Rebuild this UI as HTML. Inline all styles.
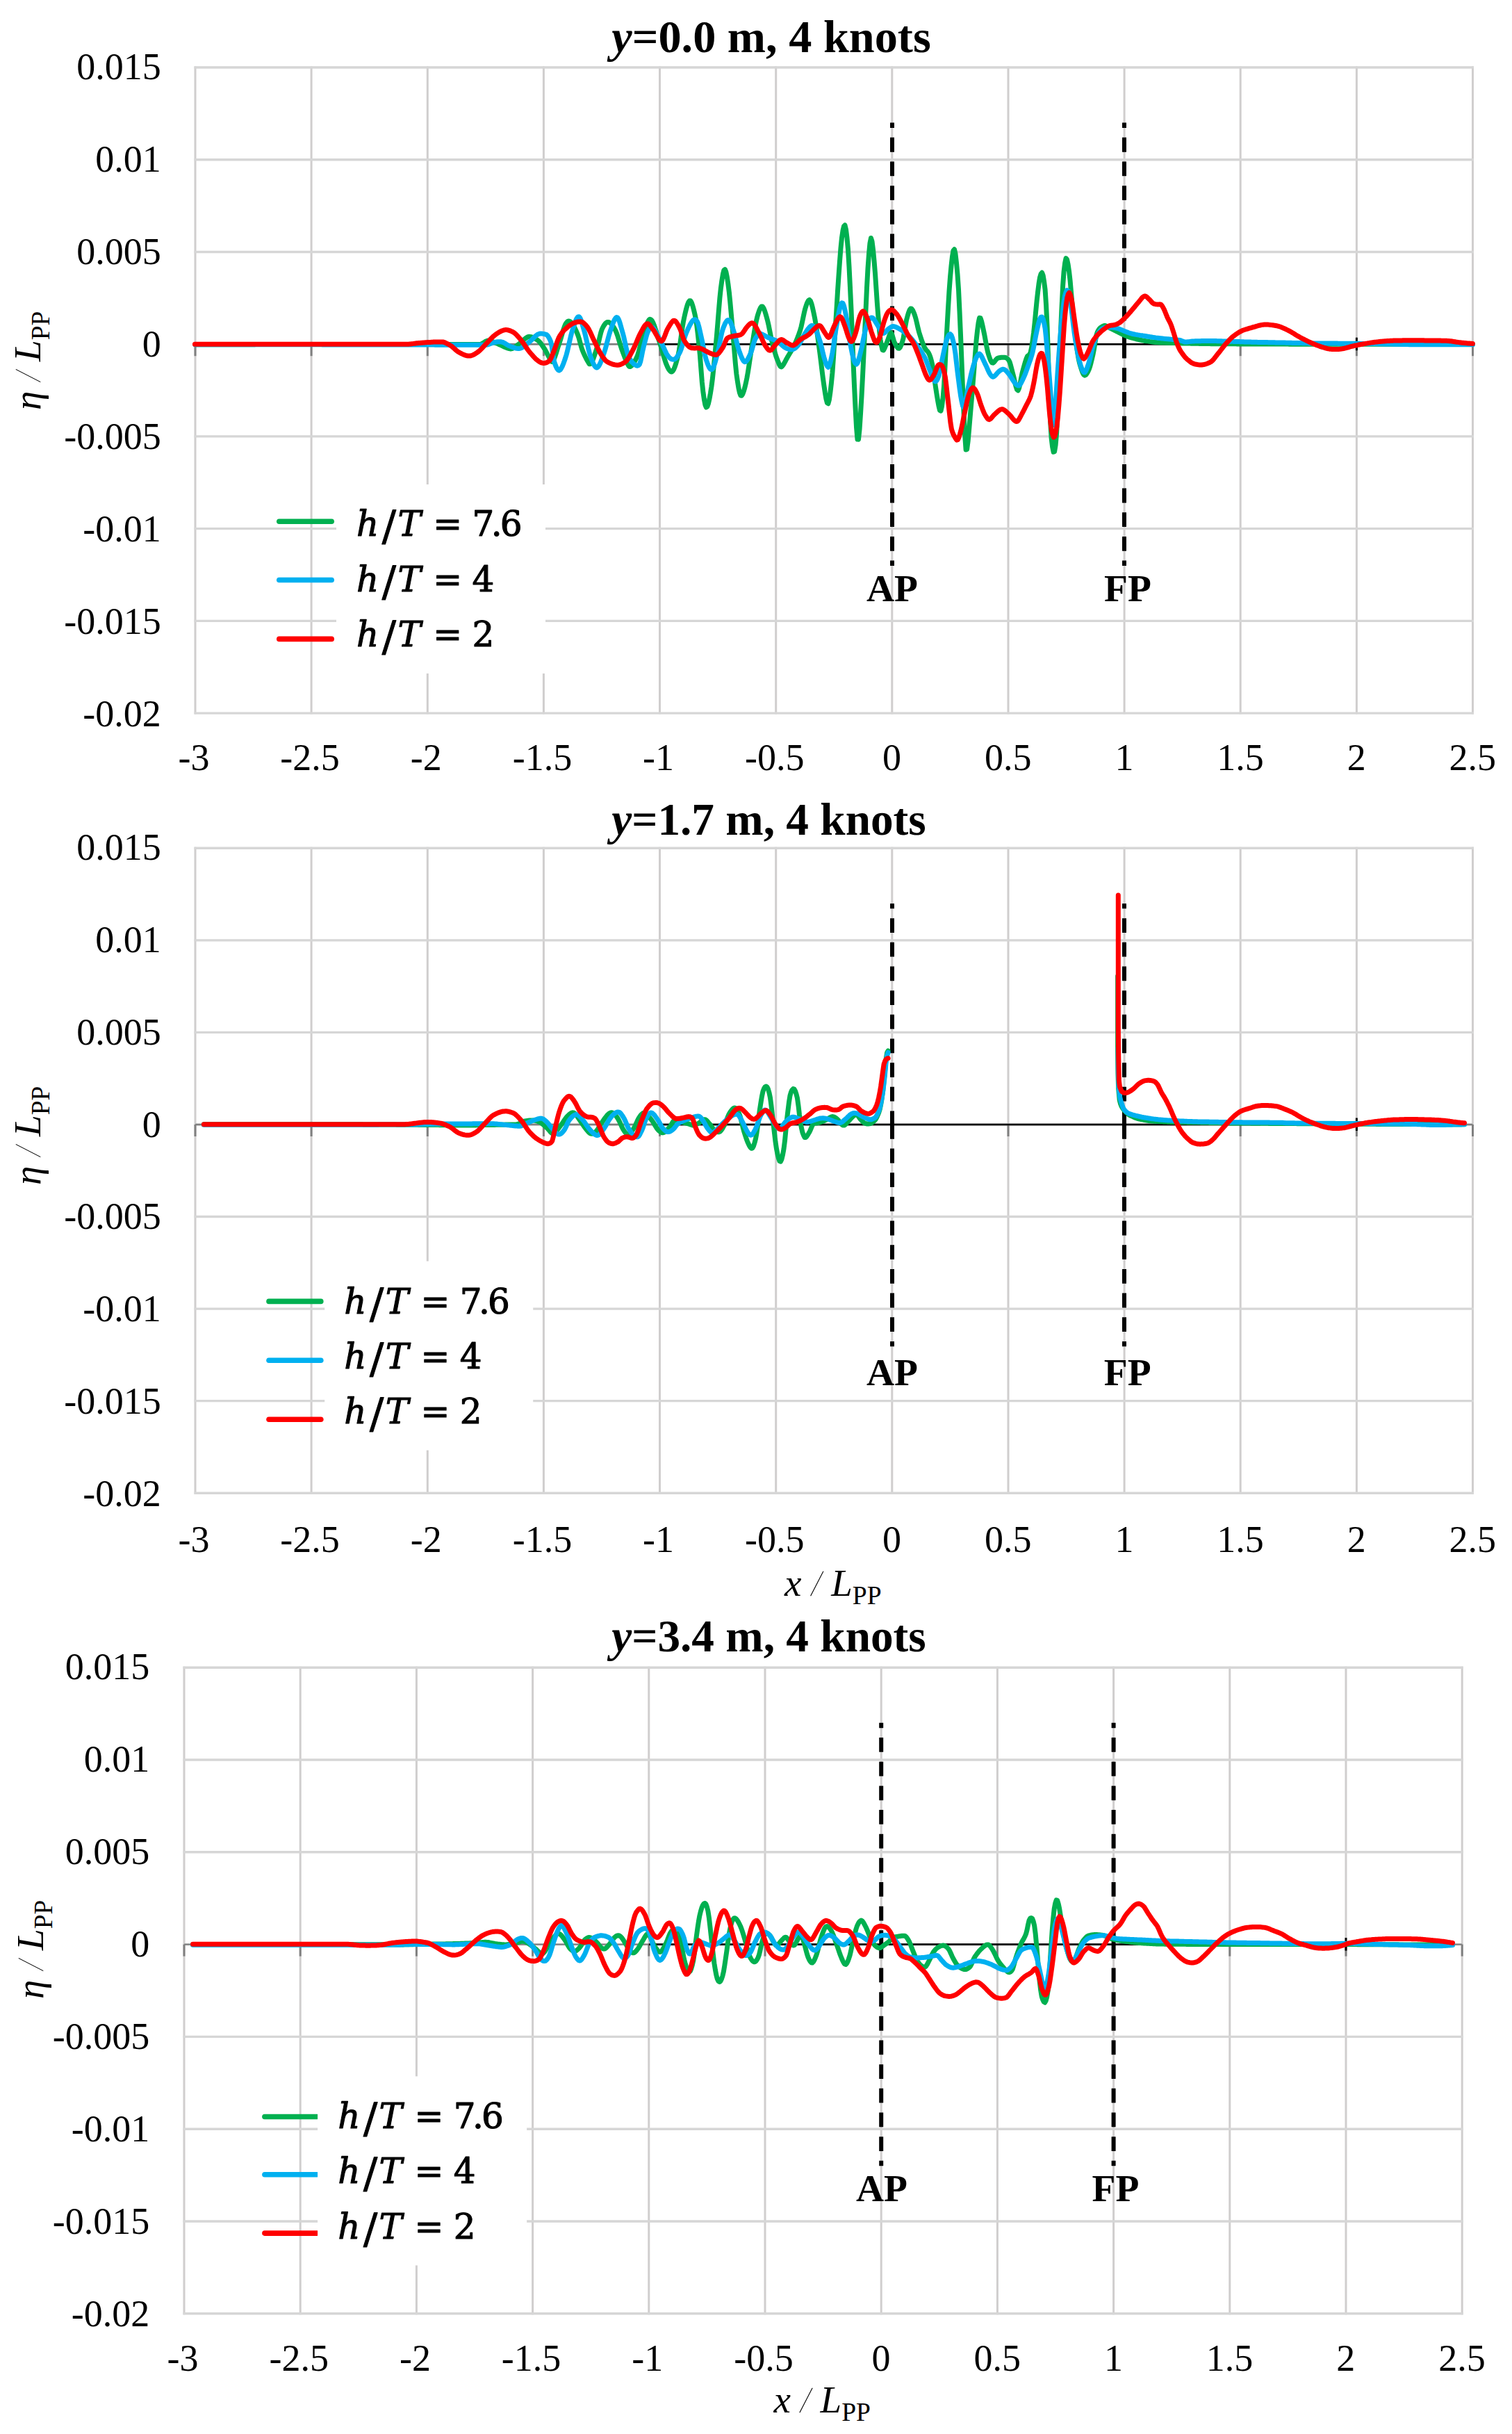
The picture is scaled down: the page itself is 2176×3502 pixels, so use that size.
<!DOCTYPE html>
<html><head><meta charset="utf-8"><title>Wave elevation profiles</title>
<style>html,body{margin:0;padding:0;background:#fff}svg{display:block}</style></head>
<body>
<svg width="2176" height="3502" viewBox="0 0 2176 3502">
<rect width="2176" height="3502" fill="#fff"/>
<line x1="281.0" y1="95.5" x2="281.0" y2="1027.6" stroke="#d0cece" stroke-width="3"/>
<line x1="448.1" y1="95.5" x2="448.1" y2="1027.6" stroke="#d0cece" stroke-width="3"/>
<line x1="615.3" y1="95.5" x2="615.3" y2="1027.6" stroke="#d0cece" stroke-width="3"/>
<line x1="782.4" y1="95.5" x2="782.4" y2="1027.6" stroke="#d0cece" stroke-width="3"/>
<line x1="949.5" y1="95.5" x2="949.5" y2="1027.6" stroke="#d0cece" stroke-width="3"/>
<line x1="1116.7" y1="95.5" x2="1116.7" y2="1027.6" stroke="#d0cece" stroke-width="3"/>
<line x1="1283.8" y1="95.5" x2="1283.8" y2="1027.6" stroke="#d0cece" stroke-width="3"/>
<line x1="1451.0" y1="95.5" x2="1451.0" y2="1027.6" stroke="#d0cece" stroke-width="3"/>
<line x1="1618.1" y1="95.5" x2="1618.1" y2="1027.6" stroke="#d0cece" stroke-width="3"/>
<line x1="1785.2" y1="95.5" x2="1785.2" y2="1027.6" stroke="#d0cece" stroke-width="3"/>
<line x1="1952.4" y1="95.5" x2="1952.4" y2="1027.6" stroke="#d0cece" stroke-width="3"/>
<line x1="2119.5" y1="95.5" x2="2119.5" y2="1027.6" stroke="#d0cece" stroke-width="3"/>
<line x1="279.5" y1="97.0" x2="2121.0" y2="97.0" stroke="#d6d6d6" stroke-width="3.4"/>
<line x1="279.5" y1="229.7" x2="2121.0" y2="229.7" stroke="#d6d6d6" stroke-width="3.4"/>
<line x1="279.5" y1="362.5" x2="2121.0" y2="362.5" stroke="#d6d6d6" stroke-width="3.4"/>
<line x1="279.5" y1="495.2" x2="2121.0" y2="495.2" stroke="#d6d6d6" stroke-width="3.4"/>
<line x1="279.5" y1="627.9" x2="2121.0" y2="627.9" stroke="#d6d6d6" stroke-width="3.4"/>
<line x1="279.5" y1="760.6" x2="2121.0" y2="760.6" stroke="#d6d6d6" stroke-width="3.4"/>
<line x1="279.5" y1="893.4" x2="2121.0" y2="893.4" stroke="#d6d6d6" stroke-width="3.4"/>
<line x1="279.5" y1="1026.1" x2="2121.0" y2="1026.1" stroke="#d6d6d6" stroke-width="3.4"/>
<line x1="281.0" y1="495.2" x2="281.0" y2="512.2" stroke="#808080" stroke-width="3"/>
<line x1="448.1" y1="495.2" x2="448.1" y2="512.2" stroke="#808080" stroke-width="3"/>
<line x1="615.3" y1="495.2" x2="615.3" y2="512.2" stroke="#808080" stroke-width="3"/>
<line x1="782.4" y1="495.2" x2="782.4" y2="512.2" stroke="#808080" stroke-width="3"/>
<line x1="949.5" y1="495.2" x2="949.5" y2="512.2" stroke="#808080" stroke-width="3"/>
<line x1="1116.7" y1="495.2" x2="1116.7" y2="512.2" stroke="#808080" stroke-width="3"/>
<line x1="1283.8" y1="495.2" x2="1283.8" y2="512.2" stroke="#808080" stroke-width="3"/>
<line x1="1451.0" y1="495.2" x2="1451.0" y2="512.2" stroke="#808080" stroke-width="3"/>
<line x1="1618.1" y1="495.2" x2="1618.1" y2="512.2" stroke="#808080" stroke-width="3"/>
<line x1="1785.2" y1="495.2" x2="1785.2" y2="512.2" stroke="#808080" stroke-width="3"/>
<line x1="1952.4" y1="495.2" x2="1952.4" y2="512.2" stroke="#808080" stroke-width="3"/>
<line x1="2119.5" y1="495.2" x2="2119.5" y2="512.2" stroke="#808080" stroke-width="3"/>
<line x1="281.0" y1="495.2" x2="2119.5" y2="495.2" stroke="#808080" stroke-width="2.4"/>
<line x1="949.5" y1="495.2" x2="1742.0" y2="495.2" stroke="#000" stroke-width="2.6"/>
<line x1="1952.4" y1="485.7" x2="1952.4" y2="504.2" stroke="#000" stroke-width="3"/>
<line x1="401.8" y1="750.3" x2="477.2" y2="750.3" stroke="#00b050" stroke-width="7.6" stroke-linecap="round"/>
<line x1="401.8" y1="834.5" x2="477.2" y2="834.5" stroke="#00b0f0" stroke-width="7.6" stroke-linecap="round"/>
<line x1="401.8" y1="919.4" x2="477.2" y2="919.4" stroke="#ff0000" stroke-width="7.6" stroke-linecap="round"/>
<rect x="484.0" y="697.0" width="301.0" height="272.0" fill="#fff"/>
<line x1="1284.0" y1="176.6" x2="1284.0" y2="495.2" stroke="#000" stroke-width="6" stroke-dasharray="20.8 13.86" stroke-dashoffset="13.4"/>
<line x1="1284.0" y1="814.0" x2="1284.0" y2="495.2" stroke="#000" stroke-width="6" stroke-dasharray="20.8 13.86" stroke-dashoffset="13.4"/>
<line x1="1618.0" y1="176.6" x2="1618.0" y2="495.2" stroke="#000" stroke-width="6" stroke-dasharray="20.8 13.86" stroke-dashoffset="13.4"/>
<line x1="1618.0" y1="814.0" x2="1618.0" y2="495.2" stroke="#000" stroke-width="6" stroke-dasharray="20.8 13.86" stroke-dashoffset="13.4"/>
<path d="M281.0 495.7 L282.5 495.7 L284.0 495.7 L285.5 495.7 L287.0 495.7 L288.5 495.7 L290.0 495.7 L291.5 495.7 L293.0 495.7 L294.5 495.7 L296.0 495.7 L297.5 495.7 L299.0 495.7 L300.5 495.7 L302.0 495.7 L303.5 495.7 L305.0 495.7 L306.5 495.7 L308.0 495.7 L309.5 495.7 L311.0 495.7 L312.5 495.7 L314.0 495.7 L315.5 495.7 L317.0 495.7 L318.5 495.7 L320.0 495.7 L321.5 495.7 L323.0 495.7 L324.5 495.7 L326.0 495.7 L327.5 495.7 L329.0 495.7 L330.5 495.7 L332.0 495.7 L333.5 495.7 L335.0 495.7 L336.5 495.7 L338.0 495.7 L339.5 495.7 L341.0 495.7 L342.5 495.7 L344.0 495.7 L345.5 495.7 L347.0 495.7 L348.5 495.7 L350.0 495.7 L351.5 495.7 L353.0 495.7 L354.5 495.7 L356.0 495.7 L357.5 495.7 L359.0 495.7 L360.5 495.7 L362.0 495.7 L363.5 495.7 L365.0 495.7 L366.5 495.7 L368.0 495.6 L369.5 495.6 L371.0 495.6 L372.5 495.6 L374.0 495.6 L375.5 495.6 L377.0 495.6 L378.5 495.6 L380.0 495.6 L381.5 495.6 L383.0 495.6 L384.5 495.6 L386.0 495.6 L387.5 495.6 L389.0 495.6 L390.5 495.6 L392.0 495.6 L393.5 495.6 L395.0 495.6 L396.5 495.6 L398.0 495.6 L399.5 495.6 L401.0 495.6 L402.5 495.6 L404.0 495.6 L405.5 495.6 L407.0 495.6 L408.5 495.6 L410.0 495.6 L411.5 495.6 L413.0 495.6 L414.5 495.6 L416.0 495.6 L417.5 495.6 L419.0 495.6 L420.5 495.6 L422.0 495.6 L423.5 495.6 L425.0 495.6 L426.5 495.6 L428.0 495.6 L429.5 495.6 L431.0 495.6 L432.5 495.6 L434.0 495.6 L435.5 495.6 L437.0 495.6 L438.5 495.6 L440.0 495.6 L441.5 495.6 L443.0 495.6 L444.5 495.6 L446.0 495.6 L447.5 495.6 L449.0 495.6 L450.5 495.6 L452.0 495.6 L453.5 495.6 L455.0 495.6 L456.5 495.6 L458.0 495.6 L459.5 495.6 L461.0 495.6 L462.6 495.6 L464.1 495.6 L465.6 495.6 L467.1 495.6 L468.6 495.6 L470.1 495.6 L471.6 495.6 L473.1 495.6 L474.6 495.6 L476.1 495.6 L477.6 495.6 L479.1 495.6 L480.6 495.6 L482.1 495.6 L483.6 495.6 L485.1 495.6 L486.6 495.6 L488.1 495.6 L489.6 495.6 L491.1 495.6 L492.6 495.6 L494.1 495.6 L495.6 495.6 L497.1 495.6 L498.6 495.6 L500.1 495.6 L501.6 495.5 L503.1 495.5 L504.6 495.5 L506.1 495.5 L507.6 495.5 L509.1 495.5 L510.6 495.5 L512.1 495.5 L513.6 495.5 L515.1 495.5 L516.6 495.5 L518.1 495.5 L519.6 495.5 L521.1 495.5 L522.6 495.5 L524.1 495.5 L525.6 495.5 L527.1 495.5 L528.6 495.5 L530.1 495.5 L531.6 495.5 L533.1 495.5 L534.6 495.5 L536.1 495.5 L537.6 495.5 L539.1 495.5 L540.6 495.5 L542.1 495.5 L543.6 495.5 L545.1 495.5 L546.6 495.5 L548.1 495.5 L549.6 495.5 L551.1 495.5 L552.6 495.5 L554.1 495.5 L555.6 495.5 L557.1 495.5 L558.6 495.5 L560.1 495.5 L561.6 495.5 L563.1 495.5 L564.6 495.5 L566.1 495.5 L567.6 495.5 L569.1 495.5 L570.6 495.5 L572.1 495.5 L573.6 495.5 L575.1 495.5 L576.6 495.5 L578.1 495.5 L579.6 495.5 L581.1 495.5 L582.6 495.5 L584.1 495.5 L585.6 495.5 L587.1 495.5 L588.6 495.5 L590.1 495.5 L591.6 495.5 L593.1 495.5 L594.6 495.5 L596.1 495.5 L597.6 495.5 L599.1 495.5 L600.6 495.5 L602.1 495.5 L603.6 495.5 L605.1 495.5 L606.6 495.5 L608.1 495.5 L609.6 495.5 L611.1 495.5 L612.6 495.5 L614.1 495.5 L615.6 495.5 L617.1 495.5 L618.6 495.5 L620.1 495.5 L621.6 495.5 L623.1 495.5 L624.6 495.5 L626.1 495.5 L627.6 495.5 L629.1 495.5 L630.6 495.5 L632.1 495.5 L633.6 495.5 L635.1 495.5 L636.6 495.5 L638.1 495.5 L639.6 495.5 L641.1 495.5 L642.6 495.5 L644.1 495.5 L645.6 495.5 L647.1 495.5 L648.7 495.5 L650.2 495.5 L651.7 495.5 L653.2 495.5 L654.7 495.5 L656.2 495.5 L657.7 495.5 L659.2 495.5 L660.7 495.5 L662.2 495.5 L663.7 495.5 L665.2 495.5 L666.7 495.5 L668.2 495.5 L669.7 495.5 L671.2 495.5 L672.7 495.5 L674.2 495.5 L675.7 495.5 L677.2 495.5 L678.7 495.5 L680.2 495.5 L681.7 495.5 L683.2 495.5 L684.7 495.5 L686.2 495.5 L687.7 495.5 L689.2 495.5 L690.7 495.5 L692.2 495.2 L693.7 494.5 L695.2 493.6 L696.7 492.6 L698.2 491.6 L699.7 490.7 L701.2 490.2 L702.7 490.0 L704.2 490.1 L705.7 490.4 L707.2 490.9 L708.7 491.4 L710.2 492.0 L711.7 492.7 L713.2 493.4 L714.7 494.0 L716.2 494.6 L717.7 495.3 L719.2 496.0 L720.7 496.7 L722.2 497.4 L723.7 498.1 L725.2 498.8 L726.7 499.5 L728.2 500.1 L729.7 500.7 L731.2 501.2 L732.7 501.6 L734.2 501.9 L735.7 501.9 L737.2 501.6 L738.7 500.9 L740.2 500.0 L741.7 499.0 L743.2 497.8 L744.7 496.6 L746.2 495.4 L747.7 494.2 L749.2 493.1 L750.7 491.8 L752.2 490.4 L753.7 489.0 L755.2 487.7 L756.7 486.5 L758.2 485.5 L759.7 484.7 L761.2 484.3 L762.7 484.4 L764.2 484.6 L765.7 485.1 L767.2 485.7 L768.7 486.4 L770.2 487.3 L771.7 488.2 L773.2 489.1 L774.7 490.2 L776.2 491.6 L777.7 493.3 L779.2 495.3 L780.7 497.5 L782.2 499.7 L783.7 502.0 L785.2 504.6 L786.7 507.4 L788.2 510.3 L789.7 513.2 L791.2 516.0 L792.7 519.1 L794.2 520.5 L795.7 519.5 L797.2 517.0 L798.7 513.2 L800.2 508.7 L801.7 503.7 L803.2 498.8 L804.7 494.4 L806.2 489.9 L807.7 484.9 L809.2 479.7 L810.7 474.7 L812.2 470.3 L813.7 466.7 L815.2 464.3 L816.7 462.7 L818.2 462.0 L819.7 462.2 L821.2 463.1 L822.7 464.6 L824.2 466.6 L825.7 469.1 L827.2 471.9 L828.7 475.0 L830.2 478.4 L831.7 482.1 L833.3 487.0 L834.8 492.6 L836.3 498.2 L837.8 502.9 L839.3 506.6 L840.8 510.1 L842.3 513.3 L843.8 516.3 L845.3 519.0 L846.8 521.5 L848.3 523.8 L849.8 523.5 L851.3 521.7 L852.8 518.7 L854.3 514.9 L855.8 510.6 L857.3 506.0 L858.8 501.3 L860.3 496.7 L861.8 490.8 L863.3 484.4 L864.8 478.4 L866.3 473.7 L867.8 470.7 L869.3 468.1 L870.8 466.0 L872.3 464.4 L873.8 463.5 L875.3 463.4 L876.8 463.9 L878.3 464.9 L879.8 466.3 L881.3 468.1 L882.8 470.2 L884.3 472.6 L885.8 475.4 L887.3 478.8 L888.8 483.1 L890.3 488.0 L891.8 493.0 L893.3 498.0 L894.8 502.6 L896.3 506.6 L897.8 510.6 L899.3 514.6 L900.8 518.3 L902.3 521.7 L903.8 524.8 L905.3 527.2 L906.8 527.5 L908.3 526.8 L909.8 525.4 L911.3 523.5 L912.8 521.0 L914.3 518.2 L915.8 515.2 L917.3 511.9 L918.8 507.4 L920.3 501.9 L921.8 496.0 L923.3 490.0 L924.8 484.4 L926.3 479.7 L927.8 475.3 L929.3 470.8 L930.8 466.6 L932.3 463.0 L933.8 460.5 L935.3 459.2 L936.8 459.7 L938.3 461.4 L939.8 464.2 L941.3 467.8 L942.8 472.0 L944.3 476.6 L945.8 481.5 L947.3 486.5 L948.8 491.2 L950.3 495.7 L951.8 500.7 L953.3 505.9 L954.8 511.2 L956.3 516.3 L957.8 521.0 L959.3 524.9 L960.8 528.3 L962.3 531.2 L963.8 533.3 L965.3 534.7 L966.8 535.0 L968.3 533.8 L969.8 531.2 L971.3 527.4 L972.8 522.8 L974.3 517.5 L975.8 511.9 L977.3 504.4 L978.8 494.6 L980.3 483.7 L981.8 473.0 L983.3 463.6 L984.8 456.4 L986.3 449.8 L987.8 443.7 L989.3 438.6 L990.8 434.8 L992.3 432.7 L993.8 432.8 L995.3 435.3 L996.8 439.6 L998.3 445.1 L999.8 451.4 L1001.3 458.3 L1002.8 468.3 L1004.3 480.8 L1005.8 494.9 L1007.3 510.2 L1008.8 529.7 L1010.3 549.3 L1011.8 563.2 L1013.3 574.0 L1014.8 582.2 L1016.3 586.1 L1017.9 585.1 L1019.4 580.9 L1020.9 574.3 L1022.4 566.0 L1023.9 556.5 L1025.4 544.7 L1026.9 530.7 L1028.4 515.4 L1029.9 499.7 L1031.4 483.7 L1032.9 465.5 L1034.4 446.5 L1035.9 428.8 L1037.4 414.4 L1038.9 403.5 L1040.4 394.5 L1041.9 388.7 L1043.4 387.6 L1044.9 391.4 L1046.4 399.0 L1047.9 409.0 L1049.4 420.9 L1050.9 435.9 L1052.4 452.7 L1053.9 469.7 L1055.4 486.8 L1056.9 505.5 L1058.4 523.5 L1059.9 538.2 L1061.4 548.8 L1062.9 558.0 L1064.4 565.1 L1065.9 569.0 L1067.4 569.2 L1068.9 566.8 L1070.4 562.8 L1071.9 557.5 L1073.4 551.1 L1074.9 543.9 L1076.4 535.5 L1077.9 525.9 L1079.4 515.8 L1080.9 505.7 L1082.4 496.1 L1083.9 487.3 L1085.4 478.3 L1086.9 469.6 L1088.4 461.9 L1089.9 455.6 L1091.4 450.6 L1092.9 446.2 L1094.4 442.9 L1095.9 441.0 L1097.4 441.1 L1098.9 443.2 L1100.4 446.8 L1101.9 451.5 L1103.4 456.8 L1104.9 462.4 L1106.4 469.1 L1107.9 476.6 L1109.4 484.2 L1110.9 491.2 L1112.4 497.1 L1113.9 502.7 L1115.4 507.9 L1116.9 512.7 L1118.4 516.7 L1119.9 520.6 L1121.4 524.4 L1122.9 527.1 L1124.4 527.9 L1125.9 526.7 L1127.4 524.7 L1128.9 522.1 L1130.4 519.3 L1131.9 516.4 L1133.4 513.8 L1134.9 511.3 L1136.4 508.8 L1137.9 506.2 L1139.4 503.6 L1140.9 500.9 L1142.4 498.0 L1143.9 495.0 L1145.4 491.7 L1146.9 488.2 L1148.4 484.3 L1149.9 480.2 L1151.4 475.8 L1152.9 470.6 L1154.4 464.0 L1155.9 456.7 L1157.4 449.7 L1158.9 443.7 L1160.4 439.0 L1161.9 435.1 L1163.4 432.4 L1164.9 431.4 L1166.4 432.9 L1167.9 436.9 L1169.4 442.7 L1170.9 449.5 L1172.4 456.7 L1173.9 465.0 L1175.4 474.8 L1176.9 485.5 L1178.4 496.7 L1179.9 507.9 L1181.4 519.7 L1182.9 532.3 L1184.4 544.3 L1185.9 554.9 L1187.4 565.1 L1188.9 573.8 L1190.4 579.7 L1191.9 580.7 L1193.4 575.0 L1194.9 564.6 L1196.4 551.7 L1197.9 536.5 L1199.4 515.6 L1200.9 492.1 L1202.4 468.9 L1204.0 444.2 L1205.5 419.3 L1207.0 396.9 L1208.5 376.0 L1210.0 356.8 L1211.5 341.9 L1213.0 331.9 L1214.5 325.5 L1216.0 324.0 L1217.5 330.2 L1219.0 342.5 L1220.5 358.9 L1222.0 383.7 L1223.5 414.0 L1225.0 445.7 L1226.5 481.9 L1228.0 520.5 L1229.5 555.1 L1231.0 586.0 L1232.5 614.4 L1234.0 632.1 L1235.5 632.2 L1237.0 617.9 L1238.5 595.3 L1240.0 570.2 L1241.5 541.4 L1243.0 510.0 L1244.5 478.8 L1246.0 446.8 L1247.5 414.2 L1249.0 386.3 L1250.5 365.7 L1252.0 349.6 L1253.5 342.5 L1255.0 347.2 L1256.5 359.1 L1258.0 375.0 L1259.5 393.3 L1261.0 415.4 L1262.5 437.7 L1264.0 456.8 L1265.5 474.8 L1267.0 488.5 L1268.5 497.0 L1270.0 503.4 L1271.5 504.0 L1273.0 501.1 L1274.5 497.5 L1276.0 493.6 L1277.5 489.8 L1279.0 485.4 L1280.5 481.1 L1282.0 478.6 L1283.5 480.3 L1285.0 485.4 L1286.5 490.8 L1288.0 494.2 L1289.5 497.0 L1291.0 499.4 L1292.5 501.0 L1294.0 501.3 L1295.5 499.6 L1297.0 496.3 L1298.5 492.1 L1300.0 486.7 L1301.5 478.3 L1303.0 468.9 L1304.5 460.7 L1306.0 455.1 L1307.5 450.0 L1309.0 446.1 L1310.5 444.0 L1312.0 444.3 L1313.5 446.3 L1315.0 449.6 L1316.5 453.6 L1318.0 458.5 L1319.5 464.8 L1321.0 471.4 L1322.5 477.4 L1324.0 482.3 L1325.5 486.9 L1327.0 491.3 L1328.5 495.2 L1330.0 498.8 L1331.5 501.7 L1333.0 503.7 L1334.5 505.2 L1336.0 507.1 L1337.5 510.0 L1339.0 514.0 L1340.5 519.3 L1342.0 525.7 L1343.5 535.1 L1345.0 546.4 L1346.5 557.1 L1348.0 566.6 L1349.5 575.9 L1351.0 584.2 L1352.5 590.4 L1354.0 591.2 L1355.5 584.5 L1357.0 572.9 L1358.5 555.9 L1360.0 528.4 L1361.5 497.3 L1363.0 470.1 L1364.5 443.7 L1366.0 418.9 L1367.5 398.8 L1369.0 382.6 L1370.5 369.2 L1372.0 360.5 L1373.5 358.8 L1375.0 365.4 L1376.5 378.3 L1378.0 394.9 L1379.5 416.6 L1381.0 448.0 L1382.5 482.3 L1384.0 520.5 L1385.5 559.6 L1387.0 593.1 L1388.6 625.9 L1390.1 647.1 L1391.6 646.5 L1393.1 634.9 L1394.6 618.1 L1396.1 600.1 L1397.6 582.8 L1399.1 564.6 L1400.6 546.2 L1402.1 527.7 L1403.6 507.9 L1405.1 489.5 L1406.6 475.6 L1408.1 464.3 L1409.6 457.3 L1411.1 457.7 L1412.6 462.4 L1414.1 468.9 L1415.6 476.0 L1417.1 483.3 L1418.6 491.6 L1420.1 499.8 L1421.6 506.6 L1423.1 511.5 L1424.6 516.0 L1426.1 519.6 L1427.6 521.8 L1429.1 522.2 L1430.6 521.0 L1432.1 519.2 L1433.6 517.2 L1435.1 515.7 L1436.6 515.1 L1438.1 514.7 L1439.6 514.5 L1441.1 514.3 L1442.6 514.2 L1444.1 514.2 L1445.6 514.3 L1447.1 514.5 L1448.6 515.2 L1450.1 516.3 L1451.6 518.0 L1453.1 520.8 L1454.6 525.8 L1456.1 531.7 L1457.6 537.4 L1459.1 543.2 L1460.6 549.9 L1462.1 556.2 L1463.6 560.6 L1465.1 561.8 L1466.6 558.5 L1468.1 552.0 L1469.6 544.1 L1471.1 536.7 L1472.6 531.1 L1474.1 525.7 L1475.6 520.5 L1477.1 515.9 L1478.6 512.5 L1480.1 511.3 L1481.6 510.2 L1483.1 507.0 L1484.6 500.0 L1486.1 490.0 L1487.6 478.7 L1489.1 465.0 L1490.6 448.8 L1492.1 433.3 L1493.6 420.0 L1495.1 407.9 L1496.6 398.9 L1498.1 394.0 L1499.6 392.3 L1501.1 396.2 L1502.6 405.1 L1504.1 416.7 L1505.6 439.4 L1507.1 470.7 L1508.6 515.0 L1510.1 569.1 L1511.6 605.1 L1513.1 630.4 L1514.6 642.8 L1516.1 650.3 L1517.6 649.7 L1519.1 640.4 L1520.6 623.7 L1522.1 589.8 L1523.6 550.8 L1525.1 511.9 L1526.6 473.9 L1528.1 441.2 L1529.6 411.5 L1531.1 390.6 L1532.6 378.6 L1534.1 371.6 L1535.6 373.4 L1537.1 380.4 L1538.6 390.7 L1540.1 403.9 L1541.6 421.2 L1543.1 438.5 L1544.6 454.5 L1546.1 470.4 L1547.6 484.5 L1549.1 496.0 L1550.6 506.6 L1552.1 515.7 L1553.6 522.6 L1555.1 527.6 L1556.6 532.3 L1558.1 536.3 L1559.6 539.1 L1561.1 540.1 L1562.6 539.4 L1564.1 537.6 L1565.6 535.0 L1567.1 531.8 L1568.6 527.5 L1570.1 522.0 L1571.6 515.9 L1573.1 509.4 L1574.7 501.0 L1576.2 491.4 L1577.7 483.0 L1579.2 478.0 L1580.7 475.1 L1582.2 472.9 L1583.7 471.4 L1585.2 470.5 L1586.7 469.7 L1588.2 468.9 L1589.7 468.5 L1591.2 468.8 L1592.7 469.4 L1594.2 470.1 L1595.7 471.0 L1597.2 471.8 L1598.7 472.6 L1600.2 473.3 L1601.7 474.1 L1603.2 474.8 L1604.7 475.6 L1606.2 476.3 L1607.7 477.1 L1609.2 477.8 L1610.7 478.6 L1612.2 479.4 L1613.7 480.2 L1615.2 481.0 L1616.7 481.7 L1618.2 482.4 L1619.7 483.0 L1621.2 483.6 L1622.7 484.1 L1624.2 484.6 L1625.7 485.1 L1627.2 485.6 L1628.7 486.0 L1630.2 486.4 L1631.7 486.8 L1633.2 487.2 L1634.7 487.6 L1636.2 488.0 L1637.7 488.3 L1639.2 488.7 L1640.7 489.0 L1642.2 489.3 L1643.7 489.7 L1645.2 489.9 L1646.7 490.2 L1648.2 490.5 L1649.7 490.7 L1651.2 490.9 L1652.7 491.1 L1654.2 491.4 L1655.7 491.6 L1657.2 491.8 L1658.7 492.0 L1660.2 492.2 L1661.7 492.4 L1663.2 492.5 L1664.7 492.6 L1666.2 492.8 L1667.7 492.8 L1669.2 492.9 L1670.7 493.0 L1672.2 493.0 L1673.7 493.0 L1675.2 493.1 L1676.7 493.1 L1678.2 493.2 L1679.7 493.2 L1681.2 493.3 L1682.7 493.3 L1684.2 493.3 L1685.7 493.4 L1687.2 493.4 L1688.7 493.5 L1690.2 493.5 L1691.7 493.6 L1693.2 493.6 L1694.7 493.7 L1696.2 493.7 L1697.7 493.8 L1699.2 493.8 L1700.7 493.9 L1702.2 493.9 L1703.7 493.9 L1705.2 494.0 L1706.7 494.0 L1708.2 494.1 L1709.7 494.1 L1711.2 494.1 L1712.7 494.1 L1714.2 494.2 L1715.7 494.2 L1717.2 494.2 L1718.7 494.2 L1720.2 494.3 L1721.7 494.3 L1723.2 494.3 L1724.7 494.3 L1726.2 494.4 L1727.7 494.4 L1729.2 494.4 L1730.7 494.4 L1732.2 494.5 L1733.7 494.5 L1735.2 494.5 L1736.7 494.6 L1738.2 494.6 L1739.7 494.6 L1741.2 494.6 L1742.7 494.7 L1744.2 494.7 L1745.7 494.7 L1747.2 494.7 L1748.7 494.7 L1750.2 494.7 L1751.7 494.7 L1753.2 494.8 L1754.7 494.8 L1756.2 494.8 L1757.7 494.8 L1759.3 494.8 L1760.8 494.8 L1762.3 494.8 L1763.8 494.8 L1765.3 494.8 L1766.8 494.8 L1768.3 494.8 L1769.8 494.8 L1771.3 494.8 L1772.8 494.8 L1774.3 494.8 L1775.8 494.8 L1777.3 494.8 L1778.8 494.8 L1780.3 494.9 L1781.8 494.9 L1783.3 494.9 L1784.8 494.9 L1786.3 494.9 L1787.8 494.9 L1789.3 494.9 L1790.8 494.9 L1792.3 494.9 L1793.8 494.9 L1795.3 494.9 L1796.8 494.9 L1798.3 494.9 L1799.8 494.9 L1801.3 494.9 L1802.8 494.9 L1804.3 494.9 L1805.8 495.0 L1807.3 495.0 L1808.8 495.0 L1810.3 495.0 L1811.8 495.0 L1813.3 495.0 L1814.8 495.0 L1816.3 495.0 L1817.8 495.0 L1819.3 495.0 L1820.8 495.0 L1822.3 495.0 L1823.8 495.0 L1825.3 495.0 L1826.8 495.0 L1828.3 495.0 L1829.8 495.1 L1831.3 495.1 L1832.8 495.1 L1834.3 495.1 L1835.8 495.1 L1837.3 495.1 L1838.8 495.1 L1840.3 495.1 L1841.8 495.1 L1843.3 495.1 L1844.8 495.1 L1846.3 495.1 L1847.8 495.1 L1849.3 495.1 L1850.8 495.1 L1852.3 495.1 L1853.8 495.1 L1855.3 495.2 L1856.8 495.2 L1858.3 495.2 L1859.8 495.2 L1861.3 495.2 L1862.8 495.2 L1864.3 495.2 L1865.8 495.2 L1867.3 495.2 L1868.8 495.2 L1870.3 495.2 L1871.8 495.2 L1873.3 495.2 L1874.8 495.2 L1876.3 495.2 L1877.8 495.3 L1879.3 495.3 L1880.8 495.3 L1882.3 495.3 L1883.8 495.3 L1885.3 495.3 L1886.8 495.3 L1888.3 495.3 L1889.8 495.3 L1891.3 495.3 L1892.8 495.3 L1894.3 495.3 L1895.8 495.3 L1897.3 495.3 L1898.8 495.3 L1900.3 495.3 L1901.8 495.3 L1903.3 495.3 L1904.8 495.3 L1906.3 495.3 L1907.8 495.3 L1909.3 495.3 L1910.8 495.3 L1912.3 495.3 L1913.8 495.3 L1915.3 495.3 L1916.8 495.3 L1918.3 495.3 L1919.8 495.3 L1921.3 495.3 L1922.8 495.3 L1924.3 495.3 L1925.8 495.3 L1927.3 495.3 L1928.8 495.3 L1930.3 495.3 L1931.8 495.3 L1933.3 495.3 L1934.8 495.3 L1936.3 495.3 L1937.8 495.3 L1939.3 495.3 L1940.8 495.3 L1942.3 495.3 L1943.8 495.3 L1945.4 495.3 L1946.9 495.3 L1948.4 495.3 L1949.9 495.3 L1951.4 495.3 L1952.9 495.3 L1954.4 495.3 L1955.9 495.3 L1957.4 495.3 L1958.9 495.3 L1960.4 495.3 L1961.9 495.3 L1963.4 495.3 L1964.9 495.3 L1966.4 495.3 L1967.9 495.3 L1969.4 495.3 L1970.9 495.3 L1972.4 495.3 L1973.9 495.3 L1975.4 495.3 L1976.9 495.3 L1978.4 495.3 L1979.9 495.3 L1981.4 495.3 L1982.9 495.3 L1984.4 495.3 L1985.9 495.3 L1987.4 495.3 L1988.9 495.3 L1990.4 495.3 L1991.9 495.3 L1993.4 495.3 L1994.9 495.3 L1996.4 495.3 L1997.9 495.3 L1999.4 495.3 L2000.9 495.3 L2002.4 495.3 L2003.9 495.3 L2005.4 495.3 L2006.9 495.3 L2008.4 495.3 L2009.9 495.3 L2011.4 495.3 L2012.9 495.3 L2014.4 495.3 L2015.9 495.3 L2017.4 495.3 L2018.9 495.3 L2020.4 495.3 L2021.9 495.3 L2023.4 495.3 L2024.9 495.3 L2026.4 495.3 L2027.9 495.3 L2029.4 495.3 L2030.9 495.3 L2032.4 495.3 L2033.9 495.3 L2035.4 495.3 L2036.9 495.3 L2038.4 495.3 L2039.9 495.3 L2041.4 495.3 L2042.9 495.3 L2044.4 495.3 L2045.9 495.3 L2047.4 495.3 L2048.9 495.3 L2050.4 495.3 L2051.9 495.3 L2053.4 495.3 L2054.9 495.3 L2056.4 495.3 L2057.9 495.3 L2059.4 495.3 L2060.9 495.3 L2062.4 495.3 L2063.9 495.3 L2065.4 495.3 L2066.9 495.3 L2068.4 495.3 L2069.9 495.3 L2071.4 495.3 L2072.9 495.3 L2074.4 495.3 L2075.9 495.3 L2077.4 495.3 L2078.9 495.3 L2080.4 495.3 L2081.9 495.3 L2083.4 495.3 L2084.9 495.3 L2086.4 495.3 L2087.9 495.3 L2089.4 495.3 L2090.9 495.3 L2092.4 495.3 L2093.9 495.3 L2095.4 495.3 L2096.9 495.3 L2098.4 495.3 L2099.9 495.3 L2101.4 495.3 L2102.9 495.3 L2104.4 495.3 L2105.9 495.3 L2107.4 495.3 L2108.9 495.3 L2110.4 495.3 L2111.9 495.3 L2113.4 495.3 L2114.9 495.3 L2116.4 495.3 L2117.9 495.3 L2119.4 495.3" fill="none" stroke="#00b050" stroke-width="7.0" stroke-linejoin="round" stroke-linecap="round"/>
<path d="M281.0 495.7 L282.5 495.7 L284.0 495.7 L285.5 495.7 L287.0 495.7 L288.5 495.7 L290.0 495.7 L291.5 495.7 L293.0 495.7 L294.5 495.7 L296.0 495.7 L297.5 495.7 L299.0 495.7 L300.5 495.7 L302.0 495.7 L303.5 495.7 L305.0 495.7 L306.5 495.7 L308.0 495.7 L309.5 495.7 L311.0 495.7 L312.5 495.7 L314.0 495.7 L315.5 495.7 L317.0 495.7 L318.5 495.7 L320.0 495.7 L321.5 495.7 L323.0 495.7 L324.5 495.7 L326.0 495.7 L327.5 495.7 L329.0 495.8 L330.5 495.8 L332.0 495.8 L333.5 495.8 L335.0 495.8 L336.5 495.8 L338.0 495.8 L339.5 495.8 L341.0 495.8 L342.5 495.8 L344.0 495.8 L345.5 495.8 L347.0 495.8 L348.5 495.8 L350.0 495.8 L351.5 495.8 L353.0 495.8 L354.5 495.8 L356.0 495.8 L357.5 495.8 L359.0 495.8 L360.5 495.8 L362.0 495.8 L363.5 495.8 L365.0 495.8 L366.5 495.8 L368.0 495.8 L369.5 495.8 L371.0 495.8 L372.5 495.8 L374.0 495.8 L375.5 495.8 L377.0 495.8 L378.5 495.8 L380.0 495.8 L381.5 495.8 L383.0 495.8 L384.5 495.8 L386.0 495.8 L387.5 495.8 L389.0 495.8 L390.5 495.8 L392.0 495.8 L393.5 495.8 L395.0 495.8 L396.5 495.8 L398.0 495.8 L399.5 495.8 L401.0 495.8 L402.5 495.8 L404.0 495.8 L405.5 495.8 L407.0 495.8 L408.5 495.8 L410.0 495.8 L411.5 495.8 L413.0 495.8 L414.5 495.8 L416.0 495.8 L417.5 495.8 L419.0 495.8 L420.5 495.8 L422.0 495.8 L423.5 495.8 L425.0 495.8 L426.5 495.8 L428.0 495.8 L429.5 495.8 L431.0 495.8 L432.5 495.8 L434.0 495.8 L435.5 495.8 L437.0 495.8 L438.5 495.8 L440.0 495.8 L441.5 495.8 L443.0 495.8 L444.5 495.8 L446.0 495.8 L447.5 495.8 L449.0 495.8 L450.5 495.8 L452.0 495.8 L453.5 495.8 L455.0 495.8 L456.5 495.8 L458.0 495.8 L459.5 495.8 L461.0 495.8 L462.6 495.8 L464.1 495.9 L465.6 495.9 L467.1 495.9 L468.6 495.9 L470.1 495.9 L471.6 495.9 L473.1 495.9 L474.6 495.9 L476.1 495.9 L477.6 495.9 L479.1 495.9 L480.6 495.9 L482.1 495.9 L483.6 495.9 L485.1 495.9 L486.6 495.9 L488.1 495.9 L489.6 495.9 L491.1 495.9 L492.6 495.9 L494.1 495.9 L495.6 495.9 L497.1 495.9 L498.6 495.9 L500.1 495.9 L501.6 495.9 L503.1 495.9 L504.6 495.9 L506.1 495.9 L507.6 495.9 L509.1 495.9 L510.6 495.9 L512.1 495.9 L513.6 495.9 L515.1 495.9 L516.6 495.9 L518.1 495.9 L519.6 495.9 L521.1 495.9 L522.6 495.9 L524.1 495.9 L525.6 495.9 L527.1 495.9 L528.6 495.9 L530.1 495.9 L531.6 495.9 L533.1 495.9 L534.6 495.9 L536.1 495.9 L537.6 495.9 L539.1 495.9 L540.6 495.9 L542.1 495.9 L543.6 495.9 L545.1 495.9 L546.6 495.9 L548.1 495.9 L549.6 495.9 L551.1 495.9 L552.6 495.9 L554.1 495.9 L555.6 495.9 L557.1 495.9 L558.6 495.9 L560.1 495.9 L561.6 495.9 L563.1 495.9 L564.6 495.9 L566.1 495.9 L567.6 495.9 L569.1 495.9 L570.6 495.9 L572.1 495.9 L573.6 495.9 L575.1 495.9 L576.6 495.9 L578.1 495.9 L579.6 495.9 L581.1 495.9 L582.6 495.9 L584.1 495.9 L585.6 495.9 L587.1 495.9 L588.6 495.9 L590.1 495.9 L591.6 495.9 L593.1 495.9 L594.6 495.9 L596.1 495.9 L597.6 495.9 L599.1 496.0 L600.6 496.0 L602.1 496.0 L603.6 496.0 L605.1 496.0 L606.6 496.0 L608.1 496.0 L609.6 496.0 L611.1 496.0 L612.6 496.0 L614.1 496.0 L615.6 496.1 L617.1 496.1 L618.6 496.1 L620.1 496.1 L621.6 496.1 L623.1 496.1 L624.6 496.1 L626.1 496.2 L627.6 496.2 L629.1 496.2 L630.6 496.2 L632.1 496.2 L633.6 496.2 L635.1 496.2 L636.6 496.2 L638.1 496.2 L639.6 496.2 L641.1 496.2 L642.6 496.2 L644.1 496.2 L645.6 496.2 L647.1 496.2 L648.7 496.2 L650.2 496.2 L651.7 496.2 L653.2 496.2 L654.7 496.2 L656.2 496.2 L657.7 496.2 L659.2 496.2 L660.7 496.2 L662.2 496.2 L663.7 496.2 L665.2 496.2 L666.7 496.2 L668.2 496.2 L669.7 496.2 L671.2 496.2 L672.7 496.2 L674.2 496.2 L675.7 496.2 L677.2 496.2 L678.7 496.2 L680.2 496.2 L681.7 496.2 L683.2 496.2 L684.7 496.2 L686.2 496.2 L687.7 496.2 L689.2 496.2 L690.7 496.2 L692.2 496.2 L693.7 496.2 L695.2 496.2 L696.7 496.2 L698.2 496.2 L699.7 496.2 L701.2 496.1 L702.7 495.7 L704.2 495.2 L705.7 494.5 L707.2 493.9 L708.7 493.3 L710.2 492.9 L711.7 492.6 L713.2 492.3 L714.7 492.0 L716.2 491.8 L717.7 491.7 L719.2 491.7 L720.7 491.8 L722.2 492.1 L723.7 492.5 L725.2 493.2 L726.7 494.1 L728.2 495.0 L729.7 495.9 L731.2 496.8 L732.7 497.6 L734.2 498.2 L735.7 498.8 L737.2 499.4 L738.7 499.9 L740.2 500.4 L741.7 500.9 L743.2 501.2 L744.7 501.4 L746.2 501.5 L747.7 501.4 L749.2 501.1 L750.7 500.5 L752.2 499.7 L753.7 498.7 L755.2 497.5 L756.7 496.3 L758.2 495.0 L759.7 493.7 L761.2 492.5 L762.7 491.3 L764.2 489.9 L765.7 488.5 L767.2 487.0 L768.7 485.5 L770.2 484.0 L771.7 482.7 L773.2 481.6 L774.7 480.7 L776.2 480.2 L777.7 479.9 L779.2 479.9 L780.7 480.1 L782.2 480.4 L783.7 480.7 L785.2 481.1 L786.7 481.6 L788.2 483.0 L789.7 485.3 L791.2 488.2 L792.7 491.6 L794.2 498.5 L795.7 509.6 L797.2 519.0 L798.7 523.6 L800.2 527.4 L801.7 530.4 L803.2 532.3 L804.7 533.0 L806.2 532.1 L807.7 530.0 L809.2 527.1 L810.7 523.5 L812.2 519.4 L813.7 515.0 L815.2 510.2 L816.7 504.3 L818.2 497.9 L819.7 491.2 L821.2 484.7 L822.7 478.8 L824.2 473.9 L825.7 469.3 L827.2 464.8 L828.7 460.9 L830.2 457.9 L831.7 456.0 L833.3 455.7 L834.8 457.3 L836.3 460.9 L837.8 465.7 L839.3 471.0 L840.8 476.2 L842.3 481.9 L843.8 488.4 L845.3 495.1 L846.8 501.7 L848.3 507.7 L849.8 512.7 L851.3 516.7 L852.8 520.5 L854.3 523.9 L855.8 526.5 L857.3 528.3 L858.8 529.0 L860.3 528.3 L861.8 526.5 L863.3 523.8 L864.8 520.3 L866.3 516.4 L867.8 512.2 L869.3 507.9 L870.8 503.2 L872.3 497.8 L873.8 492.1 L875.3 486.3 L876.8 480.9 L878.3 476.1 L879.8 471.8 L881.3 467.5 L882.8 463.5 L884.3 460.2 L885.8 457.8 L887.3 456.6 L888.8 457.1 L890.3 459.6 L891.8 463.6 L893.3 468.7 L894.8 474.1 L896.3 479.5 L897.8 485.2 L899.3 491.9 L900.8 498.9 L902.3 505.5 L903.8 510.8 L905.3 514.4 L906.8 517.1 L908.3 519.4 L909.8 521.4 L911.3 522.9 L912.8 524.2 L914.3 525.2 L915.8 526.0 L917.3 526.2 L918.8 525.7 L920.3 524.2 L921.8 520.0 L923.3 513.0 L924.8 505.2 L926.3 498.6 L927.8 492.8 L929.3 487.0 L930.8 481.6 L932.3 477.3 L933.8 474.5 L935.3 472.5 L936.8 471.2 L938.3 470.9 L939.8 471.7 L941.3 473.5 L942.8 475.8 L944.3 478.3 L945.8 481.1 L947.3 484.1 L948.8 487.2 L950.3 490.2 L951.8 493.2 L953.3 496.2 L954.8 499.5 L956.3 502.8 L957.8 506.1 L959.3 509.1 L960.8 511.5 L962.3 513.4 L963.8 514.9 L965.3 516.1 L966.8 516.8 L968.3 517.2 L969.8 517.1 L971.3 516.6 L972.8 515.4 L974.3 513.6 L975.8 511.5 L977.3 509.0 L978.8 506.1 L980.3 502.2 L981.8 497.5 L983.3 492.3 L984.8 487.2 L986.3 482.5 L987.8 478.5 L989.3 475.1 L990.8 471.8 L992.3 468.7 L993.8 465.9 L995.3 463.5 L996.8 461.5 L998.3 460.2 L999.8 459.7 L1001.3 460.1 L1002.8 461.6 L1004.3 464.6 L1005.8 469.9 L1007.3 476.3 L1008.8 483.0 L1010.3 489.7 L1011.8 497.3 L1013.3 505.0 L1014.8 512.1 L1016.3 517.6 L1017.9 522.2 L1019.4 526.1 L1020.9 529.2 L1022.4 531.2 L1023.9 531.7 L1025.4 530.6 L1026.9 527.8 L1028.4 523.7 L1029.9 518.7 L1031.4 513.2 L1032.9 507.6 L1034.4 501.1 L1035.9 493.3 L1037.4 485.3 L1038.9 478.3 L1040.4 473.3 L1041.9 469.3 L1043.4 465.8 L1044.9 463.1 L1046.4 461.2 L1047.9 460.5 L1049.4 461.1 L1050.9 463.1 L1052.4 466.3 L1053.9 470.4 L1055.4 475.0 L1056.9 479.7 L1058.4 485.0 L1059.9 491.0 L1061.4 497.0 L1062.9 502.4 L1064.4 506.8 L1065.9 510.8 L1067.4 514.5 L1068.9 517.6 L1070.4 519.8 L1071.9 520.7 L1073.4 520.3 L1074.9 518.7 L1076.4 516.3 L1077.9 513.4 L1079.4 510.1 L1080.9 506.6 L1082.4 502.1 L1083.9 496.8 L1085.4 491.6 L1086.9 487.5 L1088.4 485.1 L1089.9 483.1 L1091.4 481.4 L1092.9 480.4 L1094.4 480.1 L1095.9 480.7 L1097.4 481.3 L1098.9 482.1 L1100.4 482.9 L1101.9 483.7 L1103.4 484.6 L1104.9 485.3 L1106.4 486.1 L1107.9 486.7 L1109.4 487.3 L1110.9 487.8 L1112.4 488.4 L1113.9 488.9 L1115.4 489.5 L1116.9 490.1 L1118.4 490.9 L1119.9 491.8 L1121.4 492.9 L1122.9 494.2 L1124.4 495.6 L1125.9 497.0 L1127.4 498.3 L1128.9 499.5 L1130.4 500.4 L1131.9 501.2 L1133.4 501.8 L1134.9 502.3 L1136.4 502.7 L1137.9 502.9 L1139.4 502.9 L1140.9 502.7 L1142.4 502.1 L1143.9 501.2 L1145.4 500.0 L1146.9 498.5 L1148.4 496.9 L1149.9 495.2 L1151.4 493.1 L1152.9 490.4 L1154.4 487.6 L1155.9 484.6 L1157.4 481.8 L1158.9 479.2 L1160.4 477.0 L1161.9 474.7 L1163.4 472.7 L1164.9 470.9 L1166.4 469.5 L1167.9 468.5 L1169.4 468.4 L1170.9 469.3 L1172.4 471.4 L1173.9 474.3 L1175.4 477.8 L1176.9 481.8 L1178.4 486.0 L1179.9 490.3 L1181.4 495.4 L1182.9 501.9 L1184.4 508.5 L1185.9 514.2 L1187.4 519.1 L1188.9 523.5 L1190.4 526.7 L1191.9 528.2 L1193.4 526.5 L1194.9 521.8 L1196.4 515.2 L1197.9 507.9 L1199.4 499.0 L1200.9 488.3 L1202.4 477.4 L1204.0 467.8 L1205.5 459.1 L1207.0 450.7 L1208.5 443.5 L1210.0 438.4 L1211.5 435.7 L1213.0 436.2 L1214.5 440.1 L1216.0 446.2 L1217.5 453.5 L1219.0 462.2 L1220.5 472.8 L1222.0 483.8 L1223.5 493.4 L1225.0 501.4 L1226.5 508.9 L1228.0 515.3 L1229.5 519.9 L1231.0 522.8 L1232.5 524.0 L1234.0 522.5 L1235.5 518.5 L1237.0 513.0 L1238.5 506.8 L1240.0 500.5 L1241.5 493.3 L1243.0 485.7 L1244.5 478.6 L1246.0 472.9 L1247.5 467.8 L1249.0 463.3 L1250.5 460.0 L1252.0 458.2 L1253.5 457.2 L1255.0 456.9 L1256.5 457.8 L1258.0 459.8 L1259.5 462.2 L1261.0 464.8 L1262.5 467.3 L1264.0 469.7 L1265.5 472.3 L1267.0 475.0 L1268.5 477.4 L1270.0 479.1 L1271.5 479.6 L1273.0 478.9 L1274.5 477.5 L1276.0 475.8 L1277.5 474.1 L1279.0 472.8 L1280.5 471.8 L1282.0 470.8 L1283.5 470.0 L1285.0 469.6 L1286.5 469.7 L1288.0 470.1 L1289.5 470.6 L1291.0 471.4 L1292.5 472.2 L1294.0 473.0 L1295.5 473.8 L1297.0 474.7 L1298.5 475.7 L1300.0 476.8 L1301.5 477.9 L1303.0 479.1 L1304.5 480.4 L1306.0 481.7 L1307.5 483.0 L1309.0 484.5 L1310.5 486.1 L1312.0 487.8 L1313.5 489.6 L1315.0 491.5 L1316.5 493.4 L1318.0 495.3 L1319.5 497.2 L1321.0 499.2 L1322.5 501.2 L1324.0 503.2 L1325.5 505.4 L1327.0 507.7 L1328.5 510.2 L1330.0 512.8 L1331.5 515.7 L1333.0 519.2 L1334.5 523.0 L1336.0 527.1 L1337.5 531.1 L1339.0 534.8 L1340.5 538.8 L1342.0 542.6 L1343.5 546.0 L1345.0 548.4 L1346.5 548.9 L1348.0 547.6 L1349.5 544.8 L1351.0 540.9 L1352.5 534.9 L1354.0 527.3 L1355.5 519.4 L1357.0 512.3 L1358.5 505.2 L1360.0 498.2 L1361.5 491.9 L1363.0 487.1 L1364.5 483.5 L1366.0 481.3 L1367.5 480.6 L1369.0 482.1 L1370.5 486.0 L1372.0 491.8 L1373.5 498.9 L1375.0 509.0 L1376.5 522.1 L1378.0 535.2 L1379.5 546.9 L1381.0 558.6 L1382.5 569.1 L1384.0 577.3 L1385.5 584.0 L1387.0 586.1 L1388.6 582.0 L1390.1 575.0 L1391.6 566.8 L1393.1 559.0 L1394.6 552.2 L1396.1 545.4 L1397.6 538.6 L1399.1 532.5 L1400.6 527.1 L1402.1 522.3 L1403.6 517.9 L1405.1 514.3 L1406.6 511.7 L1408.1 509.7 L1409.6 509.0 L1411.1 510.3 L1412.6 512.7 L1414.1 515.6 L1415.6 518.9 L1417.1 522.1 L1418.6 525.1 L1420.1 528.4 L1421.6 531.8 L1423.1 535.1 L1424.6 537.9 L1426.1 540.1 L1427.6 541.6 L1429.1 542.3 L1430.6 541.7 L1432.1 540.4 L1433.6 538.8 L1435.1 537.0 L1436.6 535.3 L1438.1 534.0 L1439.6 532.9 L1441.1 532.0 L1442.6 531.3 L1444.1 531.2 L1445.6 531.7 L1447.1 532.8 L1448.6 534.3 L1450.1 536.0 L1451.6 537.8 L1453.1 539.7 L1454.6 542.0 L1456.1 544.5 L1457.6 546.9 L1459.1 549.1 L1460.6 551.0 L1462.1 552.8 L1463.6 554.2 L1465.1 554.9 L1466.6 554.7 L1468.1 553.2 L1469.6 550.8 L1471.1 547.8 L1472.6 544.5 L1474.1 541.3 L1475.6 537.6 L1477.1 533.5 L1478.6 529.3 L1480.1 525.0 L1481.6 520.9 L1483.1 516.7 L1484.6 512.0 L1486.1 506.5 L1487.6 499.4 L1489.1 491.3 L1490.6 483.3 L1492.1 476.2 L1493.6 469.4 L1495.1 463.3 L1496.6 458.6 L1498.1 456.2 L1499.6 456.0 L1501.1 459.0 L1502.6 464.6 L1504.1 472.5 L1505.6 486.8 L1507.1 504.4 L1508.6 521.9 L1510.1 540.9 L1511.6 560.4 L1513.1 581.5 L1514.6 599.9 L1516.1 611.6 L1517.6 604.3 L1519.1 581.4 L1520.6 559.0 L1522.1 535.7 L1523.6 514.4 L1525.1 494.5 L1526.6 476.1 L1528.1 460.3 L1529.6 446.8 L1531.1 434.7 L1532.6 425.5 L1534.1 420.4 L1535.6 417.7 L1537.1 418.5 L1538.6 423.6 L1540.1 432.1 L1541.6 441.9 L1543.1 453.9 L1544.6 466.8 L1546.1 478.5 L1547.6 488.5 L1549.1 497.8 L1550.6 506.0 L1552.1 513.2 L1553.6 519.8 L1555.1 525.4 L1556.6 529.7 L1558.1 533.3 L1559.6 535.7 L1561.1 535.9 L1562.6 533.9 L1564.1 530.5 L1565.6 526.3 L1567.1 521.7 L1568.6 516.1 L1570.1 509.6 L1571.6 503.1 L1573.1 497.7 L1574.7 493.0 L1576.2 488.6 L1577.7 484.9 L1579.2 482.1 L1580.7 479.7 L1582.2 477.3 L1583.7 475.3 L1585.2 473.7 L1586.7 472.7 L1588.2 472.1 L1589.7 471.6 L1591.2 471.1 L1592.7 470.8 L1594.2 470.6 L1595.7 470.7 L1597.2 470.8 L1598.7 470.9 L1600.2 471.1 L1601.7 471.2 L1603.2 471.5 L1604.7 471.7 L1606.2 472.0 L1607.7 472.4 L1609.2 472.8 L1610.7 473.3 L1612.2 473.9 L1613.7 474.5 L1615.2 475.2 L1616.7 475.8 L1618.2 476.4 L1619.7 477.0 L1621.2 477.6 L1622.7 478.1 L1624.2 478.7 L1625.7 479.2 L1627.2 479.7 L1628.7 480.1 L1630.2 480.5 L1631.7 480.8 L1633.2 481.1 L1634.7 481.4 L1636.2 481.6 L1637.7 481.9 L1639.2 482.1 L1640.7 482.4 L1642.2 482.6 L1643.7 482.8 L1645.2 483.1 L1646.7 483.3 L1648.2 483.5 L1649.7 483.7 L1651.2 484.0 L1652.7 484.2 L1654.2 484.5 L1655.7 484.7 L1657.2 484.9 L1658.7 485.2 L1660.2 485.4 L1661.7 485.6 L1663.2 485.9 L1664.7 486.1 L1666.2 486.3 L1667.7 486.5 L1669.2 486.6 L1670.7 486.8 L1672.2 487.0 L1673.7 487.1 L1675.2 487.3 L1676.7 487.4 L1678.2 487.6 L1679.7 487.7 L1681.2 487.8 L1682.7 488.0 L1684.2 488.1 L1685.7 488.3 L1687.2 488.4 L1688.7 488.6 L1690.2 488.7 L1691.7 488.8 L1693.2 489.0 L1694.7 489.1 L1696.2 489.3 L1697.7 489.5 L1699.2 489.8 L1700.7 490.4 L1702.2 491.0 L1703.7 491.6 L1705.2 492.0 L1706.7 492.1 L1708.2 492.0 L1709.7 491.8 L1711.2 491.6 L1712.7 491.4 L1714.2 491.2 L1715.7 491.0 L1717.2 490.9 L1718.7 490.9 L1720.2 490.8 L1721.7 490.8 L1723.2 490.8 L1724.7 490.7 L1726.2 490.7 L1727.7 490.7 L1729.2 490.6 L1730.7 490.6 L1732.2 490.6 L1733.7 490.5 L1735.2 490.5 L1736.7 490.5 L1738.2 490.5 L1739.7 490.5 L1741.2 490.5 L1742.7 490.5 L1744.2 490.5 L1745.7 490.5 L1747.2 490.5 L1748.7 490.6 L1750.2 490.6 L1751.7 490.7 L1753.2 490.7 L1754.7 490.7 L1756.2 490.8 L1757.7 490.8 L1759.3 490.9 L1760.8 490.9 L1762.3 491.0 L1763.8 491.0 L1765.3 491.1 L1766.8 491.1 L1768.3 491.2 L1769.8 491.2 L1771.3 491.3 L1772.8 491.3 L1774.3 491.3 L1775.8 491.4 L1777.3 491.4 L1778.8 491.5 L1780.3 491.5 L1781.8 491.6 L1783.3 491.6 L1784.8 491.7 L1786.3 491.7 L1787.8 491.8 L1789.3 491.8 L1790.8 491.9 L1792.3 491.9 L1793.8 491.9 L1795.3 492.0 L1796.8 492.0 L1798.3 492.1 L1799.8 492.1 L1801.3 492.2 L1802.8 492.2 L1804.3 492.2 L1805.8 492.3 L1807.3 492.3 L1808.8 492.3 L1810.3 492.4 L1811.8 492.4 L1813.3 492.4 L1814.8 492.5 L1816.3 492.5 L1817.8 492.5 L1819.3 492.5 L1820.8 492.6 L1822.3 492.6 L1823.8 492.6 L1825.3 492.7 L1826.8 492.7 L1828.3 492.7 L1829.8 492.8 L1831.3 492.8 L1832.8 492.8 L1834.3 492.8 L1835.8 492.9 L1837.3 492.9 L1838.8 492.9 L1840.3 493.0 L1841.8 493.0 L1843.3 493.0 L1844.8 493.1 L1846.3 493.1 L1847.8 493.1 L1849.3 493.1 L1850.8 493.2 L1852.3 493.2 L1853.8 493.2 L1855.3 493.3 L1856.8 493.3 L1858.3 493.3 L1859.8 493.4 L1861.3 493.4 L1862.8 493.4 L1864.3 493.4 L1865.8 493.5 L1867.3 493.5 L1868.8 493.5 L1870.3 493.6 L1871.8 493.6 L1873.3 493.6 L1874.8 493.7 L1876.3 493.7 L1877.8 493.7 L1879.3 493.8 L1880.8 493.8 L1882.3 493.8 L1883.8 493.9 L1885.3 493.9 L1886.8 493.9 L1888.3 493.9 L1889.8 493.9 L1891.3 493.9 L1892.8 493.9 L1894.3 494.0 L1895.8 494.0 L1897.3 494.0 L1898.8 494.0 L1900.3 494.0 L1901.8 494.0 L1903.3 494.0 L1904.8 494.0 L1906.3 494.0 L1907.8 494.0 L1909.3 494.0 L1910.8 494.0 L1912.3 494.1 L1913.8 494.1 L1915.3 494.1 L1916.8 494.1 L1918.3 494.1 L1919.8 494.1 L1921.3 494.1 L1922.8 494.1 L1924.3 494.1 L1925.8 494.2 L1927.3 494.2 L1928.8 494.2 L1930.3 494.2 L1931.8 494.2 L1933.3 494.2 L1934.8 494.2 L1936.3 494.2 L1937.8 494.2 L1939.3 494.2 L1940.8 494.3 L1942.3 494.3 L1943.8 494.3 L1945.4 494.3 L1946.9 494.3 L1948.4 494.3 L1949.9 494.3 L1951.4 494.3 L1952.9 494.3 L1954.4 494.3 L1955.9 494.3 L1957.4 494.4 L1958.9 494.4 L1960.4 494.4 L1961.9 494.4 L1963.4 494.4 L1964.9 494.4 L1966.4 494.4 L1967.9 494.4 L1969.4 494.4 L1970.9 494.5 L1972.4 494.5 L1973.9 494.5 L1975.4 494.5 L1976.9 494.5 L1978.4 494.6 L1979.9 494.6 L1981.4 494.6 L1982.9 494.7 L1984.4 494.7 L1985.9 494.7 L1987.4 494.8 L1988.9 494.8 L1990.4 494.8 L1991.9 494.9 L1993.4 494.9 L1994.9 494.9 L1996.4 495.0 L1997.9 495.0 L1999.4 495.0 L2000.9 495.1 L2002.4 495.1 L2003.9 495.1 L2005.4 495.2 L2006.9 495.2 L2008.4 495.2 L2009.9 495.2 L2011.4 495.3 L2012.9 495.3 L2014.4 495.3 L2015.9 495.4 L2017.4 495.4 L2018.9 495.4 L2020.4 495.5 L2021.9 495.5 L2023.4 495.5 L2024.9 495.6 L2026.4 495.6 L2027.9 495.7 L2029.4 495.7 L2030.9 495.7 L2032.4 495.8 L2033.9 495.8 L2035.4 495.8 L2036.9 495.8 L2038.4 495.8 L2039.9 495.8 L2041.4 495.8 L2042.9 495.8 L2044.4 495.8 L2045.9 495.8 L2047.4 495.8 L2048.9 495.8 L2050.4 495.8 L2051.9 495.8 L2053.4 495.8 L2054.9 495.8 L2056.4 495.8 L2057.9 495.8 L2059.4 495.8 L2060.9 495.8 L2062.4 495.8 L2063.9 495.8 L2065.4 495.8 L2066.9 495.8 L2068.4 495.8 L2069.9 495.8 L2071.4 495.8 L2072.9 495.8 L2074.4 495.8 L2075.9 495.8 L2077.4 495.8 L2078.9 495.8 L2080.4 495.8 L2081.9 495.8 L2083.4 495.8 L2084.9 495.8 L2086.4 495.8 L2087.9 495.8 L2089.4 495.8 L2090.9 495.8 L2092.4 495.8 L2093.9 495.8 L2095.4 495.8 L2096.9 495.8 L2098.4 495.8 L2099.9 495.8 L2101.4 495.8 L2102.9 495.8 L2104.4 495.8 L2105.9 495.8 L2107.4 495.8 L2108.9 495.8 L2110.4 495.8 L2111.9 495.8 L2113.4 495.8 L2114.9 495.8 L2116.4 495.8 L2117.9 495.8 L2119.4 495.8" fill="none" stroke="#00b0f0" stroke-width="7.0" stroke-linejoin="round" stroke-linecap="round"/>
<path d="M280.4 495.3 L281.9 495.3 L283.4 495.3 L284.9 495.3 L286.4 495.3 L287.9 495.3 L289.4 495.3 L290.9 495.3 L292.4 495.3 L293.9 495.3 L295.4 495.3 L296.9 495.3 L298.4 495.3 L299.9 495.3 L301.4 495.3 L302.9 495.3 L304.4 495.3 L305.9 495.3 L307.4 495.3 L308.9 495.3 L310.4 495.3 L311.9 495.3 L313.4 495.3 L314.9 495.3 L316.4 495.3 L317.9 495.3 L319.4 495.3 L320.9 495.3 L322.4 495.3 L323.9 495.3 L325.4 495.3 L326.9 495.3 L328.4 495.3 L329.9 495.3 L331.4 495.3 L332.9 495.3 L334.4 495.3 L335.9 495.3 L337.4 495.3 L338.9 495.3 L340.4 495.3 L341.9 495.3 L343.4 495.3 L344.9 495.3 L346.4 495.3 L347.9 495.3 L349.4 495.3 L350.9 495.3 L352.4 495.3 L353.9 495.3 L355.4 495.3 L356.9 495.3 L358.4 495.3 L359.9 495.3 L361.4 495.3 L362.9 495.3 L364.4 495.3 L365.9 495.3 L367.4 495.3 L368.9 495.3 L370.4 495.3 L371.9 495.3 L373.4 495.3 L374.9 495.3 L376.4 495.3 L377.9 495.3 L379.4 495.3 L380.9 495.3 L382.4 495.3 L383.9 495.3 L385.4 495.3 L386.9 495.3 L388.4 495.3 L389.9 495.3 L391.4 495.3 L392.9 495.3 L394.4 495.3 L395.9 495.3 L397.4 495.3 L398.9 495.3 L400.4 495.3 L401.9 495.3 L403.4 495.3 L404.9 495.3 L406.4 495.3 L407.9 495.3 L409.4 495.3 L410.9 495.3 L412.4 495.3 L413.9 495.3 L415.4 495.3 L416.9 495.3 L418.4 495.3 L419.9 495.3 L421.4 495.3 L422.9 495.3 L424.4 495.3 L425.9 495.3 L427.4 495.3 L428.9 495.3 L430.4 495.3 L431.9 495.3 L433.4 495.3 L434.9 495.3 L436.4 495.3 L437.9 495.3 L439.4 495.3 L440.9 495.3 L442.4 495.3 L443.9 495.3 L445.4 495.3 L446.9 495.3 L448.4 495.3 L449.9 495.3 L451.4 495.3 L452.9 495.3 L454.4 495.3 L455.9 495.3 L457.4 495.3 L458.9 495.3 L460.4 495.3 L461.9 495.3 L463.4 495.3 L464.9 495.3 L466.4 495.3 L467.9 495.3 L469.4 495.3 L470.9 495.3 L472.4 495.3 L473.9 495.3 L475.4 495.3 L476.9 495.3 L478.4 495.3 L479.9 495.3 L481.4 495.3 L482.9 495.3 L484.4 495.3 L485.9 495.3 L487.4 495.3 L488.9 495.3 L490.4 495.3 L491.9 495.3 L493.4 495.3 L494.9 495.3 L496.4 495.3 L497.9 495.3 L499.4 495.3 L500.9 495.3 L502.4 495.3 L503.9 495.3 L505.4 495.3 L506.9 495.3 L508.4 495.3 L509.9 495.3 L511.4 495.3 L512.9 495.3 L514.4 495.3 L515.9 495.3 L517.4 495.3 L518.9 495.3 L520.4 495.3 L521.9 495.3 L523.4 495.3 L524.9 495.3 L526.4 495.3 L527.9 495.3 L529.4 495.3 L530.9 495.3 L532.4 495.3 L533.9 495.3 L535.4 495.3 L536.9 495.3 L538.4 495.3 L539.9 495.3 L541.4 495.3 L542.9 495.3 L544.4 495.3 L545.9 495.3 L547.4 495.3 L548.9 495.3 L550.4 495.3 L551.9 495.3 L553.4 495.3 L554.9 495.3 L556.4 495.3 L557.9 495.3 L559.4 495.3 L560.9 495.3 L562.4 495.3 L563.9 495.3 L565.4 495.3 L566.9 495.3 L568.4 495.3 L569.9 495.3 L571.4 495.3 L572.9 495.3 L574.4 495.3 L575.9 495.3 L577.4 495.3 L578.9 495.3 L580.4 495.3 L581.9 495.3 L583.4 495.3 L584.9 495.3 L586.4 495.3 L587.9 495.2 L589.4 495.1 L590.9 495.0 L592.4 494.8 L593.9 494.6 L595.4 494.4 L596.9 494.2 L598.4 494.0 L599.9 493.8 L601.4 493.7 L602.9 493.5 L604.4 493.4 L605.9 493.3 L607.4 493.2 L608.9 493.0 L610.4 492.9 L611.9 492.8 L613.4 492.7 L614.9 492.6 L616.4 492.5 L617.9 492.4 L619.4 492.4 L620.9 492.3 L622.4 492.2 L623.9 492.1 L625.4 492.1 L626.9 492.0 L628.4 492.0 L629.9 492.0 L631.4 491.9 L632.9 491.9 L634.4 491.9 L635.9 491.9 L637.4 492.0 L638.9 492.4 L640.4 492.9 L641.9 493.6 L643.4 494.3 L644.9 495.1 L646.4 496.0 L647.9 496.8 L649.4 497.8 L650.9 499.0 L652.4 500.3 L653.9 501.7 L655.4 503.0 L656.9 504.3 L658.4 505.5 L659.9 506.4 L661.4 507.3 L662.9 508.1 L664.4 508.9 L665.9 509.6 L667.4 510.3 L668.9 510.9 L670.4 511.4 L671.9 511.8 L673.4 512.0 L674.9 512.1 L676.4 512.1 L677.9 511.8 L679.4 511.3 L680.9 510.7 L682.4 509.9 L683.9 509.0 L685.4 508.1 L686.9 507.0 L688.4 506.0 L689.9 504.8 L691.4 503.4 L692.9 501.9 L694.4 500.3 L695.9 498.7 L697.4 497.0 L698.9 495.4 L700.4 493.9 L701.9 492.3 L703.4 490.7 L704.9 489.1 L706.4 487.5 L707.9 486.0 L709.4 484.5 L710.9 483.2 L712.4 482.0 L713.9 480.9 L715.4 479.8 L716.9 478.8 L718.4 477.9 L719.9 477.1 L721.4 476.3 L722.9 475.7 L724.4 475.2 L725.9 474.8 L727.4 474.6 L728.9 474.6 L730.4 474.8 L731.9 475.1 L733.4 475.6 L734.9 476.1 L736.4 476.8 L737.9 477.5 L739.4 478.4 L740.9 479.5 L742.4 480.9 L743.9 482.4 L745.4 484.1 L746.9 485.8 L748.4 487.6 L749.9 489.4 L751.4 491.3 L752.9 493.3 L754.4 495.5 L755.9 497.7 L757.4 500.0 L758.9 502.2 L760.4 504.3 L761.9 506.2 L763.4 508.0 L764.9 509.7 L766.4 511.4 L767.9 513.1 L769.4 514.7 L770.9 516.2 L772.4 517.6 L773.9 518.8 L775.4 519.9 L776.9 520.9 L778.4 521.6 L779.9 522.1 L781.4 522.4 L782.9 522.5 L784.4 522.3 L785.9 521.9 L787.4 521.3 L788.9 520.4 L790.4 519.4 L791.9 517.5 L793.4 514.5 L794.9 510.8 L796.4 506.9 L797.9 503.1 L799.4 499.0 L800.9 494.6 L802.4 490.2 L803.9 486.5 L805.4 483.7 L806.9 481.3 L808.4 479.2 L809.9 477.3 L811.4 475.6 L812.9 474.1 L814.4 472.8 L815.9 471.5 L817.4 470.2 L818.9 468.9 L820.4 467.8 L821.9 466.8 L823.4 465.9 L824.9 465.2 L826.4 464.6 L827.9 464.0 L829.4 463.6 L830.9 463.2 L832.4 463.0 L833.9 462.9 L835.4 462.8 L836.9 463.1 L838.4 463.7 L839.9 464.7 L841.4 466.1 L842.9 467.6 L844.4 469.4 L845.9 471.4 L847.4 473.9 L848.9 476.8 L850.4 480.0 L851.9 483.4 L853.4 486.7 L854.9 489.8 L856.4 492.9 L857.9 496.1 L859.4 499.3 L860.9 502.4 L862.4 505.3 L863.9 507.9 L865.4 510.3 L866.9 512.7 L868.4 514.9 L869.9 516.9 L871.4 518.6 L872.9 519.9 L874.4 520.8 L875.9 521.6 L877.4 522.3 L878.9 523.0 L880.4 523.6 L881.9 524.1 L883.4 524.5 L884.9 524.9 L886.4 525.1 L887.9 525.2 L889.4 525.2 L890.9 525.1 L892.4 524.7 L893.9 524.1 L895.4 523.4 L896.9 522.6 L898.4 521.6 L899.9 520.6 L901.4 519.2 L902.9 517.4 L904.4 515.3 L905.9 512.8 L907.4 510.1 L908.9 507.2 L910.4 504.3 L911.9 501.4 L913.4 498.4 L914.9 494.9 L916.4 491.3 L917.9 487.6 L919.4 484.1 L920.9 481.0 L922.4 478.2 L923.9 475.4 L925.4 472.6 L926.9 470.0 L928.4 467.9 L929.9 466.4 L931.4 465.7 L932.9 466.0 L934.4 467.1 L935.9 468.8 L937.4 470.8 L938.9 472.9 L940.4 474.8 L941.9 477.0 L943.4 479.7 L944.9 482.4 L946.4 485.1 L947.9 487.6 L949.4 489.5 L950.9 490.7 L952.4 490.9 L953.9 489.4 L955.4 486.5 L956.9 482.8 L958.4 478.7 L959.9 474.9 L961.4 472.0 L962.9 469.5 L964.4 467.0 L965.9 464.7 L967.4 462.8 L968.9 461.5 L970.4 461.2 L971.9 461.9 L973.4 463.6 L974.9 465.9 L976.4 468.7 L977.9 471.5 L979.4 474.9 L980.9 479.3 L982.4 484.0 L983.9 488.2 L985.4 491.2 L986.9 493.4 L988.4 495.4 L989.9 497.1 L991.4 498.6 L992.9 499.7 L994.4 500.4 L995.9 500.7 L997.4 500.8 L998.9 500.9 L1000.4 500.9 L1001.9 500.8 L1003.4 500.8 L1004.9 500.8 L1006.4 501.0 L1007.9 501.3 L1009.4 501.8 L1010.9 502.4 L1012.4 503.2 L1013.9 504.0 L1015.4 504.8 L1016.9 505.6 L1018.4 506.4 L1019.9 507.1 L1021.4 507.8 L1022.9 508.5 L1024.4 509.1 L1025.9 509.6 L1027.4 510.0 L1028.9 510.3 L1030.4 510.5 L1031.9 510.2 L1033.4 509.2 L1034.9 507.6 L1036.4 505.7 L1037.9 503.5 L1039.4 501.3 L1040.9 498.9 L1042.4 495.5 L1043.9 491.7 L1045.4 488.4 L1046.9 486.3 L1048.4 485.6 L1049.9 485.0 L1051.4 484.6 L1052.9 484.2 L1054.4 483.8 L1055.9 483.5 L1057.4 483.2 L1058.9 482.9 L1060.4 482.7 L1061.9 482.5 L1063.4 482.2 L1064.9 481.9 L1066.4 481.3 L1067.9 480.2 L1069.4 478.4 L1070.9 476.3 L1072.4 474.0 L1073.9 471.7 L1075.4 469.9 L1076.9 468.3 L1078.4 466.8 L1079.9 465.6 L1081.4 464.8 L1082.9 464.8 L1084.4 465.6 L1085.9 467.4 L1087.4 469.7 L1088.9 472.4 L1090.4 475.4 L1091.9 478.2 L1093.4 480.9 L1094.9 484.0 L1096.4 487.3 L1097.9 490.7 L1099.4 493.8 L1100.9 496.5 L1102.4 498.8 L1103.9 500.9 L1105.4 502.7 L1106.9 503.9 L1108.4 504.2 L1109.9 503.5 L1111.4 501.9 L1112.9 499.9 L1114.4 497.8 L1115.9 496.0 L1117.4 494.4 L1118.9 492.7 L1120.4 491.0 L1121.9 489.6 L1123.4 488.7 L1124.9 488.6 L1126.4 489.1 L1127.9 490.0 L1129.4 491.1 L1130.9 492.1 L1132.4 493.1 L1133.9 493.9 L1135.4 494.8 L1136.9 495.7 L1138.4 496.4 L1139.9 496.8 L1141.4 496.9 L1142.9 496.4 L1144.4 495.4 L1145.9 494.2 L1147.4 492.7 L1148.9 491.2 L1150.4 489.8 L1151.9 488.6 L1153.4 487.6 L1154.9 486.7 L1156.4 485.9 L1157.9 485.1 L1159.4 484.3 L1160.9 483.4 L1162.4 482.4 L1163.9 481.4 L1165.4 480.1 L1166.9 478.5 L1168.4 476.9 L1169.9 475.3 L1171.4 473.7 L1172.9 472.3 L1174.4 471.0 L1175.9 469.8 L1177.4 468.9 L1178.9 468.5 L1180.4 468.9 L1181.9 470.3 L1183.4 472.7 L1184.9 475.3 L1186.4 477.8 L1187.9 480.0 L1189.4 482.4 L1190.9 484.5 L1192.4 485.5 L1193.9 484.8 L1195.4 482.1 L1196.9 478.2 L1198.4 474.1 L1199.9 470.5 L1201.4 467.3 L1202.9 464.1 L1204.4 461.1 L1205.9 458.6 L1207.4 456.6 L1208.9 455.6 L1210.4 456.3 L1211.9 458.8 L1213.4 462.4 L1214.9 466.5 L1216.4 470.6 L1217.9 475.3 L1219.4 480.2 L1220.9 484.7 L1222.4 488.1 L1223.9 490.5 L1225.4 491.5 L1226.9 490.4 L1228.4 487.5 L1229.9 483.5 L1231.4 479.1 L1232.9 473.8 L1234.4 467.0 L1235.9 460.3 L1237.4 455.1 L1238.9 451.6 L1240.4 448.9 L1241.9 447.7 L1243.4 448.5 L1244.9 450.6 L1246.4 453.7 L1247.9 457.4 L1249.4 461.5 L1250.9 466.6 L1252.4 472.0 L1253.9 477.1 L1255.4 481.5 L1256.9 485.8 L1258.4 489.6 L1259.9 492.1 L1261.4 492.7 L1262.9 491.5 L1264.4 488.9 L1265.9 485.5 L1267.4 481.2 L1268.9 475.5 L1270.4 469.3 L1271.9 463.8 L1273.4 459.4 L1274.9 455.2 L1276.4 451.7 L1277.9 449.2 L1279.4 447.6 L1280.9 446.4 L1282.4 445.7 L1283.9 445.7 L1285.4 446.5 L1286.9 447.8 L1288.4 449.4 L1289.9 451.2 L1291.4 453.2 L1292.9 455.4 L1294.4 458.0 L1295.9 460.7 L1297.4 463.6 L1298.9 466.4 L1300.4 469.3 L1301.9 472.4 L1303.4 475.5 L1304.9 478.6 L1306.4 481.5 L1307.9 484.1 L1309.4 486.3 L1310.9 488.4 L1312.4 490.4 L1313.9 492.7 L1315.4 495.4 L1316.9 498.6 L1318.4 502.2 L1319.9 505.9 L1321.4 509.7 L1322.9 513.6 L1324.4 517.7 L1325.9 521.8 L1327.4 525.8 L1328.9 530.1 L1330.4 534.3 L1331.9 538.2 L1333.4 541.4 L1334.9 544.3 L1336.4 546.3 L1337.9 547.0 L1339.4 546.2 L1340.9 544.5 L1342.4 542.1 L1343.9 539.5 L1345.4 536.6 L1346.9 532.6 L1348.4 528.6 L1349.9 525.8 L1351.4 524.6 L1352.9 524.5 L1354.4 525.1 L1355.9 526.7 L1357.4 530.2 L1358.9 535.4 L1360.4 542.8 L1361.9 554.6 L1363.4 568.2 L1364.9 581.0 L1366.4 594.7 L1367.9 607.9 L1369.4 617.2 L1370.9 622.2 L1372.4 625.8 L1373.9 628.5 L1375.4 631.1 L1376.9 633.1 L1378.4 632.7 L1379.9 629.5 L1381.4 624.8 L1382.9 619.5 L1384.4 612.9 L1385.9 605.5 L1387.4 598.0 L1388.9 591.0 L1390.4 583.7 L1391.9 576.6 L1393.4 570.6 L1394.9 566.2 L1396.4 562.5 L1397.9 559.7 L1399.4 558.1 L1400.9 558.1 L1402.4 559.4 L1403.9 561.5 L1405.4 564.3 L1406.9 567.6 L1408.4 572.0 L1409.9 576.9 L1411.4 581.7 L1412.9 585.8 L1414.4 589.7 L1415.9 593.4 L1417.4 596.5 L1418.9 598.9 L1420.4 601.2 L1421.9 603.0 L1423.4 603.7 L1424.9 603.1 L1426.4 601.8 L1427.9 600.1 L1429.4 598.3 L1430.9 596.6 L1432.4 595.3 L1433.9 593.9 L1435.4 592.5 L1436.9 591.2 L1438.4 590.0 L1439.9 589.2 L1441.4 588.7 L1442.9 588.8 L1444.4 589.4 L1445.9 590.4 L1447.4 591.6 L1448.9 593.0 L1450.4 594.4 L1451.9 595.7 L1453.4 597.2 L1454.9 598.9 L1456.4 600.9 L1457.9 602.7 L1459.4 604.4 L1460.9 605.7 L1462.4 606.5 L1463.9 606.3 L1465.4 605.0 L1466.9 602.7 L1468.4 599.9 L1469.9 597.0 L1471.4 594.1 L1472.9 591.3 L1474.4 588.4 L1475.9 585.3 L1477.4 582.4 L1478.9 579.6 L1480.4 576.7 L1481.9 573.6 L1483.4 569.7 L1484.9 564.2 L1486.4 557.6 L1487.9 550.5 L1489.4 542.1 L1490.9 533.0 L1492.4 524.9 L1493.9 518.5 L1495.4 513.1 L1496.9 509.7 L1498.4 508.2 L1499.9 508.8 L1501.4 513.5 L1502.9 520.3 L1504.4 530.3 L1505.9 543.0 L1507.4 558.0 L1508.9 576.4 L1510.4 593.5 L1511.9 608.0 L1513.4 619.5 L1514.9 625.8 L1516.4 629.2 L1517.9 628.0 L1519.4 622.2 L1520.9 613.9 L1522.4 600.3 L1523.9 582.8 L1525.4 562.9 L1526.9 539.7 L1528.4 516.3 L1529.9 492.2 L1531.4 469.2 L1532.9 451.7 L1534.4 437.8 L1535.9 428.2 L1537.4 422.9 L1538.9 421.1 L1540.4 424.0 L1541.9 429.8 L1543.4 438.4 L1544.9 449.7 L1546.4 460.6 L1547.9 470.8 L1549.4 480.8 L1550.9 489.5 L1552.4 496.9 L1553.9 503.5 L1555.4 508.7 L1556.9 512.3 L1558.4 515.3 L1559.9 516.3 L1561.4 514.9 L1562.9 512.5 L1564.4 509.6 L1565.9 506.5 L1567.4 503.2 L1568.9 499.5 L1570.4 495.7 L1571.9 492.3 L1573.4 489.7 L1574.9 487.5 L1576.4 485.5 L1577.9 483.7 L1579.4 482.0 L1580.9 480.5 L1582.4 479.1 L1583.9 477.7 L1585.4 476.3 L1586.9 475.1 L1588.4 473.9 L1589.9 472.8 L1591.4 471.7 L1592.9 470.7 L1594.4 469.7 L1595.9 469.0 L1597.4 468.4 L1598.9 468.1 L1600.4 467.9 L1601.9 467.8 L1603.4 467.6 L1604.9 467.2 L1606.4 466.7 L1607.9 466.1 L1609.4 465.3 L1610.9 464.5 L1612.4 463.5 L1613.9 462.2 L1615.4 460.8 L1616.9 459.4 L1618.4 457.9 L1619.9 456.4 L1621.4 454.8 L1622.9 453.2 L1624.4 451.5 L1625.9 449.8 L1627.4 448.1 L1628.9 446.3 L1630.4 444.5 L1631.9 442.7 L1633.4 440.9 L1634.9 439.0 L1636.4 437.2 L1637.9 435.5 L1639.4 433.7 L1640.9 431.8 L1642.4 429.9 L1643.9 428.1 L1645.4 426.8 L1646.9 426.1 L1648.4 426.1 L1649.9 426.9 L1651.4 428.2 L1652.9 429.7 L1654.4 431.1 L1655.9 432.7 L1657.4 434.5 L1658.9 436.1 L1660.4 437.0 L1661.9 437.4 L1663.4 437.7 L1664.9 437.9 L1666.4 437.9 L1667.9 437.9 L1669.4 437.8 L1670.9 438.2 L1672.4 440.0 L1673.9 442.5 L1675.4 445.4 L1676.9 449.0 L1678.4 452.8 L1679.9 456.4 L1681.4 459.5 L1682.9 462.2 L1684.4 465.3 L1685.9 469.0 L1687.4 473.6 L1688.9 478.3 L1690.4 483.2 L1691.9 488.4 L1693.4 493.0 L1694.9 496.8 L1696.4 500.1 L1697.9 503.1 L1699.4 505.6 L1700.9 507.8 L1702.4 509.9 L1703.9 512.0 L1705.4 513.8 L1706.9 515.4 L1708.4 516.8 L1709.9 518.1 L1711.4 519.3 L1712.9 520.5 L1714.4 521.6 L1715.9 522.4 L1717.4 523.1 L1718.9 523.6 L1720.4 524.0 L1721.9 524.3 L1723.4 524.6 L1724.9 524.8 L1726.4 524.9 L1727.9 525.0 L1729.4 525.0 L1730.9 524.8 L1732.4 524.6 L1733.9 524.2 L1735.4 523.8 L1736.9 523.3 L1738.4 522.7 L1739.9 522.0 L1741.4 521.3 L1742.9 520.4 L1744.4 519.2 L1745.9 517.7 L1747.4 515.9 L1748.9 514.0 L1750.4 512.0 L1751.9 510.1 L1753.4 508.2 L1754.9 506.4 L1756.4 504.5 L1757.9 502.5 L1759.4 500.6 L1760.9 498.7 L1762.4 496.8 L1763.9 495.0 L1765.4 493.3 L1766.9 491.7 L1768.4 490.0 L1769.9 488.4 L1771.4 486.9 L1772.9 485.5 L1774.4 484.2 L1775.9 483.1 L1777.4 482.0 L1778.9 480.9 L1780.4 479.9 L1781.9 478.9 L1783.4 477.9 L1784.9 477.1 L1786.4 476.3 L1787.9 475.6 L1789.4 475.0 L1790.9 474.5 L1792.4 474.0 L1793.9 473.5 L1795.4 473.1 L1796.9 472.6 L1798.4 472.2 L1799.9 471.8 L1801.4 471.4 L1802.9 470.9 L1804.4 470.5 L1805.9 470.1 L1807.4 469.6 L1808.9 469.2 L1810.4 468.7 L1811.9 468.3 L1813.4 468.0 L1814.9 467.6 L1816.4 467.4 L1817.9 467.2 L1819.4 467.1 L1820.9 467.1 L1822.4 467.0 L1823.9 467.1 L1825.4 467.1 L1826.9 467.3 L1828.4 467.4 L1829.9 467.6 L1831.4 467.8 L1832.9 468.0 L1834.4 468.2 L1835.9 468.5 L1837.4 468.8 L1838.9 469.1 L1840.4 469.5 L1841.9 470.0 L1843.4 470.6 L1844.9 471.2 L1846.4 471.8 L1847.9 472.5 L1849.4 473.1 L1850.9 473.9 L1852.4 474.6 L1853.9 475.3 L1855.4 476.1 L1856.9 476.9 L1858.4 477.8 L1859.9 478.7 L1861.4 479.6 L1862.9 480.5 L1864.4 481.5 L1865.9 482.4 L1867.4 483.3 L1868.9 484.1 L1870.4 485.0 L1871.9 485.8 L1873.4 486.6 L1874.9 487.3 L1876.4 488.1 L1877.9 488.9 L1879.4 489.6 L1880.9 490.4 L1882.4 491.1 L1883.9 491.8 L1885.4 492.5 L1886.9 493.2 L1888.4 493.8 L1889.9 494.5 L1891.4 495.1 L1892.9 495.8 L1894.4 496.4 L1895.9 497.0 L1897.4 497.5 L1898.9 498.1 L1900.4 498.6 L1901.9 499.1 L1903.4 499.5 L1904.9 500.0 L1906.4 500.5 L1907.9 500.9 L1909.4 501.3 L1910.9 501.7 L1912.4 501.9 L1913.9 502.2 L1915.4 502.3 L1916.9 502.4 L1918.4 502.5 L1919.9 502.6 L1921.4 502.6 L1922.9 502.6 L1924.4 502.6 L1925.9 502.5 L1927.4 502.4 L1928.9 502.2 L1930.4 502.0 L1931.9 501.8 L1933.4 501.5 L1934.9 501.2 L1936.4 500.8 L1937.9 500.4 L1939.4 500.0 L1940.9 499.6 L1942.4 499.1 L1943.9 498.7 L1945.4 498.3 L1946.9 498.0 L1948.4 497.6 L1949.9 497.3 L1951.4 497.0 L1952.9 496.7 L1954.4 496.3 L1955.9 496.0 L1957.4 495.7 L1958.9 495.4 L1960.4 495.2 L1961.9 494.9 L1963.4 494.6 L1964.9 494.4 L1966.4 494.1 L1967.9 493.9 L1969.4 493.6 L1970.9 493.4 L1972.4 493.1 L1973.9 492.9 L1975.4 492.7 L1976.9 492.5 L1978.4 492.3 L1979.9 492.1 L1981.4 491.9 L1982.9 491.8 L1984.4 491.6 L1985.9 491.5 L1987.4 491.3 L1988.9 491.2 L1990.4 491.1 L1991.9 491.0 L1993.4 490.8 L1994.9 490.7 L1996.4 490.6 L1997.9 490.5 L1999.4 490.4 L2000.9 490.3 L2002.4 490.2 L2003.9 490.2 L2005.4 490.1 L2006.9 490.0 L2008.4 490.0 L2009.9 490.0 L2011.4 490.0 L2012.9 489.9 L2014.4 489.9 L2015.9 489.9 L2017.4 489.9 L2018.9 489.8 L2020.4 489.8 L2021.9 489.8 L2023.4 489.8 L2024.9 489.8 L2026.4 489.7 L2027.9 489.7 L2029.4 489.7 L2030.9 489.7 L2032.4 489.7 L2033.9 489.7 L2035.4 489.7 L2036.9 489.7 L2038.4 489.7 L2039.9 489.7 L2041.4 489.7 L2042.9 489.8 L2044.4 489.8 L2045.9 489.8 L2047.4 489.8 L2048.9 489.8 L2050.4 489.9 L2051.9 489.9 L2053.4 489.9 L2054.9 489.9 L2056.4 489.9 L2057.9 490.0 L2059.4 490.0 L2060.9 490.0 L2062.4 490.0 L2063.9 490.0 L2065.4 490.1 L2066.9 490.1 L2068.4 490.1 L2069.9 490.1 L2071.4 490.1 L2072.9 490.1 L2074.4 490.2 L2075.9 490.2 L2077.4 490.2 L2078.9 490.2 L2080.4 490.3 L2081.9 490.3 L2083.4 490.4 L2084.9 490.5 L2086.4 490.7 L2087.9 490.8 L2089.4 491.0 L2090.9 491.3 L2092.4 491.5 L2093.9 491.7 L2095.4 492.0 L2096.9 492.2 L2098.4 492.4 L2099.9 492.6 L2101.4 492.8 L2102.9 493.0 L2104.4 493.2 L2105.9 493.3 L2107.4 493.5 L2108.9 493.6 L2110.4 493.7 L2111.9 493.9 L2113.4 494.0 L2114.9 494.1 L2116.4 494.2 L2117.9 494.3 L2119.4 494.4" fill="none" stroke="#ff0000" stroke-width="7.0" stroke-linejoin="round" stroke-linecap="round"/>
<text x="513.0" y="771.3" font-family='"DejaVu Serif", "Liberation Serif", serif' font-size="50.0" fill="#000" stroke="#000" stroke-width="1.1" stroke-linejoin="round"><tspan font-style="italic">h</tspan><tspan font-size="60" dx="4.5" dy="6">/</tspan><tspan font-style="italic" dx="2.5" dy="-6">T</tspan><tspan dx="1.6"> = </tspan><tspan dx="-1.6">7<tspan dx="-4.5">.</tspan><tspan dx="-3">6</tspan></tspan></text>
<text x="513.0" y="850.5" font-family='"DejaVu Serif", "Liberation Serif", serif' font-size="50.0" fill="#000" stroke="#000" stroke-width="1.1" stroke-linejoin="round"><tspan font-style="italic">h</tspan><tspan font-size="60" dx="4.5" dy="6">/</tspan><tspan font-style="italic" dx="2.5" dy="-6">T</tspan><tspan dx="1.6"> = </tspan><tspan dx="-1.6">4</tspan></text>
<text x="513.0" y="929.9" font-family='"DejaVu Serif", "Liberation Serif", serif' font-size="50.0" fill="#000" stroke="#000" stroke-width="1.1" stroke-linejoin="round"><tspan font-style="italic">h</tspan><tspan font-size="60" dx="4.5" dy="6">/</tspan><tspan font-style="italic" dx="2.5" dy="-6">T</tspan><tspan dx="1.6"> = </tspan><tspan dx="-1.6">2</tspan></text>
<text x="231.7" y="114.0" text-anchor="end" font-family='"Liberation Serif", "Times New Roman", serif' font-size="54">0.015</text>
<text x="231.7" y="247.0" text-anchor="end" font-family='"Liberation Serif", "Times New Roman", serif' font-size="54">0.01</text>
<text x="231.7" y="379.9" text-anchor="end" font-family='"Liberation Serif", "Times New Roman", serif' font-size="54">0.005</text>
<text x="231.7" y="512.9" text-anchor="end" font-family='"Liberation Serif", "Times New Roman", serif' font-size="54">0</text>
<text x="231.7" y="645.8" text-anchor="end" font-family='"Liberation Serif", "Times New Roman", serif' font-size="54">-0.005</text>
<text x="231.7" y="778.8" text-anchor="end" font-family='"Liberation Serif", "Times New Roman", serif' font-size="54">-0.01</text>
<text x="231.7" y="911.8" text-anchor="end" font-family='"Liberation Serif", "Times New Roman", serif' font-size="54">-0.015</text>
<text x="231.7" y="1044.7" text-anchor="end" font-family='"Liberation Serif", "Times New Roman", serif' font-size="54">-0.02</text>
<text x="279.0" y="1108.3" text-anchor="middle" font-family='"Liberation Serif", "Times New Roman", serif' font-size="54">-3</text>
<text x="446.1" y="1108.3" text-anchor="middle" font-family='"Liberation Serif", "Times New Roman", serif' font-size="54">-2.5</text>
<text x="613.3" y="1108.3" text-anchor="middle" font-family='"Liberation Serif", "Times New Roman", serif' font-size="54">-2</text>
<text x="780.4" y="1108.3" text-anchor="middle" font-family='"Liberation Serif", "Times New Roman", serif' font-size="54">-1.5</text>
<text x="947.5" y="1108.3" text-anchor="middle" font-family='"Liberation Serif", "Times New Roman", serif' font-size="54">-1</text>
<text x="1114.7" y="1108.3" text-anchor="middle" font-family='"Liberation Serif", "Times New Roman", serif' font-size="54">-0.5</text>
<text x="1283.6" y="1108.3" text-anchor="middle" font-family='"Liberation Serif", "Times New Roman", serif' font-size="54">0</text>
<text x="1450.8" y="1108.3" text-anchor="middle" font-family='"Liberation Serif", "Times New Roman", serif' font-size="54">0.5</text>
<text x="1617.9" y="1108.3" text-anchor="middle" font-family='"Liberation Serif", "Times New Roman", serif' font-size="54">1</text>
<text x="1785.0" y="1108.3" text-anchor="middle" font-family='"Liberation Serif", "Times New Roman", serif' font-size="54">1.5</text>
<text x="1952.2" y="1108.3" text-anchor="middle" font-family='"Liberation Serif", "Times New Roman", serif' font-size="54">2</text>
<text x="2119.3" y="1108.3" text-anchor="middle" font-family='"Liberation Serif", "Times New Roman", serif' font-size="54">2.5</text>
<text x="880.2" y="75.0" font-family='"Liberation Serif", "Times New Roman", serif' font-size="66.3" font-weight="bold"><tspan font-style="italic">y</tspan>=0.0 m, 4 knots</text>
<text x="1284.0" y="865.0" text-anchor="middle" font-family='"Liberation Serif", "Times New Roman", serif' font-size="55.5" font-weight="bold">AP</text>
<text x="1623.0" y="865.0" text-anchor="middle" font-family='"Liberation Serif", "Times New Roman", serif' font-size="55.5" font-weight="bold">FP</text>
<text transform="translate(58.0 590.0) rotate(-90)" font-family='"Liberation Serif", "Times New Roman", serif' font-size="55" font-style="italic">η <tspan stroke="#fff" stroke-width="1.5">/</tspan> L<tspan font-style="normal" font-size="37.5" dy="12.5">PP</tspan></text>
<line x1="281.0" y1="1218.8" x2="281.0" y2="2149.7" stroke="#d0cece" stroke-width="3"/>
<line x1="448.1" y1="1218.8" x2="448.1" y2="2149.7" stroke="#d0cece" stroke-width="3"/>
<line x1="615.3" y1="1218.8" x2="615.3" y2="2149.7" stroke="#d0cece" stroke-width="3"/>
<line x1="782.4" y1="1218.8" x2="782.4" y2="2149.7" stroke="#d0cece" stroke-width="3"/>
<line x1="949.5" y1="1218.8" x2="949.5" y2="2149.7" stroke="#d0cece" stroke-width="3"/>
<line x1="1116.7" y1="1218.8" x2="1116.7" y2="2149.7" stroke="#d0cece" stroke-width="3"/>
<line x1="1283.8" y1="1218.8" x2="1283.8" y2="2149.7" stroke="#d0cece" stroke-width="3"/>
<line x1="1451.0" y1="1218.8" x2="1451.0" y2="2149.7" stroke="#d0cece" stroke-width="3"/>
<line x1="1618.1" y1="1218.8" x2="1618.1" y2="2149.7" stroke="#d0cece" stroke-width="3"/>
<line x1="1785.2" y1="1218.8" x2="1785.2" y2="2149.7" stroke="#d0cece" stroke-width="3"/>
<line x1="1952.4" y1="1218.8" x2="1952.4" y2="2149.7" stroke="#d0cece" stroke-width="3"/>
<line x1="2119.5" y1="1218.8" x2="2119.5" y2="2149.7" stroke="#d0cece" stroke-width="3"/>
<line x1="279.5" y1="1220.3" x2="2121.0" y2="1220.3" stroke="#d6d6d6" stroke-width="3.4"/>
<line x1="279.5" y1="1352.9" x2="2121.0" y2="1352.9" stroke="#d6d6d6" stroke-width="3.4"/>
<line x1="279.5" y1="1485.4" x2="2121.0" y2="1485.4" stroke="#d6d6d6" stroke-width="3.4"/>
<line x1="279.5" y1="1618.0" x2="2121.0" y2="1618.0" stroke="#d6d6d6" stroke-width="3.4"/>
<line x1="279.5" y1="1750.5" x2="2121.0" y2="1750.5" stroke="#d6d6d6" stroke-width="3.4"/>
<line x1="279.5" y1="1883.1" x2="2121.0" y2="1883.1" stroke="#d6d6d6" stroke-width="3.4"/>
<line x1="279.5" y1="2015.6" x2="2121.0" y2="2015.6" stroke="#d6d6d6" stroke-width="3.4"/>
<line x1="279.5" y1="2148.2" x2="2121.0" y2="2148.2" stroke="#d6d6d6" stroke-width="3.4"/>
<line x1="281.0" y1="1618.0" x2="281.0" y2="1635.0" stroke="#808080" stroke-width="3"/>
<line x1="448.1" y1="1618.0" x2="448.1" y2="1635.0" stroke="#808080" stroke-width="3"/>
<line x1="615.3" y1="1618.0" x2="615.3" y2="1635.0" stroke="#808080" stroke-width="3"/>
<line x1="782.4" y1="1618.0" x2="782.4" y2="1635.0" stroke="#808080" stroke-width="3"/>
<line x1="949.5" y1="1618.0" x2="949.5" y2="1635.0" stroke="#808080" stroke-width="3"/>
<line x1="1116.7" y1="1618.0" x2="1116.7" y2="1635.0" stroke="#808080" stroke-width="3"/>
<line x1="1283.8" y1="1618.0" x2="1283.8" y2="1635.0" stroke="#808080" stroke-width="3"/>
<line x1="1451.0" y1="1618.0" x2="1451.0" y2="1635.0" stroke="#808080" stroke-width="3"/>
<line x1="1618.1" y1="1618.0" x2="1618.1" y2="1635.0" stroke="#808080" stroke-width="3"/>
<line x1="1785.2" y1="1618.0" x2="1785.2" y2="1635.0" stroke="#808080" stroke-width="3"/>
<line x1="1952.4" y1="1618.0" x2="1952.4" y2="1635.0" stroke="#808080" stroke-width="3"/>
<line x1="2119.5" y1="1618.0" x2="2119.5" y2="1635.0" stroke="#808080" stroke-width="3"/>
<line x1="281.0" y1="1618.0" x2="2119.5" y2="1618.0" stroke="#808080" stroke-width="2.4"/>
<line x1="949.5" y1="1618.0" x2="1814.0" y2="1618.0" stroke="#000" stroke-width="2.6"/>
<line x1="1952.4" y1="1608.5" x2="1952.4" y2="1627.0" stroke="#000" stroke-width="3"/>
<line x1="387.0" y1="1872.4" x2="461.8" y2="1872.4" stroke="#00b050" stroke-width="7.6" stroke-linecap="round"/>
<line x1="387.0" y1="1957.3" x2="461.8" y2="1957.3" stroke="#00b0f0" stroke-width="7.6" stroke-linecap="round"/>
<line x1="387.0" y1="2042.2" x2="461.8" y2="2042.2" stroke="#ff0000" stroke-width="7.6" stroke-linecap="round"/>
<rect x="467.2" y="1814.6" width="300.0" height="272.0" fill="#fff"/>
<line x1="1284.0" y1="1299.9" x2="1284.0" y2="1618.0" stroke="#000" stroke-width="6" stroke-dasharray="20.8 13.86" stroke-dashoffset="13.4"/>
<line x1="1284.0" y1="1937.3" x2="1284.0" y2="1618.0" stroke="#000" stroke-width="6" stroke-dasharray="20.8 13.86" stroke-dashoffset="13.4"/>
<line x1="1618.0" y1="1299.9" x2="1618.0" y2="1618.0" stroke="#000" stroke-width="6" stroke-dasharray="20.8 13.86" stroke-dashoffset="13.4"/>
<line x1="1618.0" y1="1937.3" x2="1618.0" y2="1618.0" stroke="#000" stroke-width="6" stroke-dasharray="20.8 13.86" stroke-dashoffset="13.4"/>
<path d="M293.3 1617.8 L294.8 1617.8 L296.3 1617.8 L297.8 1617.8 L299.3 1617.8 L300.8 1617.8 L302.3 1617.8 L303.8 1617.8 L305.3 1617.8 L306.8 1617.8 L308.3 1617.8 L309.8 1617.8 L311.3 1617.8 L312.8 1617.8 L314.3 1617.8 L315.9 1617.8 L317.4 1617.8 L318.9 1617.8 L320.4 1617.8 L321.9 1617.8 L323.4 1617.8 L324.9 1617.8 L326.4 1617.8 L327.9 1617.8 L329.4 1617.8 L330.9 1617.8 L332.4 1617.8 L333.9 1617.8 L335.4 1617.8 L336.9 1617.8 L338.4 1617.8 L339.9 1617.8 L341.4 1617.8 L342.9 1617.8 L344.4 1617.8 L345.9 1617.8 L347.4 1617.8 L348.9 1617.8 L350.4 1617.8 L351.9 1617.8 L353.4 1617.8 L354.9 1617.8 L356.4 1617.8 L357.9 1617.8 L359.4 1617.8 L360.9 1617.8 L362.4 1617.8 L363.9 1617.8 L365.4 1617.8 L366.9 1617.8 L368.4 1617.8 L369.9 1617.8 L371.4 1617.8 L372.9 1617.8 L374.4 1617.8 L375.9 1617.8 L377.4 1617.8 L378.9 1617.8 L380.4 1617.8 L381.9 1617.8 L383.4 1617.8 L384.9 1617.8 L386.4 1617.8 L387.9 1617.8 L389.4 1617.8 L390.9 1617.8 L392.4 1617.8 L393.9 1617.8 L395.4 1617.8 L396.9 1617.8 L398.4 1617.8 L399.9 1617.8 L401.4 1617.8 L402.9 1617.8 L404.4 1617.8 L405.9 1617.8 L407.4 1617.8 L408.9 1617.8 L410.4 1617.8 L411.9 1617.8 L413.4 1617.8 L414.9 1617.8 L416.4 1617.8 L417.9 1617.8 L419.4 1617.8 L420.9 1617.8 L422.4 1617.8 L423.9 1617.8 L425.4 1617.8 L426.9 1617.8 L428.4 1617.8 L429.9 1617.8 L431.4 1617.8 L432.9 1617.8 L434.4 1617.8 L435.9 1617.8 L437.4 1617.8 L438.9 1617.8 L440.4 1617.8 L441.9 1617.8 L443.4 1617.8 L445.0 1617.8 L446.5 1617.8 L448.0 1617.8 L449.5 1617.8 L451.0 1617.8 L452.5 1617.8 L454.0 1617.8 L455.5 1617.8 L457.0 1617.8 L458.5 1617.8 L460.0 1617.8 L461.5 1617.8 L463.0 1617.8 L464.5 1617.8 L466.0 1617.8 L467.5 1617.8 L469.0 1617.8 L470.5 1617.8 L472.0 1617.8 L473.5 1617.8 L475.0 1617.8 L476.5 1617.8 L478.0 1617.8 L479.5 1617.8 L481.0 1617.8 L482.5 1617.8 L484.0 1617.8 L485.5 1617.8 L487.0 1617.8 L488.5 1617.8 L490.0 1617.8 L491.5 1617.8 L493.0 1617.8 L494.5 1617.8 L496.0 1617.8 L497.5 1617.8 L499.0 1617.8 L500.5 1617.8 L502.0 1617.8 L503.5 1617.8 L505.0 1617.8 L506.5 1617.8 L508.0 1617.8 L509.5 1617.8 L511.0 1617.8 L512.5 1617.8 L514.0 1617.8 L515.5 1617.8 L517.0 1617.8 L518.5 1617.8 L520.0 1617.8 L521.5 1617.8 L523.0 1617.9 L524.5 1617.9 L526.0 1617.9 L527.5 1617.9 L529.0 1617.9 L530.5 1617.9 L532.0 1617.9 L533.5 1617.9 L535.0 1617.9 L536.5 1617.9 L538.0 1618.0 L539.5 1618.0 L541.0 1618.0 L542.5 1618.0 L544.0 1618.0 L545.5 1618.0 L547.0 1618.0 L548.5 1618.0 L550.0 1618.0 L551.5 1618.0 L553.0 1618.0 L554.5 1618.1 L556.0 1618.1 L557.5 1618.1 L559.0 1618.1 L560.5 1618.1 L562.0 1618.1 L563.5 1618.1 L565.0 1618.1 L566.5 1618.1 L568.0 1618.1 L569.5 1618.1 L571.0 1618.2 L572.5 1618.2 L574.1 1618.2 L575.6 1618.2 L577.1 1618.2 L578.6 1618.2 L580.1 1618.2 L581.6 1618.2 L583.1 1618.2 L584.6 1618.2 L586.1 1618.2 L587.6 1618.3 L589.1 1618.3 L590.6 1618.3 L592.1 1618.3 L593.6 1618.3 L595.1 1618.3 L596.6 1618.3 L598.1 1618.3 L599.6 1618.3 L601.1 1618.3 L602.6 1618.4 L604.1 1618.4 L605.6 1618.4 L607.1 1618.4 L608.6 1618.4 L610.1 1618.4 L611.6 1618.4 L613.1 1618.5 L614.6 1618.5 L616.1 1618.5 L617.6 1618.5 L619.1 1618.5 L620.6 1618.5 L622.1 1618.6 L623.6 1618.6 L625.1 1618.6 L626.6 1618.6 L628.1 1618.6 L629.6 1618.6 L631.1 1618.6 L632.6 1618.7 L634.1 1618.7 L635.6 1618.7 L637.1 1618.7 L638.6 1618.7 L640.1 1618.7 L641.6 1618.7 L643.1 1618.8 L644.6 1618.8 L646.1 1618.8 L647.6 1618.8 L649.1 1618.8 L650.6 1618.8 L652.1 1618.9 L653.6 1618.9 L655.1 1618.9 L656.6 1618.9 L658.1 1618.9 L659.6 1619.0 L661.1 1619.0 L662.6 1619.0 L664.1 1619.0 L665.6 1619.0 L667.1 1619.0 L668.6 1619.0 L670.1 1619.0 L671.6 1619.0 L673.1 1619.0 L674.6 1619.0 L676.1 1619.0 L677.6 1619.0 L679.1 1619.0 L680.6 1619.0 L682.1 1618.9 L683.6 1618.9 L685.1 1618.9 L686.6 1618.8 L688.1 1618.8 L689.6 1618.8 L691.1 1618.7 L692.6 1618.7 L694.1 1618.7 L695.6 1618.6 L697.1 1618.6 L698.6 1618.6 L700.1 1618.6 L701.6 1618.5 L703.2 1618.5 L704.7 1618.5 L706.2 1618.5 L707.7 1618.4 L709.2 1618.4 L710.7 1618.4 L712.2 1618.4 L713.7 1618.3 L715.2 1618.3 L716.7 1618.3 L718.2 1618.3 L719.7 1618.2 L721.2 1618.2 L722.7 1618.2 L724.2 1618.2 L725.7 1618.2 L727.2 1618.1 L728.7 1618.1 L730.2 1618.1 L731.7 1618.1 L733.2 1618.1 L734.7 1618.0 L736.2 1618.0 L737.7 1618.0 L739.2 1617.9 L740.7 1617.9 L742.2 1617.9 L743.7 1617.8 L745.2 1617.4 L746.7 1616.8 L748.2 1616.1 L749.7 1615.3 L751.2 1614.5 L752.7 1613.8 L754.2 1613.2 L755.7 1612.9 L757.2 1612.6 L758.7 1612.4 L760.2 1612.2 L761.7 1612.1 L763.2 1612.0 L764.7 1611.9 L766.2 1611.9 L767.7 1612.0 L769.2 1612.1 L770.7 1612.5 L772.2 1612.9 L773.7 1613.3 L775.2 1613.9 L776.7 1614.5 L778.2 1615.3 L779.7 1616.4 L781.2 1617.6 L782.7 1618.9 L784.2 1620.2 L785.7 1621.6 L787.2 1623.0 L788.7 1624.4 L790.2 1626.2 L791.7 1628.1 L793.2 1629.7 L794.7 1630.8 L796.2 1631.0 L797.7 1630.4 L799.2 1629.2 L800.7 1627.6 L802.2 1625.7 L803.7 1623.6 L805.2 1621.5 L806.7 1619.6 L808.2 1617.7 L809.7 1615.5 L811.2 1613.3 L812.7 1611.0 L814.2 1608.9 L815.7 1607.0 L817.2 1605.4 L818.7 1603.9 L820.2 1602.6 L821.7 1601.6 L823.2 1601.0 L824.7 1600.8 L826.2 1601.2 L827.7 1602.3 L829.2 1604.1 L830.7 1606.2 L832.3 1608.5 L833.8 1610.8 L835.3 1612.9 L836.8 1615.1 L838.3 1617.4 L839.8 1619.6 L841.3 1621.7 L842.8 1623.7 L844.3 1625.5 L845.8 1627.4 L847.3 1629.0 L848.8 1630.3 L850.3 1631.1 L851.8 1631.3 L853.3 1631.1 L854.8 1630.4 L856.3 1629.3 L857.8 1627.9 L859.3 1626.1 L860.8 1623.8 L862.3 1621.3 L863.8 1618.8 L865.3 1616.3 L866.8 1614.1 L868.3 1612.0 L869.8 1609.9 L871.3 1607.8 L872.8 1605.9 L874.3 1604.1 L875.8 1602.7 L877.3 1601.7 L878.8 1601.0 L880.3 1600.8 L881.8 1601.1 L883.3 1601.8 L884.8 1603.2 L886.3 1605.1 L887.8 1607.3 L889.3 1609.5 L890.8 1612.2 L892.3 1615.3 L893.8 1618.7 L895.3 1622.0 L896.8 1624.9 L898.3 1627.2 L899.8 1629.3 L901.3 1631.0 L902.8 1632.0 L904.3 1632.0 L905.8 1631.3 L907.3 1629.9 L908.8 1628.2 L910.3 1626.1 L911.8 1623.9 L913.3 1621.4 L914.8 1618.2 L916.3 1614.8 L917.8 1611.5 L919.3 1608.6 L920.8 1606.4 L922.3 1604.4 L923.8 1602.7 L925.3 1601.6 L926.8 1601.1 L928.3 1601.5 L929.8 1602.5 L931.3 1603.7 L932.8 1605.3 L934.3 1607.1 L935.8 1609.0 L937.3 1610.9 L938.8 1612.9 L940.3 1615.1 L941.8 1617.6 L943.3 1620.2 L944.8 1622.6 L946.3 1624.7 L947.8 1626.4 L949.3 1627.8 L950.8 1628.9 L952.3 1629.7 L953.8 1629.8 L955.3 1629.4 L956.8 1628.5 L958.3 1627.2 L959.8 1625.8 L961.4 1624.1 L962.9 1622.5 L964.4 1620.8 L965.9 1618.4 L967.4 1615.7 L968.9 1613.4 L970.4 1612.0 L971.9 1612.0 L973.4 1612.2 L974.9 1612.6 L976.4 1613.0 L977.9 1613.5 L979.4 1614.0 L980.9 1614.4 L982.4 1614.8 L983.9 1615.1 L985.4 1615.5 L986.9 1615.9 L988.4 1616.2 L989.9 1616.6 L991.4 1617.1 L992.9 1617.7 L994.4 1618.3 L995.9 1618.8 L997.4 1619.1 L998.9 1618.9 L1000.4 1618.5 L1001.9 1617.8 L1003.4 1617.1 L1004.9 1616.4 L1006.4 1615.4 L1007.9 1614.3 L1009.4 1613.1 L1010.9 1612.0 L1012.4 1611.1 L1013.9 1610.7 L1015.4 1611.0 L1016.9 1612.1 L1018.4 1613.7 L1019.9 1615.5 L1021.4 1617.2 L1022.9 1619.1 L1024.4 1621.4 L1025.9 1623.6 L1027.4 1625.5 L1028.9 1626.9 L1030.4 1627.9 L1031.9 1628.6 L1033.4 1628.8 L1034.9 1628.7 L1036.4 1627.9 L1037.9 1626.3 L1039.4 1624.2 L1040.9 1621.6 L1042.4 1619.0 L1043.9 1615.8 L1045.4 1612.1 L1046.9 1608.1 L1048.4 1604.5 L1049.9 1601.7 L1051.4 1599.3 L1052.9 1597.2 L1054.4 1595.5 L1055.9 1594.4 L1057.4 1594.0 L1058.9 1594.7 L1060.4 1596.3 L1061.9 1598.7 L1063.4 1601.6 L1064.9 1605.3 L1066.4 1610.6 L1067.9 1616.8 L1069.4 1623.1 L1070.9 1628.5 L1072.4 1633.2 L1073.9 1637.7 L1075.4 1641.8 L1076.9 1645.3 L1078.4 1648.4 L1079.9 1650.8 L1081.4 1652.3 L1082.9 1651.9 L1084.4 1649.1 L1085.9 1644.5 L1087.4 1638.8 L1088.9 1630.8 L1090.5 1619.5 L1092.0 1607.1 L1093.5 1596.0 L1095.0 1586.4 L1096.5 1577.2 L1098.0 1570.2 L1099.5 1566.3 L1101.0 1563.8 L1102.5 1563.0 L1104.0 1563.9 L1105.5 1567.1 L1107.0 1572.3 L1108.5 1579.5 L1110.0 1590.9 L1111.5 1604.4 L1113.0 1617.1 L1114.5 1630.1 L1116.0 1642.8 L1117.5 1652.9 L1119.0 1660.7 L1120.5 1666.8 L1122.0 1670.6 L1123.5 1671.2 L1125.0 1667.8 L1126.5 1661.4 L1128.0 1653.1 L1129.5 1641.3 L1131.0 1625.6 L1132.5 1610.4 L1134.0 1597.7 L1135.5 1585.6 L1137.0 1576.3 L1138.5 1571.3 L1140.0 1568.1 L1141.5 1566.6 L1143.0 1567.1 L1144.5 1569.7 L1146.0 1574.2 L1147.5 1580.2 L1149.0 1590.9 L1150.5 1604.0 L1152.0 1614.8 L1153.5 1623.1 L1155.0 1629.6 L1156.5 1633.5 L1158.0 1636.5 L1159.5 1636.6 L1161.0 1635.0 L1162.5 1632.8 L1164.0 1630.3 L1165.5 1627.6 L1167.0 1624.1 L1168.5 1620.4 L1170.0 1617.6 L1171.5 1616.4 L1173.0 1616.1 L1174.5 1615.9 L1176.0 1615.9 L1177.5 1615.6 L1179.0 1615.2 L1180.5 1614.6 L1182.0 1614.1 L1183.5 1613.6 L1185.0 1613.0 L1186.5 1612.4 L1188.0 1611.7 L1189.5 1610.9 L1191.0 1610.0 L1192.5 1609.0 L1194.0 1608.1 L1195.5 1607.3 L1197.0 1606.7 L1198.5 1606.6 L1200.0 1606.9 L1201.5 1607.7 L1203.0 1608.6 L1204.5 1609.7 L1206.0 1611.2 L1207.5 1613.2 L1209.0 1615.3 L1210.5 1617.1 L1212.0 1618.3 L1213.5 1619.1 L1215.0 1619.0 L1216.5 1618.0 L1218.0 1616.5 L1219.5 1614.8 L1221.1 1613.1 L1222.6 1611.5 L1224.1 1609.9 L1225.6 1608.3 L1227.1 1606.8 L1228.6 1605.4 L1230.1 1604.2 L1231.6 1603.5 L1233.1 1603.7 L1234.6 1605.2 L1236.1 1607.4 L1237.6 1609.5 L1239.1 1611.1 L1240.6 1612.8 L1242.1 1614.3 L1243.6 1615.5 L1245.1 1616.3 L1246.6 1616.8 L1248.1 1617.0 L1249.6 1617.0 L1251.1 1616.8 L1252.6 1616.5 L1254.1 1615.8 L1255.6 1614.8 L1257.1 1613.6 L1258.6 1612.3 L1260.1 1610.7 L1261.6 1608.1 L1263.1 1604.8 L1264.6 1601.1 L1266.1 1596.5 L1267.6 1589.5 L1269.1 1580.6 L1270.6 1569.8 L1272.1 1555.4 L1273.6 1540.2 L1275.1 1523.9 L1276.6 1514.7 L1278.1 1511.9" fill="none" stroke="#00b050" stroke-width="7.0" stroke-linejoin="round" stroke-linecap="round"/>
<path d="M1608.6 1404.6 L1608.6 1511.6 L1609.0 1546.1 L1609.7 1566.8 L1609.7 1566.8 L1611.2 1582.9 L1612.7 1588.5 L1614.2 1592.2 L1615.7 1594.5 L1617.2 1596.7 L1618.7 1598.6 L1620.2 1600.1 L1621.7 1601.4 L1623.2 1602.7 L1624.7 1603.9 L1626.2 1604.8 L1627.7 1605.5 L1629.2 1606.2 L1630.7 1606.9 L1632.2 1607.6 L1633.7 1608.2 L1635.2 1608.8 L1636.7 1609.3 L1638.2 1609.7 L1639.8 1610.1 L1641.3 1610.4 L1642.8 1610.7 L1644.3 1610.9 L1645.8 1611.2 L1647.3 1611.5 L1648.8 1611.8 L1650.3 1612.0 L1651.8 1612.3 L1653.3 1612.5 L1654.8 1612.7 L1656.3 1612.8 L1657.8 1613.0 L1659.3 1613.1 L1660.8 1613.2 L1662.3 1613.2 L1663.8 1613.3 L1665.3 1613.4 L1666.8 1613.5 L1668.3 1613.6 L1669.8 1613.7 L1671.3 1613.7 L1672.8 1613.8 L1674.3 1613.9 L1675.8 1614.0 L1677.4 1614.0 L1678.9 1614.1 L1680.4 1614.2 L1681.9 1614.3 L1683.4 1614.3 L1684.9 1614.4 L1686.4 1614.4 L1687.9 1614.5 L1689.4 1614.5 L1690.9 1614.6 L1692.4 1614.6 L1693.9 1614.6 L1695.4 1614.6 L1696.9 1614.7 L1698.4 1614.7 L1699.9 1614.7 L1701.4 1614.7 L1702.9 1614.8 L1704.4 1614.8 L1705.9 1614.8 L1707.4 1614.8 L1708.9 1614.9 L1710.4 1614.9 L1711.9 1614.9 L1713.4 1614.9 L1715.0 1615.0 L1716.5 1615.0 L1718.0 1615.0 L1719.5 1615.0 L1721.0 1615.0 L1722.5 1615.1 L1724.0 1615.1 L1725.5 1615.1 L1727.0 1615.1 L1728.5 1615.2 L1730.0 1615.2 L1731.5 1615.2 L1733.0 1615.2 L1734.5 1615.3 L1736.0 1615.3 L1737.5 1615.3 L1739.0 1615.3 L1740.5 1615.4 L1742.0 1615.4 L1743.5 1615.4 L1745.0 1615.4 L1746.5 1615.5 L1748.0 1615.5 L1749.5 1615.5 L1751.0 1615.5 L1752.6 1615.6 L1754.1 1615.6 L1755.6 1615.6 L1757.1 1615.6 L1758.6 1615.7 L1760.1 1615.7 L1761.6 1615.7 L1763.1 1615.7 L1764.6 1615.8 L1766.1 1615.8 L1767.6 1615.8 L1769.1 1615.8 L1770.6 1615.9 L1772.1 1615.9 L1773.6 1615.9 L1775.1 1615.9 L1776.6 1616.0 L1778.1 1616.0 L1779.6 1616.0 L1781.1 1616.0 L1782.6 1616.0 L1784.1 1616.0 L1785.6 1616.0 L1787.1 1616.1 L1788.6 1616.1 L1790.2 1616.1 L1791.7 1616.1 L1793.2 1616.1 L1794.7 1616.1 L1796.2 1616.1 L1797.7 1616.1 L1799.2 1616.1 L1800.7 1616.2 L1802.2 1616.2 L1803.7 1616.2 L1805.2 1616.2 L1806.7 1616.2 L1808.2 1616.2 L1809.7 1616.2 L1811.2 1616.2 L1812.7 1616.2 L1814.2 1616.3 L1815.7 1616.3 L1817.2 1616.3 L1818.7 1616.3 L1820.2 1616.3 L1821.7 1616.3 L1823.2 1616.3 L1824.7 1616.3 L1826.2 1616.4 L1827.8 1616.4 L1829.3 1616.4 L1830.8 1616.4 L1832.3 1616.4 L1833.8 1616.4 L1835.3 1616.4 L1836.8 1616.4 L1838.3 1616.4 L1839.8 1616.5 L1841.3 1616.5 L1842.8 1616.5 L1844.3 1616.5 L1845.8 1616.5 L1847.3 1616.5 L1848.8 1616.5 L1850.3 1616.5 L1851.8 1616.5 L1853.3 1616.5 L1854.8 1616.6 L1856.3 1616.6 L1857.8 1616.6 L1859.3 1616.6 L1860.8 1616.6 L1862.3 1616.6 L1863.9 1616.6 L1865.4 1616.6 L1866.9 1616.7 L1868.4 1616.7 L1869.9 1616.7 L1871.4 1616.7 L1872.9 1616.7 L1874.4 1616.7 L1875.9 1616.7 L1877.4 1616.7 L1878.9 1616.7 L1880.4 1616.8 L1881.9 1616.8 L1883.4 1616.8 L1884.9 1616.8 L1886.4 1616.8 L1887.9 1616.8 L1889.4 1616.8 L1890.9 1616.8 L1892.4 1616.8 L1893.9 1616.9 L1895.4 1616.9 L1896.9 1616.9 L1898.4 1616.9 L1899.9 1616.9 L1901.5 1616.9 L1903.0 1616.9 L1904.5 1616.9 L1906.0 1616.9 L1907.5 1617.0 L1909.0 1617.0 L1910.5 1617.0 L1912.0 1617.0 L1913.5 1617.0 L1915.0 1617.0 L1916.5 1617.0 L1918.0 1617.0 L1919.5 1617.1 L1921.0 1617.1 L1922.5 1617.1 L1924.0 1617.1 L1925.5 1617.1 L1927.0 1617.1 L1928.5 1617.1 L1930.0 1617.1 L1931.5 1617.1 L1933.0 1617.2 L1934.5 1617.2 L1936.0 1617.2 L1937.5 1617.2 L1939.1 1617.2 L1940.6 1617.2 L1942.1 1617.2 L1943.6 1617.2 L1945.1 1617.2 L1946.6 1617.2 L1948.1 1617.2 L1949.6 1617.3 L1951.1 1617.3 L1952.6 1617.3 L1954.1 1617.3 L1955.6 1617.3 L1957.1 1617.3 L1958.6 1617.3 L1960.1 1617.3 L1961.6 1617.3 L1963.1 1617.3 L1964.6 1617.3 L1966.1 1617.3 L1967.6 1617.3 L1969.1 1617.3 L1970.6 1617.3 L1972.1 1617.3 L1973.6 1617.3 L1975.1 1617.3 L1976.7 1617.3 L1978.2 1617.3 L1979.7 1617.3 L1981.2 1617.4 L1982.7 1617.4 L1984.2 1617.4 L1985.7 1617.4 L1987.2 1617.4 L1988.7 1617.4 L1990.2 1617.4 L1991.7 1617.4 L1993.2 1617.4 L1994.7 1617.4 L1996.2 1617.4 L1997.7 1617.4 L1999.2 1617.4 L2000.7 1617.4 L2002.2 1617.4 L2003.7 1617.4 L2005.2 1617.4 L2006.7 1617.4 L2008.2 1617.4 L2009.7 1617.4 L2011.2 1617.5 L2012.7 1617.5 L2014.3 1617.5 L2015.8 1617.5 L2017.3 1617.5 L2018.8 1617.5 L2020.3 1617.5 L2021.8 1617.5 L2023.3 1617.5 L2024.8 1617.5 L2026.3 1617.5 L2027.8 1617.5 L2029.3 1617.5 L2030.8 1617.5 L2032.3 1617.5 L2033.8 1617.5 L2035.3 1617.5 L2036.8 1617.5 L2038.3 1617.5 L2039.8 1617.6 L2041.3 1617.6 L2042.8 1617.6 L2044.3 1617.6 L2045.8 1617.6 L2047.3 1617.6 L2048.8 1617.6 L2050.3 1617.6 L2051.9 1617.6 L2053.4 1617.6 L2054.9 1617.6 L2056.4 1617.6 L2057.9 1617.6 L2059.4 1617.6 L2060.9 1617.6 L2062.4 1617.6 L2063.9 1617.6 L2065.4 1617.6 L2066.9 1617.6 L2068.4 1617.6 L2069.9 1617.7 L2071.4 1617.7 L2072.9 1617.7 L2074.4 1617.7 L2075.9 1617.7 L2077.4 1617.7 L2078.9 1617.7 L2080.4 1617.7 L2081.9 1617.7 L2083.4 1617.7 L2084.9 1617.7 L2086.4 1617.7 L2087.9 1617.7 L2089.5 1617.7 L2091.0 1617.7 L2092.5 1617.7 L2094.0 1617.7 L2095.5 1617.7 L2097.0 1617.7 L2098.5 1617.7 L2100.0 1617.8 L2101.5 1617.8 L2103.0 1617.8 L2104.5 1617.8 L2106.0 1617.8 L2107.5 1617.8" fill="none" stroke="#00b050" stroke-width="7.0" stroke-linejoin="round" stroke-linecap="round"/>
<path d="M293.3 1618.3 L294.8 1618.3 L296.3 1618.3 L297.8 1618.3 L299.3 1618.3 L300.8 1618.3 L302.3 1618.3 L303.8 1618.3 L305.3 1618.3 L306.8 1618.3 L308.3 1618.3 L309.8 1618.3 L311.3 1618.3 L312.8 1618.3 L314.3 1618.3 L315.9 1618.3 L317.4 1618.3 L318.9 1618.3 L320.4 1618.3 L321.9 1618.3 L323.4 1618.3 L324.9 1618.3 L326.4 1618.3 L327.9 1618.3 L329.4 1618.3 L330.9 1618.3 L332.4 1618.3 L333.9 1618.3 L335.4 1618.3 L336.9 1618.3 L338.4 1618.3 L339.9 1618.3 L341.4 1618.3 L342.9 1618.3 L344.4 1618.3 L345.9 1618.3 L347.4 1618.3 L348.9 1618.3 L350.4 1618.3 L351.9 1618.3 L353.4 1618.3 L354.9 1618.3 L356.4 1618.3 L357.9 1618.3 L359.4 1618.3 L360.9 1618.3 L362.4 1618.3 L363.9 1618.3 L365.4 1618.3 L366.9 1618.3 L368.4 1618.3 L369.9 1618.3 L371.4 1618.3 L372.9 1618.3 L374.4 1618.3 L375.9 1618.3 L377.4 1618.3 L378.9 1618.3 L380.4 1618.3 L381.9 1618.3 L383.4 1618.3 L384.9 1618.3 L386.4 1618.3 L387.9 1618.3 L389.4 1618.3 L390.9 1618.3 L392.4 1618.3 L393.9 1618.3 L395.4 1618.3 L396.9 1618.3 L398.4 1618.3 L399.9 1618.3 L401.4 1618.3 L402.9 1618.3 L404.4 1618.3 L405.9 1618.3 L407.4 1618.3 L408.9 1618.3 L410.4 1618.3 L411.9 1618.3 L413.4 1618.3 L414.9 1618.3 L416.4 1618.3 L417.9 1618.3 L419.4 1618.3 L420.9 1618.3 L422.4 1618.3 L423.9 1618.3 L425.4 1618.3 L426.9 1618.3 L428.4 1618.3 L429.9 1618.3 L431.4 1618.3 L432.9 1618.3 L434.4 1618.3 L435.9 1618.3 L437.4 1618.3 L438.9 1618.3 L440.4 1618.3 L441.9 1618.3 L443.4 1618.3 L445.0 1618.3 L446.5 1618.3 L448.0 1618.3 L449.5 1618.3 L451.0 1618.3 L452.5 1618.3 L454.0 1618.3 L455.5 1618.3 L457.0 1618.3 L458.5 1618.3 L460.0 1618.3 L461.5 1618.3 L463.0 1618.3 L464.5 1618.3 L466.0 1618.3 L467.5 1618.3 L469.0 1618.3 L470.5 1618.3 L472.0 1618.3 L473.5 1618.3 L475.0 1618.3 L476.5 1618.3 L478.0 1618.3 L479.5 1618.3 L481.0 1618.3 L482.5 1618.3 L484.0 1618.3 L485.5 1618.3 L487.0 1618.3 L488.5 1618.3 L490.0 1618.3 L491.5 1618.3 L493.0 1618.3 L494.5 1618.3 L496.0 1618.3 L497.5 1618.3 L499.0 1618.3 L500.5 1618.3 L502.0 1618.3 L503.5 1618.3 L505.0 1618.3 L506.5 1618.3 L508.0 1618.3 L509.5 1618.3 L511.0 1618.3 L512.5 1618.3 L514.0 1618.3 L515.5 1618.3 L517.0 1618.3 L518.5 1618.3 L520.0 1618.3 L521.5 1618.3 L523.0 1618.3 L524.5 1618.3 L526.0 1618.2 L527.5 1618.2 L529.0 1618.2 L530.5 1618.2 L532.0 1618.2 L533.5 1618.2 L535.0 1618.2 L536.5 1618.2 L538.0 1618.2 L539.5 1618.2 L541.0 1618.2 L542.5 1618.2 L544.0 1618.2 L545.5 1618.1 L547.0 1618.1 L548.5 1618.1 L550.0 1618.1 L551.5 1618.1 L553.0 1618.1 L554.5 1618.1 L556.0 1618.1 L557.5 1618.1 L559.0 1618.1 L560.5 1618.1 L562.0 1618.1 L563.5 1618.1 L565.0 1618.0 L566.5 1618.0 L568.0 1618.0 L569.5 1618.0 L571.0 1618.0 L572.5 1618.0 L574.1 1618.0 L575.6 1618.0 L577.1 1618.0 L578.6 1618.0 L580.1 1618.0 L581.6 1618.0 L583.1 1617.9 L584.6 1617.9 L586.1 1617.9 L587.6 1617.9 L589.1 1617.9 L590.6 1617.9 L592.1 1617.9 L593.6 1617.9 L595.1 1617.9 L596.6 1617.9 L598.1 1617.9 L599.6 1617.9 L601.1 1617.8 L602.6 1617.8 L604.1 1617.8 L605.6 1617.8 L607.1 1617.8 L608.6 1617.7 L610.1 1617.7 L611.6 1617.7 L613.1 1617.6 L614.6 1617.6 L616.1 1617.6 L617.6 1617.5 L619.1 1617.5 L620.6 1617.4 L622.1 1617.4 L623.6 1617.4 L625.1 1617.3 L626.6 1617.3 L628.1 1617.3 L629.6 1617.2 L631.1 1617.2 L632.6 1617.2 L634.1 1617.2 L635.6 1617.1 L637.1 1617.1 L638.6 1617.1 L640.1 1617.1 L641.6 1617.1 L643.1 1617.1 L644.6 1617.1 L646.1 1617.1 L647.6 1617.1 L649.1 1617.0 L650.6 1617.0 L652.1 1617.0 L653.6 1617.0 L655.1 1617.0 L656.6 1617.0 L658.1 1617.0 L659.6 1617.0 L661.1 1617.0 L662.6 1617.0 L664.1 1617.0 L665.6 1616.9 L667.1 1616.9 L668.6 1616.9 L670.1 1616.9 L671.6 1616.9 L673.1 1616.9 L674.6 1616.9 L676.1 1616.9 L677.6 1616.9 L679.1 1616.9 L680.6 1616.8 L682.1 1616.8 L683.6 1616.8 L685.1 1616.8 L686.6 1616.8 L688.1 1616.8 L689.6 1616.8 L691.1 1616.8 L692.6 1616.7 L694.1 1616.7 L695.6 1616.7 L697.1 1616.7 L698.6 1616.7 L700.1 1616.7 L701.6 1616.7 L703.2 1616.7 L704.7 1616.7 L706.2 1616.7 L707.7 1616.7 L709.2 1616.7 L710.7 1616.8 L712.2 1616.9 L713.7 1617.0 L715.2 1617.1 L716.7 1617.3 L718.2 1617.4 L719.7 1617.6 L721.2 1617.8 L722.7 1618.0 L724.2 1618.1 L725.7 1618.3 L727.2 1618.4 L728.7 1618.6 L730.2 1618.7 L731.7 1618.9 L733.2 1619.1 L734.7 1619.2 L736.2 1619.4 L737.7 1619.6 L739.2 1619.7 L740.7 1619.9 L742.2 1620.0 L743.7 1620.1 L745.2 1620.2 L746.7 1620.2 L748.2 1620.2 L749.7 1620.0 L751.2 1619.6 L752.7 1619.0 L754.2 1618.3 L755.7 1617.5 L757.2 1616.6 L758.7 1615.8 L760.2 1615.0 L761.7 1614.4 L763.2 1613.8 L764.7 1613.2 L766.2 1612.6 L767.7 1612.0 L769.2 1611.5 L770.7 1611.0 L772.2 1610.5 L773.7 1610.0 L775.2 1609.6 L776.7 1609.3 L778.2 1609.1 L779.7 1609.2 L781.2 1609.7 L782.7 1610.7 L784.2 1611.8 L785.7 1613.1 L787.2 1614.5 L788.7 1616.3 L790.2 1618.1 L791.7 1620.1 L793.2 1621.9 L794.7 1623.7 L796.2 1625.6 L797.7 1627.4 L799.2 1629.0 L800.7 1630.4 L802.2 1631.4 L803.7 1632.0 L805.2 1632.1 L806.7 1631.5 L808.2 1630.4 L809.7 1628.8 L811.2 1627.0 L812.7 1624.9 L814.2 1622.0 L815.7 1618.5 L817.2 1615.1 L818.7 1612.3 L820.2 1610.4 L821.7 1608.6 L823.2 1607.0 L824.7 1605.7 L826.2 1604.7 L827.7 1603.9 L829.2 1603.5 L830.7 1603.9 L832.3 1604.8 L833.8 1606.0 L835.3 1607.6 L836.8 1609.2 L838.3 1610.9 L839.8 1612.7 L841.3 1614.8 L842.8 1617.0 L844.3 1619.3 L845.8 1621.4 L847.3 1623.4 L848.8 1625.1 L850.3 1626.9 L851.8 1628.5 L853.3 1630.0 L854.8 1631.3 L856.3 1632.3 L857.8 1633.1 L859.3 1633.5 L860.8 1633.3 L862.3 1632.4 L863.8 1631.0 L865.3 1629.1 L866.8 1627.0 L868.3 1624.9 L869.8 1622.8 L871.3 1620.4 L872.8 1617.8 L874.3 1615.1 L875.8 1612.5 L877.3 1610.1 L878.8 1608.1 L880.3 1606.2 L881.8 1604.6 L883.3 1603.1 L884.8 1601.8 L886.3 1600.9 L887.8 1600.2 L889.3 1599.9 L890.8 1600.1 L892.3 1601.0 L893.8 1602.6 L895.3 1604.7 L896.8 1607.0 L898.3 1609.5 L899.8 1612.7 L901.3 1616.3 L902.8 1619.9 L904.3 1623.0 L905.8 1625.5 L907.3 1627.8 L908.8 1629.9 L910.3 1631.7 L911.8 1633.3 L913.3 1634.5 L914.8 1635.4 L916.3 1635.8 L917.8 1635.7 L919.3 1634.6 L920.8 1632.3 L922.3 1629.3 L923.8 1626.2 L925.3 1622.5 L926.8 1618.0 L928.3 1613.4 L929.8 1609.4 L931.3 1606.6 L932.8 1604.3 L934.3 1602.5 L935.8 1601.3 L937.3 1601.0 L938.8 1601.6 L940.3 1602.9 L941.8 1604.5 L943.3 1606.4 L944.8 1608.6 L946.3 1610.7 L947.8 1613.0 L949.3 1615.6 L950.8 1618.4 L952.3 1621.1 L953.8 1623.3 L955.3 1624.9 L956.8 1626.3 L958.3 1627.5 L959.8 1628.3 L961.4 1628.6 L962.9 1628.4 L964.4 1627.8 L965.9 1627.0 L967.4 1625.9 L968.9 1624.8 L970.4 1623.1 L971.9 1621.1 L973.4 1619.1 L974.9 1617.4 L976.4 1616.2 L977.9 1615.3 L979.4 1614.5 L980.9 1613.8 L982.4 1613.1 L983.9 1612.5 L985.4 1611.9 L986.9 1611.3 L988.4 1610.7 L989.9 1610.1 L991.4 1609.5 L992.9 1609.0 L994.4 1608.5 L995.9 1608.0 L997.4 1607.5 L998.9 1607.0 L1000.4 1606.6 L1001.9 1606.3 L1003.4 1606.1 L1004.9 1606.0 L1006.4 1606.2 L1007.9 1607.3 L1009.4 1609.1 L1010.9 1611.2 L1012.4 1613.3 L1013.9 1615.9 L1015.4 1618.7 L1016.9 1621.3 L1018.4 1623.6 L1019.9 1625.5 L1021.4 1627.3 L1022.9 1628.8 L1024.4 1629.7 L1025.9 1629.7 L1027.4 1629.0 L1028.9 1627.8 L1030.4 1626.4 L1031.9 1624.9 L1033.4 1623.3 L1034.9 1621.7 L1036.4 1620.3 L1037.9 1618.8 L1039.4 1617.2 L1040.9 1615.6 L1042.4 1614.1 L1043.9 1612.7 L1045.4 1611.3 L1046.9 1610.1 L1048.4 1608.8 L1049.9 1607.7 L1051.4 1606.6 L1052.9 1605.6 L1054.4 1604.7 L1055.9 1604.0 L1057.4 1603.4 L1058.9 1603.2 L1060.4 1603.3 L1061.9 1603.8 L1063.4 1605.3 L1064.9 1607.6 L1066.4 1610.3 L1067.9 1613.1 L1069.4 1615.9 L1070.9 1619.0 L1072.4 1622.3 L1073.9 1625.4 L1075.4 1628.1 L1076.9 1630.4 L1078.4 1632.2 L1079.9 1633.2 L1081.4 1633.1 L1082.9 1631.8 L1084.4 1629.6 L1085.9 1627.0 L1087.4 1624.1 L1088.9 1620.8 L1090.5 1616.5 L1092.0 1611.9 L1093.5 1607.6 L1095.0 1604.4 L1096.5 1601.8 L1098.0 1599.4 L1099.5 1597.6 L1101.0 1596.9 L1102.5 1597.5 L1104.0 1599.1 L1105.5 1601.2 L1107.0 1603.7 L1108.5 1606.2 L1110.0 1608.6 L1111.5 1611.3 L1113.0 1614.0 L1114.5 1616.5 L1116.0 1618.8 L1117.5 1620.7 L1119.0 1622.5 L1120.5 1623.7 L1122.0 1623.9 L1123.5 1622.9 L1125.0 1621.4 L1126.5 1619.4 L1128.0 1617.3 L1129.5 1615.3 L1131.0 1613.8 L1132.5 1612.3 L1134.0 1610.9 L1135.5 1609.7 L1137.0 1608.7 L1138.5 1607.9 L1140.0 1607.3 L1141.5 1607.1 L1143.0 1607.3 L1144.5 1607.7 L1146.0 1608.3 L1147.5 1608.9 L1149.0 1609.5 L1150.5 1610.2 L1152.0 1610.7 L1153.5 1611.4 L1155.0 1612.1 L1156.5 1612.8 L1158.0 1613.5 L1159.5 1614.0 L1161.0 1614.3 L1162.5 1614.3 L1164.0 1614.1 L1165.5 1613.7 L1167.0 1613.2 L1168.5 1612.7 L1170.0 1612.2 L1171.5 1611.7 L1173.0 1611.3 L1174.5 1610.8 L1176.0 1610.2 L1177.5 1609.8 L1179.0 1609.4 L1180.5 1609.0 L1182.0 1608.9 L1183.5 1608.8 L1185.0 1608.8 L1186.5 1608.9 L1188.0 1609.1 L1189.5 1609.4 L1191.0 1609.8 L1192.5 1610.3 L1194.0 1610.9 L1195.5 1611.5 L1197.0 1612.1 L1198.5 1612.7 L1200.0 1613.3 L1201.5 1613.8 L1203.0 1614.3 L1204.5 1614.8 L1206.0 1615.2 L1207.5 1615.4 L1209.0 1615.5 L1210.5 1615.1 L1212.0 1614.2 L1213.5 1613.0 L1215.0 1611.7 L1216.5 1610.4 L1218.0 1609.1 L1219.5 1607.6 L1221.1 1606.1 L1222.6 1604.6 L1224.1 1603.4 L1225.6 1602.5 L1227.1 1601.9 L1228.6 1601.5 L1230.1 1601.4 L1231.6 1601.6 L1233.1 1602.0 L1234.6 1602.6 L1236.1 1603.4 L1237.6 1604.4 L1239.1 1605.3 L1240.6 1606.2 L1242.1 1607.0 L1243.6 1607.7 L1245.1 1608.3 L1246.6 1609.0 L1248.1 1609.5 L1249.6 1610.1 L1251.1 1610.5 L1252.6 1610.8 L1254.1 1610.7 L1255.6 1610.1 L1257.1 1609.4 L1258.6 1608.6 L1260.1 1607.5 L1261.6 1605.2 L1263.1 1602.1 L1264.6 1598.6 L1266.1 1594.4 L1267.6 1587.9 L1269.1 1580.0 L1270.6 1570.8 L1272.1 1558.7 L1273.6 1545.2 L1275.1 1528.9 L1276.6 1518.8 L1278.1 1514.3" fill="none" stroke="#00b0f0" stroke-width="7.0" stroke-linejoin="round" stroke-linecap="round"/>
<path d="M1609.2 1508.1 L1609.3 1537.5 L1610.0 1563.4 L1610.0 1563.4 L1611.5 1577.8 L1613.0 1584.0 L1614.5 1588.6 L1616.0 1592.9 L1617.5 1596.0 L1619.0 1597.8 L1620.5 1599.4 L1622.0 1600.7 L1623.5 1601.7 L1625.0 1602.4 L1626.5 1602.9 L1628.1 1603.4 L1629.6 1603.9 L1631.1 1604.3 L1632.6 1604.7 L1634.1 1605.1 L1635.6 1605.4 L1637.1 1605.8 L1638.6 1606.1 L1640.1 1606.5 L1641.6 1606.8 L1643.1 1607.2 L1644.6 1607.5 L1646.1 1607.8 L1647.6 1608.0 L1649.1 1608.3 L1650.6 1608.5 L1652.1 1608.8 L1653.6 1609.0 L1655.1 1609.2 L1656.6 1609.5 L1658.1 1609.7 L1659.6 1609.9 L1661.1 1610.1 L1662.6 1610.3 L1664.1 1610.5 L1665.6 1610.6 L1667.1 1610.8 L1668.6 1610.9 L1670.1 1611.0 L1671.6 1611.2 L1673.1 1611.3 L1674.6 1611.4 L1676.1 1611.6 L1677.7 1611.7 L1679.2 1611.8 L1680.7 1611.9 L1682.2 1612.0 L1683.7 1612.1 L1685.2 1612.2 L1686.7 1612.3 L1688.2 1612.4 L1689.7 1612.5 L1691.2 1612.6 L1692.7 1612.7 L1694.2 1612.7 L1695.7 1612.8 L1697.2 1612.9 L1698.7 1612.9 L1700.2 1613.0 L1701.7 1613.1 L1703.2 1613.1 L1704.7 1613.2 L1706.2 1613.3 L1707.7 1613.3 L1709.2 1613.4 L1710.7 1613.5 L1712.2 1613.5 L1713.7 1613.6 L1715.2 1613.6 L1716.7 1613.7 L1718.2 1613.7 L1719.7 1613.8 L1721.2 1613.8 L1722.7 1613.8 L1724.2 1613.9 L1725.7 1613.9 L1727.2 1613.9 L1728.8 1614.0 L1730.3 1614.0 L1731.8 1614.0 L1733.3 1614.0 L1734.8 1614.1 L1736.3 1614.1 L1737.8 1614.1 L1739.3 1614.1 L1740.8 1614.2 L1742.3 1614.2 L1743.8 1614.2 L1745.3 1614.2 L1746.8 1614.3 L1748.3 1614.3 L1749.8 1614.3 L1751.3 1614.3 L1752.8 1614.3 L1754.3 1614.4 L1755.8 1614.4 L1757.3 1614.4 L1758.8 1614.4 L1760.3 1614.5 L1761.8 1614.5 L1763.3 1614.5 L1764.8 1614.6 L1766.3 1614.6 L1767.8 1614.6 L1769.3 1614.6 L1770.8 1614.7 L1772.3 1614.7 L1773.8 1614.7 L1775.3 1614.7 L1776.8 1614.7 L1778.3 1614.8 L1779.9 1614.8 L1781.4 1614.8 L1782.9 1614.8 L1784.4 1614.8 L1785.9 1614.8 L1787.4 1614.8 L1788.9 1614.9 L1790.4 1614.9 L1791.9 1614.9 L1793.4 1614.9 L1794.9 1614.9 L1796.4 1614.9 L1797.9 1614.9 L1799.4 1614.9 L1800.9 1614.9 L1802.4 1615.0 L1803.9 1615.0 L1805.4 1615.0 L1806.9 1615.0 L1808.4 1615.0 L1809.9 1615.0 L1811.4 1615.0 L1812.9 1615.0 L1814.4 1615.1 L1815.9 1615.1 L1817.4 1615.1 L1818.9 1615.1 L1820.4 1615.1 L1821.9 1615.1 L1823.4 1615.1 L1824.9 1615.1 L1826.4 1615.1 L1827.9 1615.2 L1829.5 1615.2 L1831.0 1615.2 L1832.5 1615.2 L1834.0 1615.2 L1835.5 1615.2 L1837.0 1615.2 L1838.5 1615.2 L1840.0 1615.2 L1841.5 1615.2 L1843.0 1615.3 L1844.5 1615.3 L1846.0 1615.3 L1847.5 1615.4 L1849.0 1615.6 L1850.5 1615.7 L1852.0 1615.7 L1853.5 1615.7 L1855.0 1615.8 L1856.5 1615.8 L1858.0 1615.8 L1859.5 1615.8 L1861.0 1615.8 L1862.5 1615.8 L1864.0 1615.9 L1865.5 1615.9 L1867.0 1615.9 L1868.5 1615.9 L1870.0 1615.9 L1871.5 1615.9 L1873.0 1616.0 L1874.5 1616.0 L1876.0 1616.0 L1877.5 1616.0 L1879.0 1616.0 L1880.6 1616.0 L1882.1 1616.1 L1883.6 1616.1 L1885.1 1616.1 L1886.6 1616.1 L1888.1 1616.1 L1889.6 1616.1 L1891.1 1616.1 L1892.6 1616.2 L1894.1 1616.2 L1895.6 1616.2 L1897.1 1616.2 L1898.6 1616.2 L1900.1 1616.2 L1901.6 1616.2 L1903.1 1616.2 L1904.6 1616.2 L1906.1 1616.2 L1907.6 1616.3 L1909.1 1616.3 L1910.6 1616.3 L1912.1 1616.3 L1913.6 1616.3 L1915.1 1616.3 L1916.6 1616.3 L1918.1 1616.3 L1919.6 1616.3 L1921.1 1616.3 L1922.6 1616.4 L1924.1 1616.4 L1925.6 1616.4 L1927.1 1616.4 L1928.6 1616.4 L1930.1 1616.4 L1931.7 1616.4 L1933.2 1616.4 L1934.7 1616.4 L1936.2 1616.4 L1937.7 1616.5 L1939.2 1616.5 L1940.7 1616.5 L1942.2 1616.5 L1943.7 1616.5 L1945.2 1616.5 L1946.7 1616.5 L1948.2 1616.5 L1949.7 1616.5 L1951.2 1616.5 L1952.7 1616.6 L1954.2 1616.6 L1955.7 1616.6 L1957.2 1616.6 L1958.7 1616.6 L1960.2 1616.6 L1961.7 1616.6 L1963.2 1616.6 L1964.7 1616.6 L1966.2 1616.6 L1967.7 1616.6 L1969.2 1616.7 L1970.7 1616.7 L1972.2 1616.7 L1973.7 1616.7 L1975.2 1616.7 L1976.7 1616.7 L1978.2 1616.7 L1979.7 1616.8 L1981.3 1616.8 L1982.8 1616.8 L1984.3 1616.8 L1985.8 1616.8 L1987.3 1616.8 L1988.8 1616.9 L1990.3 1616.9 L1991.8 1616.9 L1993.3 1616.9 L1994.8 1616.9 L1996.3 1616.9 L1997.8 1616.9 L1999.3 1617.0 L2000.8 1617.0 L2002.3 1617.0 L2003.8 1617.0 L2005.3 1617.0 L2006.8 1617.0 L2008.3 1617.0 L2009.8 1617.1 L2011.3 1617.1 L2012.8 1617.1 L2014.3 1617.1 L2015.8 1617.1 L2017.3 1617.1 L2018.8 1617.1 L2020.3 1617.2 L2021.8 1617.2 L2023.3 1617.2 L2024.8 1617.2 L2026.3 1617.2 L2027.8 1617.3 L2029.3 1617.3 L2030.8 1617.3 L2032.4 1617.4 L2033.9 1617.4 L2035.4 1617.5 L2036.9 1617.6 L2038.4 1617.6 L2039.9 1617.7 L2041.4 1617.7 L2042.9 1617.8 L2044.4 1617.8 L2045.9 1617.9 L2047.4 1618.0 L2048.9 1618.0 L2050.4 1618.1 L2051.9 1618.1 L2053.4 1618.2 L2054.9 1618.3 L2056.4 1618.3 L2057.9 1618.4 L2059.4 1618.5 L2060.9 1618.5 L2062.4 1618.5 L2063.9 1618.6 L2065.4 1618.6 L2066.9 1618.6 L2068.4 1618.6 L2069.9 1618.6 L2071.4 1618.6 L2072.9 1618.6 L2074.4 1618.5 L2075.9 1618.5 L2077.4 1618.5 L2078.9 1618.4 L2080.4 1618.4 L2081.9 1618.3 L2083.5 1618.3 L2085.0 1618.2 L2086.5 1618.2 L2088.0 1618.2 L2089.5 1618.2 L2091.0 1618.1 L2092.5 1618.1 L2094.0 1618.1 L2095.5 1618.0 L2097.0 1618.0 L2098.5 1618.0 L2100.0 1617.9 L2101.5 1617.9 L2103.0 1617.9 L2104.5 1617.8 L2106.0 1617.8 L2107.5 1617.8" fill="none" stroke="#00b0f0" stroke-width="7.0" stroke-linejoin="round" stroke-linecap="round"/>
<path d="M293.3 1617.8 L294.8 1617.8 L296.3 1617.8 L297.8 1617.8 L299.3 1617.8 L300.8 1617.8 L302.3 1617.8 L303.8 1617.8 L305.3 1617.8 L306.8 1617.8 L308.3 1617.8 L309.8 1617.8 L311.3 1617.8 L312.8 1617.8 L314.3 1617.8 L315.9 1617.8 L317.4 1617.8 L318.9 1617.8 L320.4 1617.8 L321.9 1617.8 L323.4 1617.8 L324.9 1617.8 L326.4 1617.8 L327.9 1617.8 L329.4 1617.8 L330.9 1617.8 L332.4 1617.8 L333.9 1617.8 L335.4 1617.8 L336.9 1617.8 L338.4 1617.8 L339.9 1617.8 L341.4 1617.8 L342.9 1617.8 L344.4 1617.8 L345.9 1617.8 L347.4 1617.8 L348.9 1617.8 L350.4 1617.8 L351.9 1617.8 L353.4 1617.8 L354.9 1617.8 L356.4 1617.8 L357.9 1617.8 L359.4 1617.8 L360.9 1617.8 L362.4 1617.8 L363.9 1617.8 L365.4 1617.8 L366.9 1617.8 L368.4 1617.8 L369.9 1617.8 L371.4 1617.8 L372.9 1617.8 L374.4 1617.8 L375.9 1617.8 L377.4 1617.8 L378.9 1617.8 L380.4 1617.8 L381.9 1617.8 L383.4 1617.8 L384.9 1617.8 L386.4 1617.8 L387.9 1617.8 L389.4 1617.8 L390.9 1617.8 L392.4 1617.8 L393.9 1617.8 L395.4 1617.8 L396.9 1617.8 L398.4 1617.8 L399.9 1617.8 L401.4 1617.8 L402.9 1617.8 L404.4 1617.8 L405.9 1617.8 L407.4 1617.8 L408.9 1617.8 L410.4 1617.8 L411.9 1617.8 L413.4 1617.8 L414.9 1617.8 L416.4 1617.8 L417.9 1617.8 L419.4 1617.8 L420.9 1617.8 L422.4 1617.8 L423.9 1617.8 L425.4 1617.8 L426.9 1617.8 L428.4 1617.8 L429.9 1617.8 L431.4 1617.8 L432.9 1617.8 L434.4 1617.8 L435.9 1617.8 L437.4 1617.8 L438.9 1617.8 L440.4 1617.8 L441.9 1617.8 L443.4 1617.8 L445.0 1617.8 L446.5 1617.8 L448.0 1617.8 L449.5 1617.8 L451.0 1617.8 L452.5 1617.8 L454.0 1617.8 L455.5 1617.8 L457.0 1617.8 L458.5 1617.8 L460.0 1617.8 L461.5 1617.8 L463.0 1617.8 L464.5 1617.8 L466.0 1617.8 L467.5 1617.8 L469.0 1617.8 L470.5 1617.8 L472.0 1617.8 L473.5 1617.8 L475.0 1617.8 L476.5 1617.8 L478.0 1617.8 L479.5 1617.8 L481.0 1617.8 L482.5 1617.8 L484.0 1617.8 L485.5 1617.8 L487.0 1617.8 L488.5 1617.8 L490.0 1617.8 L491.5 1617.8 L493.0 1617.8 L494.5 1617.8 L496.0 1617.8 L497.5 1617.8 L499.0 1617.8 L500.5 1617.8 L502.0 1617.8 L503.5 1617.8 L505.0 1617.8 L506.5 1617.8 L508.0 1617.8 L509.5 1617.8 L511.0 1617.8 L512.5 1617.8 L514.0 1617.8 L515.5 1617.8 L517.0 1617.8 L518.5 1617.8 L520.0 1617.8 L521.5 1617.8 L523.0 1617.8 L524.5 1617.8 L526.0 1617.8 L527.5 1617.8 L529.0 1617.8 L530.5 1617.8 L532.0 1617.8 L533.5 1617.8 L535.0 1617.8 L536.5 1617.8 L538.0 1617.8 L539.5 1617.8 L541.0 1617.8 L542.5 1617.8 L544.0 1617.8 L545.5 1617.8 L547.0 1617.8 L548.5 1617.8 L550.0 1617.8 L551.5 1617.8 L553.0 1617.8 L554.5 1617.8 L556.0 1617.8 L557.5 1617.8 L559.0 1617.8 L560.5 1617.8 L562.0 1617.8 L563.5 1617.8 L565.0 1617.8 L566.5 1617.8 L568.0 1617.8 L569.5 1617.8 L571.0 1617.8 L572.5 1617.8 L574.1 1617.8 L575.6 1617.8 L577.1 1617.8 L578.6 1617.8 L580.1 1617.8 L581.6 1617.7 L583.1 1617.7 L584.6 1617.6 L586.1 1617.5 L587.6 1617.4 L589.1 1617.2 L590.6 1617.1 L592.1 1616.9 L593.6 1616.7 L595.1 1616.5 L596.6 1616.3 L598.1 1616.1 L599.6 1615.9 L601.1 1615.7 L602.6 1615.5 L604.1 1615.3 L605.6 1615.1 L607.1 1614.9 L608.6 1614.8 L610.1 1614.6 L611.6 1614.5 L613.1 1614.4 L614.6 1614.4 L616.1 1614.4 L617.6 1614.4 L619.1 1614.4 L620.6 1614.5 L622.1 1614.7 L623.6 1614.8 L625.1 1615.0 L626.6 1615.1 L628.1 1615.3 L629.6 1615.5 L631.1 1615.7 L632.6 1615.9 L634.1 1616.1 L635.6 1616.5 L637.1 1616.9 L638.6 1617.4 L640.1 1618.0 L641.6 1618.6 L643.1 1619.3 L644.6 1620.0 L646.1 1620.7 L647.6 1621.4 L649.1 1622.3 L650.6 1623.3 L652.1 1624.5 L653.6 1625.7 L655.1 1626.9 L656.6 1628.0 L658.1 1629.0 L659.6 1629.8 L661.1 1630.5 L662.6 1631.1 L664.1 1631.6 L665.6 1632.1 L667.1 1632.5 L668.6 1632.9 L670.1 1633.1 L671.6 1633.3 L673.1 1633.3 L674.6 1633.3 L676.1 1633.1 L677.6 1632.7 L679.1 1632.2 L680.6 1631.5 L682.1 1630.7 L683.6 1629.9 L685.1 1628.9 L686.6 1627.9 L688.1 1626.7 L689.6 1625.3 L691.1 1623.7 L692.6 1622.1 L694.1 1620.4 L695.6 1618.7 L697.1 1617.1 L698.6 1615.6 L700.1 1614.0 L701.6 1612.3 L703.2 1610.6 L704.7 1609.0 L706.2 1607.5 L707.7 1606.1 L709.2 1605.0 L710.7 1604.1 L712.2 1603.3 L713.7 1602.5 L715.2 1601.8 L716.7 1601.1 L718.2 1600.6 L719.7 1600.1 L721.2 1599.6 L722.7 1599.3 L724.2 1599.0 L725.7 1598.9 L727.2 1598.8 L728.7 1598.8 L730.2 1599.0 L731.7 1599.2 L733.2 1599.6 L734.7 1600.0 L736.2 1600.5 L737.7 1601.0 L739.2 1601.7 L740.7 1602.6 L742.2 1603.8 L743.7 1605.1 L745.2 1606.6 L746.7 1608.2 L748.2 1609.9 L749.7 1611.6 L751.2 1613.3 L752.7 1615.4 L754.2 1617.6 L755.7 1619.9 L757.2 1622.2 L758.7 1624.4 L760.2 1626.5 L761.7 1628.3 L763.2 1630.0 L764.7 1631.5 L766.2 1633.0 L767.7 1634.5 L769.2 1635.8 L770.7 1637.0 L772.2 1638.2 L773.7 1639.2 L775.2 1640.2 L776.7 1641.0 L778.2 1641.9 L779.7 1642.6 L781.2 1643.4 L782.7 1644.0 L784.2 1644.7 L785.7 1645.2 L787.2 1645.6 L788.7 1645.7 L790.2 1645.3 L791.7 1644.7 L793.2 1643.6 L794.7 1641.7 L796.2 1636.1 L797.7 1628.7 L799.2 1622.1 L800.7 1615.8 L802.2 1609.4 L803.7 1603.5 L805.2 1598.6 L806.7 1594.2 L808.2 1590.3 L809.7 1586.9 L811.2 1584.2 L812.7 1582.3 L814.2 1580.6 L815.7 1579.0 L817.2 1577.8 L818.7 1577.2 L820.2 1577.4 L821.7 1578.3 L823.2 1579.9 L824.7 1581.8 L826.2 1584.0 L827.7 1586.3 L829.2 1589.0 L830.7 1592.1 L832.3 1595.1 L833.8 1597.8 L835.3 1599.7 L836.8 1601.3 L838.3 1602.7 L839.8 1603.9 L841.3 1605.0 L842.8 1605.9 L844.3 1606.6 L845.8 1607.0 L847.3 1607.2 L848.8 1607.3 L850.3 1607.3 L851.8 1607.5 L853.3 1607.8 L854.8 1608.4 L856.3 1609.3 L857.8 1611.1 L859.3 1613.7 L860.8 1616.8 L862.3 1619.8 L863.8 1623.3 L865.3 1627.2 L866.8 1631.0 L868.3 1634.3 L869.8 1636.9 L871.3 1639.1 L872.8 1641.1 L874.3 1642.7 L875.8 1643.8 L877.3 1644.6 L878.8 1645.2 L880.3 1645.6 L881.8 1645.7 L883.3 1645.5 L884.8 1645.0 L886.3 1644.4 L887.8 1643.7 L889.3 1642.9 L890.8 1641.7 L892.3 1640.3 L893.8 1638.8 L895.3 1637.5 L896.8 1636.8 L898.3 1636.3 L899.8 1635.9 L901.3 1635.7 L902.8 1635.7 L904.3 1636.0 L905.8 1636.5 L907.3 1637.0 L908.8 1637.5 L910.3 1637.6 L911.8 1637.0 L913.3 1635.8 L914.8 1634.2 L916.3 1632.0 L917.8 1628.4 L919.3 1624.0 L920.8 1619.3 L922.3 1615.0 L923.8 1611.3 L925.3 1607.4 L926.8 1603.5 L928.3 1600.0 L929.8 1597.0 L931.3 1594.7 L932.8 1592.8 L934.3 1591.0 L935.8 1589.4 L937.3 1588.2 L938.8 1587.3 L940.3 1586.8 L941.8 1586.6 L943.3 1586.4 L944.8 1586.4 L946.3 1586.7 L947.8 1587.2 L949.3 1587.9 L950.8 1588.9 L952.3 1590.0 L953.8 1591.3 L955.3 1592.7 L956.8 1594.3 L958.3 1596.1 L959.8 1597.9 L961.4 1599.8 L962.9 1601.4 L964.4 1602.9 L965.9 1604.4 L967.4 1605.9 L968.9 1607.3 L970.4 1608.4 L971.9 1609.2 L973.4 1609.5 L974.9 1609.5 L976.4 1609.4 L977.9 1609.2 L979.4 1609.0 L980.9 1608.7 L982.4 1608.4 L983.9 1608.1 L985.4 1607.8 L986.9 1607.4 L988.4 1607.0 L989.9 1606.7 L991.4 1606.6 L992.9 1606.8 L994.4 1607.4 L995.9 1608.3 L997.4 1610.9 L998.9 1615.8 L1000.4 1620.6 L1001.9 1624.2 L1003.4 1627.7 L1004.9 1630.7 L1006.4 1633.0 L1007.9 1634.5 L1009.4 1635.9 L1010.9 1637.0 L1012.4 1637.7 L1013.9 1638.1 L1015.4 1638.2 L1016.9 1638.1 L1018.4 1637.9 L1019.9 1637.4 L1021.4 1636.7 L1022.9 1635.7 L1024.4 1634.4 L1025.9 1633.1 L1027.4 1631.6 L1028.9 1630.1 L1030.4 1628.6 L1031.9 1627.2 L1033.4 1625.8 L1034.9 1624.3 L1036.4 1622.8 L1037.9 1621.2 L1039.4 1619.7 L1040.9 1618.1 L1042.4 1616.4 L1043.9 1614.8 L1045.4 1613.1 L1046.9 1611.4 L1048.4 1609.6 L1049.9 1607.9 L1051.4 1605.9 L1052.9 1603.8 L1054.4 1601.7 L1055.9 1599.7 L1057.4 1597.9 L1058.9 1596.5 L1060.4 1595.5 L1061.9 1594.7 L1063.4 1594.3 L1064.9 1594.4 L1066.4 1594.9 L1067.9 1595.9 L1069.4 1597.2 L1070.9 1598.8 L1072.4 1600.3 L1073.9 1601.8 L1075.4 1603.4 L1076.9 1605.0 L1078.4 1606.6 L1079.9 1607.9 L1081.4 1609.0 L1082.9 1609.8 L1084.4 1610.2 L1085.9 1610.2 L1087.4 1609.5 L1088.9 1608.3 L1090.5 1606.8 L1092.0 1605.1 L1093.5 1603.6 L1095.0 1602.2 L1096.5 1601.0 L1098.0 1599.7 L1099.5 1598.6 L1101.0 1597.9 L1102.5 1597.6 L1104.0 1598.3 L1105.5 1599.8 L1107.0 1601.8 L1108.5 1603.9 L1110.0 1606.2 L1111.5 1609.0 L1113.0 1612.0 L1114.5 1615.0 L1116.0 1617.5 L1117.5 1619.6 L1119.0 1621.6 L1120.5 1623.3 L1122.0 1624.5 L1123.5 1625.0 L1125.0 1625.0 L1126.5 1624.6 L1128.0 1624.0 L1129.5 1623.2 L1131.0 1622.3 L1132.5 1621.0 L1134.0 1619.6 L1135.5 1618.1 L1137.0 1617.0 L1138.5 1616.3 L1140.0 1615.9 L1141.5 1615.5 L1143.0 1615.3 L1144.5 1615.0 L1146.0 1614.7 L1147.5 1614.1 L1149.0 1613.5 L1150.5 1612.8 L1152.0 1612.1 L1153.5 1611.3 L1155.0 1610.5 L1156.5 1609.6 L1158.0 1608.7 L1159.5 1607.6 L1161.0 1606.5 L1162.5 1605.3 L1164.0 1604.1 L1165.5 1602.9 L1167.0 1601.7 L1168.5 1600.3 L1170.0 1598.9 L1171.5 1597.6 L1173.0 1596.6 L1174.5 1595.9 L1176.0 1595.3 L1177.5 1594.7 L1179.0 1594.3 L1180.5 1593.9 L1182.0 1593.7 L1183.5 1593.5 L1185.0 1593.4 L1186.5 1593.3 L1188.0 1593.4 L1189.5 1593.5 L1191.0 1593.8 L1192.5 1594.4 L1194.0 1595.2 L1195.5 1595.9 L1197.0 1596.4 L1198.5 1596.7 L1200.0 1596.9 L1201.5 1597.0 L1203.0 1597.0 L1204.5 1596.9 L1206.0 1596.6 L1207.5 1596.1 L1209.0 1595.1 L1210.5 1593.8 L1212.0 1592.6 L1213.5 1591.8 L1215.0 1591.3 L1216.5 1590.9 L1218.0 1590.6 L1219.5 1590.3 L1221.1 1590.1 L1222.6 1590.0 L1224.1 1590.0 L1225.6 1590.1 L1227.1 1590.3 L1228.6 1590.7 L1230.1 1591.1 L1231.6 1591.6 L1233.1 1592.4 L1234.6 1593.7 L1236.1 1595.3 L1237.6 1596.8 L1239.1 1598.2 L1240.6 1599.1 L1242.1 1600.0 L1243.6 1600.7 L1245.1 1601.3 L1246.6 1601.8 L1248.1 1602.2 L1249.6 1602.4 L1251.1 1602.2 L1252.6 1601.6 L1254.1 1600.7 L1255.6 1599.6 L1257.1 1598.5 L1258.6 1596.4 L1260.1 1593.5 L1261.6 1590.1 L1263.1 1585.5 L1264.6 1579.3 L1266.1 1572.0 L1267.6 1563.0 L1269.1 1552.3 L1270.6 1541.2 L1272.1 1531.1 L1273.6 1526.9 L1275.1 1524.4 L1276.6 1523.1 L1278.1 1522.6" fill="none" stroke="#ff0000" stroke-width="7.0" stroke-linejoin="round" stroke-linecap="round"/>
<path d="M1609.3 1288.1 L1609.3 1477.1 L1609.7 1520.2 L1610.2 1546.1 L1610.3 1553.8 L1611.5 1563.7 L1614.3 1570.3 L1614.3 1570.3 L1615.8 1571.3 L1617.3 1572.2 L1618.8 1572.6 L1620.3 1572.6 L1621.8 1572.2 L1623.3 1571.6 L1624.8 1570.8 L1626.3 1570.0 L1627.8 1569.0 L1629.3 1568.0 L1630.8 1566.9 L1632.3 1565.6 L1633.8 1564.1 L1635.3 1562.6 L1636.8 1561.1 L1638.3 1559.8 L1639.8 1558.7 L1641.4 1557.7 L1642.9 1556.8 L1644.4 1556.0 L1645.9 1555.3 L1647.4 1554.9 L1648.9 1554.6 L1650.4 1554.4 L1651.9 1554.3 L1653.4 1554.3 L1654.9 1554.5 L1656.4 1554.6 L1657.9 1554.9 L1659.4 1555.2 L1660.9 1555.7 L1662.4 1556.7 L1663.9 1558.0 L1665.4 1559.7 L1666.9 1562.0 L1668.4 1565.2 L1669.9 1568.6 L1671.4 1571.7 L1672.9 1574.3 L1674.4 1576.7 L1675.9 1579.1 L1677.4 1581.7 L1678.9 1584.5 L1680.4 1587.5 L1682.0 1590.6 L1683.5 1593.8 L1685.0 1597.2 L1686.5 1600.8 L1688.0 1604.4 L1689.5 1607.8 L1691.0 1611.0 L1692.5 1614.0 L1694.0 1617.0 L1695.5 1619.7 L1697.0 1622.5 L1698.5 1625.1 L1700.0 1627.5 L1701.5 1629.6 L1703.0 1631.5 L1704.5 1633.4 L1706.0 1635.1 L1707.5 1636.6 L1709.0 1638.0 L1710.5 1639.4 L1712.0 1640.7 L1713.5 1642.0 L1715.0 1643.0 L1716.5 1643.9 L1718.0 1644.4 L1719.5 1644.9 L1721.0 1645.4 L1722.6 1645.7 L1724.1 1646.0 L1725.6 1646.1 L1727.1 1646.2 L1728.6 1646.1 L1730.1 1646.1 L1731.6 1645.9 L1733.1 1645.8 L1734.6 1645.5 L1736.1 1645.2 L1737.6 1644.9 L1739.1 1644.3 L1740.6 1643.4 L1742.1 1642.4 L1743.6 1641.2 L1745.1 1639.9 L1746.6 1638.4 L1748.1 1636.8 L1749.6 1635.0 L1751.1 1633.1 L1752.6 1631.4 L1754.1 1629.7 L1755.6 1628.0 L1757.1 1626.3 L1758.6 1624.6 L1760.1 1622.9 L1761.6 1621.2 L1763.2 1619.5 L1764.7 1617.8 L1766.2 1616.1 L1767.7 1614.4 L1769.2 1612.8 L1770.7 1611.2 L1772.2 1609.6 L1773.7 1608.1 L1775.2 1606.6 L1776.7 1605.3 L1778.2 1604.1 L1779.7 1602.8 L1781.2 1601.7 L1782.7 1600.6 L1784.2 1599.6 L1785.7 1598.8 L1787.2 1598.2 L1788.7 1597.6 L1790.2 1597.0 L1791.7 1596.5 L1793.2 1596.0 L1794.7 1595.6 L1796.2 1595.1 L1797.7 1594.7 L1799.2 1594.2 L1800.7 1593.7 L1802.2 1593.2 L1803.8 1592.7 L1805.3 1592.2 L1806.8 1591.8 L1808.3 1591.5 L1809.8 1591.2 L1811.3 1591.0 L1812.8 1590.9 L1814.3 1590.7 L1815.8 1590.6 L1817.3 1590.6 L1818.8 1590.5 L1820.3 1590.5 L1821.8 1590.5 L1823.3 1590.5 L1824.8 1590.6 L1826.3 1590.7 L1827.8 1590.7 L1829.3 1590.8 L1830.8 1591.0 L1832.3 1591.1 L1833.8 1591.3 L1835.3 1591.4 L1836.8 1591.6 L1838.3 1591.9 L1839.8 1592.3 L1841.3 1592.9 L1842.8 1593.4 L1844.4 1594.0 L1845.9 1594.6 L1847.4 1595.2 L1848.9 1595.8 L1850.4 1596.4 L1851.9 1596.9 L1853.4 1597.5 L1854.9 1598.2 L1856.4 1598.8 L1857.9 1599.5 L1859.4 1600.2 L1860.9 1600.9 L1862.4 1601.8 L1863.9 1602.6 L1865.4 1603.5 L1866.9 1604.5 L1868.4 1605.4 L1869.9 1606.3 L1871.4 1607.2 L1872.9 1608.0 L1874.4 1608.8 L1875.9 1609.6 L1877.4 1610.3 L1878.9 1611.1 L1880.4 1611.8 L1881.9 1612.5 L1883.4 1613.2 L1885.0 1613.9 L1886.5 1614.5 L1888.0 1615.1 L1889.5 1615.7 L1891.0 1616.3 L1892.5 1616.9 L1894.0 1617.4 L1895.5 1618.0 L1897.0 1618.5 L1898.5 1619.0 L1900.0 1619.6 L1901.5 1620.1 L1903.0 1620.5 L1904.5 1621.0 L1906.0 1621.4 L1907.5 1621.7 L1909.0 1622.1 L1910.5 1622.4 L1912.0 1622.7 L1913.5 1622.9 L1915.0 1623.1 L1916.5 1623.3 L1918.0 1623.4 L1919.5 1623.5 L1921.0 1623.5 L1922.5 1623.5 L1924.0 1623.5 L1925.6 1623.5 L1927.1 1623.4 L1928.6 1623.3 L1930.1 1623.2 L1931.6 1623.1 L1933.1 1622.9 L1934.6 1622.7 L1936.1 1622.4 L1937.6 1622.1 L1939.1 1621.7 L1940.6 1621.3 L1942.1 1620.9 L1943.6 1620.5 L1945.1 1620.1 L1946.6 1619.7 L1948.1 1619.4 L1949.6 1619.0 L1951.1 1618.7 L1952.6 1618.3 L1954.1 1618.0 L1955.6 1617.6 L1957.1 1617.3 L1958.6 1617.0 L1960.1 1616.7 L1961.6 1616.4 L1963.1 1616.1 L1964.6 1615.8 L1966.2 1615.5 L1967.7 1615.3 L1969.2 1615.0 L1970.7 1614.8 L1972.2 1614.6 L1973.7 1614.4 L1975.2 1614.1 L1976.7 1613.9 L1978.2 1613.7 L1979.7 1613.5 L1981.2 1613.4 L1982.7 1613.2 L1984.2 1613.0 L1985.7 1612.9 L1987.2 1612.7 L1988.7 1612.5 L1990.2 1612.4 L1991.7 1612.2 L1993.2 1612.1 L1994.7 1611.9 L1996.2 1611.8 L1997.7 1611.6 L1999.2 1611.5 L2000.7 1611.4 L2002.2 1611.3 L2003.7 1611.2 L2005.2 1611.1 L2006.8 1611.1 L2008.3 1611.0 L2009.8 1611.0 L2011.3 1610.9 L2012.8 1610.9 L2014.3 1610.8 L2015.8 1610.8 L2017.3 1610.7 L2018.8 1610.7 L2020.3 1610.7 L2021.8 1610.6 L2023.3 1610.6 L2024.8 1610.6 L2026.3 1610.6 L2027.8 1610.6 L2029.3 1610.6 L2030.8 1610.6 L2032.3 1610.6 L2033.8 1610.6 L2035.3 1610.6 L2036.8 1610.6 L2038.3 1610.6 L2039.8 1610.6 L2041.3 1610.7 L2042.8 1610.7 L2044.3 1610.7 L2045.8 1610.8 L2047.4 1610.8 L2048.9 1610.8 L2050.4 1610.9 L2051.9 1610.9 L2053.4 1611.0 L2054.9 1611.0 L2056.4 1611.0 L2057.9 1611.1 L2059.4 1611.1 L2060.9 1611.2 L2062.4 1611.2 L2063.9 1611.3 L2065.4 1611.4 L2066.9 1611.4 L2068.4 1611.5 L2069.9 1611.6 L2071.4 1611.7 L2072.9 1611.8 L2074.4 1611.9 L2075.9 1612.1 L2077.4 1612.2 L2078.9 1612.3 L2080.4 1612.4 L2081.9 1612.6 L2083.4 1612.8 L2084.9 1612.9 L2086.4 1613.2 L2088.0 1613.4 L2089.5 1613.6 L2091.0 1613.9 L2092.5 1614.1 L2094.0 1614.3 L2095.5 1614.5 L2097.0 1614.7 L2098.5 1614.9 L2100.0 1615.0 L2101.5 1615.2 L2103.0 1615.4 L2104.5 1615.5 L2106.0 1615.7 L2107.5 1615.8" fill="none" stroke="#ff0000" stroke-width="7.0" stroke-linejoin="round" stroke-linecap="round"/>
<text x="495.3" y="1889.7" font-family='"DejaVu Serif", "Liberation Serif", serif' font-size="50.0" fill="#000" stroke="#000" stroke-width="1.1" stroke-linejoin="round"><tspan font-style="italic">h</tspan><tspan font-size="60" dx="4.5" dy="6">/</tspan><tspan font-style="italic" dx="2.5" dy="-6">T</tspan><tspan dx="1.6"> = </tspan><tspan dx="-1.6">7<tspan dx="-4.5">.</tspan><tspan dx="-3">6</tspan></tspan></text>
<text x="495.3" y="1968.8" font-family='"DejaVu Serif", "Liberation Serif", serif' font-size="50.0" fill="#000" stroke="#000" stroke-width="1.1" stroke-linejoin="round"><tspan font-style="italic">h</tspan><tspan font-size="60" dx="4.5" dy="6">/</tspan><tspan font-style="italic" dx="2.5" dy="-6">T</tspan><tspan dx="1.6"> = </tspan><tspan dx="-1.6">4</tspan></text>
<text x="495.3" y="2047.9" font-family='"DejaVu Serif", "Liberation Serif", serif' font-size="50.0" fill="#000" stroke="#000" stroke-width="1.1" stroke-linejoin="round"><tspan font-style="italic">h</tspan><tspan font-size="60" dx="4.5" dy="6">/</tspan><tspan font-style="italic" dx="2.5" dy="-6">T</tspan><tspan dx="1.6"> = </tspan><tspan dx="-1.6">2</tspan></text>
<text x="231.7" y="1237.3" text-anchor="end" font-family='"Liberation Serif", "Times New Roman", serif' font-size="54">0.015</text>
<text x="231.7" y="1370.1" text-anchor="end" font-family='"Liberation Serif", "Times New Roman", serif' font-size="54">0.01</text>
<text x="231.7" y="1502.9" text-anchor="end" font-family='"Liberation Serif", "Times New Roman", serif' font-size="54">0.005</text>
<text x="231.7" y="1635.7" text-anchor="end" font-family='"Liberation Serif", "Times New Roman", serif' font-size="54">0</text>
<text x="231.7" y="1768.4" text-anchor="end" font-family='"Liberation Serif", "Times New Roman", serif' font-size="54">-0.005</text>
<text x="231.7" y="1901.2" text-anchor="end" font-family='"Liberation Serif", "Times New Roman", serif' font-size="54">-0.01</text>
<text x="231.7" y="2034.0" text-anchor="end" font-family='"Liberation Serif", "Times New Roman", serif' font-size="54">-0.015</text>
<text x="231.7" y="2166.8" text-anchor="end" font-family='"Liberation Serif", "Times New Roman", serif' font-size="54">-0.02</text>
<text x="279.0" y="2233.0" text-anchor="middle" font-family='"Liberation Serif", "Times New Roman", serif' font-size="54">-3</text>
<text x="446.1" y="2233.0" text-anchor="middle" font-family='"Liberation Serif", "Times New Roman", serif' font-size="54">-2.5</text>
<text x="613.3" y="2233.0" text-anchor="middle" font-family='"Liberation Serif", "Times New Roman", serif' font-size="54">-2</text>
<text x="780.4" y="2233.0" text-anchor="middle" font-family='"Liberation Serif", "Times New Roman", serif' font-size="54">-1.5</text>
<text x="947.5" y="2233.0" text-anchor="middle" font-family='"Liberation Serif", "Times New Roman", serif' font-size="54">-1</text>
<text x="1114.7" y="2233.0" text-anchor="middle" font-family='"Liberation Serif", "Times New Roman", serif' font-size="54">-0.5</text>
<text x="1283.6" y="2233.0" text-anchor="middle" font-family='"Liberation Serif", "Times New Roman", serif' font-size="54">0</text>
<text x="1450.8" y="2233.0" text-anchor="middle" font-family='"Liberation Serif", "Times New Roman", serif' font-size="54">0.5</text>
<text x="1617.9" y="2233.0" text-anchor="middle" font-family='"Liberation Serif", "Times New Roman", serif' font-size="54">1</text>
<text x="1785.0" y="2233.0" text-anchor="middle" font-family='"Liberation Serif", "Times New Roman", serif' font-size="54">1.5</text>
<text x="1952.2" y="2233.0" text-anchor="middle" font-family='"Liberation Serif", "Times New Roman", serif' font-size="54">2</text>
<text x="2119.3" y="2233.0" text-anchor="middle" font-family='"Liberation Serif", "Times New Roman", serif' font-size="54">2.5</text>
<text x="880.2" y="1200.7" font-family='"Liberation Serif", "Times New Roman", serif' font-size="65.3" font-weight="bold"><tspan font-style="italic">y</tspan>=1.7 m, 4 knots</text>
<text x="1284.0" y="1993.0" text-anchor="middle" font-family='"Liberation Serif", "Times New Roman", serif' font-size="55.5" font-weight="bold">AP</text>
<text x="1622.7" y="1993.0" text-anchor="middle" font-family='"Liberation Serif", "Times New Roman", serif' font-size="55.5" font-weight="bold">FP</text>
<text transform="translate(58.0 1705.0) rotate(-90)" font-family='"Liberation Serif", "Times New Roman", serif' font-size="55" font-style="italic">η <tspan stroke="#fff" stroke-width="1.5">/</tspan> L<tspan font-style="normal" font-size="37.5" dy="12.5">PP</tspan></text>
<text x="1129.0" y="2295.5" font-family='"Liberation Serif", "Times New Roman", serif' font-size="55" font-style="italic">x <tspan stroke="#fff" stroke-width="1.5">/</tspan> L<tspan font-style="normal" font-size="37.5" dy="12.5">PP</tspan></text>
<line x1="265.0" y1="2397.7" x2="265.0" y2="3330.3" stroke="#d0cece" stroke-width="3"/>
<line x1="432.2" y1="2397.7" x2="432.2" y2="3330.3" stroke="#d0cece" stroke-width="3"/>
<line x1="599.4" y1="2397.7" x2="599.4" y2="3330.3" stroke="#d0cece" stroke-width="3"/>
<line x1="766.6" y1="2397.7" x2="766.6" y2="3330.3" stroke="#d0cece" stroke-width="3"/>
<line x1="933.8" y1="2397.7" x2="933.8" y2="3330.3" stroke="#d0cece" stroke-width="3"/>
<line x1="1101.0" y1="2397.7" x2="1101.0" y2="3330.3" stroke="#d0cece" stroke-width="3"/>
<line x1="1268.2" y1="2397.7" x2="1268.2" y2="3330.3" stroke="#d0cece" stroke-width="3"/>
<line x1="1435.4" y1="2397.7" x2="1435.4" y2="3330.3" stroke="#d0cece" stroke-width="3"/>
<line x1="1602.6" y1="2397.7" x2="1602.6" y2="3330.3" stroke="#d0cece" stroke-width="3"/>
<line x1="1769.8" y1="2397.7" x2="1769.8" y2="3330.3" stroke="#d0cece" stroke-width="3"/>
<line x1="1937.0" y1="2397.7" x2="1937.0" y2="3330.3" stroke="#d0cece" stroke-width="3"/>
<line x1="2104.2" y1="2397.7" x2="2104.2" y2="3330.3" stroke="#d0cece" stroke-width="3"/>
<line x1="263.5" y1="2399.2" x2="2105.7" y2="2399.2" stroke="#d6d6d6" stroke-width="3.4"/>
<line x1="263.5" y1="2532.0" x2="2105.7" y2="2532.0" stroke="#d6d6d6" stroke-width="3.4"/>
<line x1="263.5" y1="2664.8" x2="2105.7" y2="2664.8" stroke="#d6d6d6" stroke-width="3.4"/>
<line x1="263.5" y1="2797.6" x2="2105.7" y2="2797.6" stroke="#d6d6d6" stroke-width="3.4"/>
<line x1="263.5" y1="2930.4" x2="2105.7" y2="2930.4" stroke="#d6d6d6" stroke-width="3.4"/>
<line x1="263.5" y1="3063.2" x2="2105.7" y2="3063.2" stroke="#d6d6d6" stroke-width="3.4"/>
<line x1="263.5" y1="3196.0" x2="2105.7" y2="3196.0" stroke="#d6d6d6" stroke-width="3.4"/>
<line x1="263.5" y1="3328.8" x2="2105.7" y2="3328.8" stroke="#d6d6d6" stroke-width="3.4"/>
<line x1="265.0" y1="2797.6" x2="265.0" y2="2814.6" stroke="#808080" stroke-width="3"/>
<line x1="432.2" y1="2797.6" x2="432.2" y2="2814.6" stroke="#808080" stroke-width="3"/>
<line x1="599.4" y1="2797.6" x2="599.4" y2="2814.6" stroke="#808080" stroke-width="3"/>
<line x1="766.6" y1="2797.6" x2="766.6" y2="2814.6" stroke="#808080" stroke-width="3"/>
<line x1="933.8" y1="2797.6" x2="933.8" y2="2814.6" stroke="#808080" stroke-width="3"/>
<line x1="1101.0" y1="2797.6" x2="1101.0" y2="2814.6" stroke="#808080" stroke-width="3"/>
<line x1="1268.2" y1="2797.6" x2="1268.2" y2="2814.6" stroke="#808080" stroke-width="3"/>
<line x1="1435.4" y1="2797.6" x2="1435.4" y2="2814.6" stroke="#808080" stroke-width="3"/>
<line x1="1602.6" y1="2797.6" x2="1602.6" y2="2814.6" stroke="#808080" stroke-width="3"/>
<line x1="1769.8" y1="2797.6" x2="1769.8" y2="2814.6" stroke="#808080" stroke-width="3"/>
<line x1="1937.0" y1="2797.6" x2="1937.0" y2="2814.6" stroke="#808080" stroke-width="3"/>
<line x1="2104.2" y1="2797.6" x2="2104.2" y2="2814.6" stroke="#808080" stroke-width="3"/>
<line x1="265.0" y1="2797.6" x2="2104.2" y2="2797.6" stroke="#808080" stroke-width="2.4"/>
<line x1="933.8" y1="2797.6" x2="1692.0" y2="2797.6" stroke="#000" stroke-width="2.6"/>
<line x1="1937.0" y1="2788.1" x2="1937.0" y2="2806.6" stroke="#000" stroke-width="3"/>
<line x1="380.9" y1="3045.5" x2="456.2" y2="3045.5" stroke="#00b050" stroke-width="7.6" stroke-linecap="round"/>
<line x1="380.9" y1="3128.8" x2="456.2" y2="3128.8" stroke="#00b0f0" stroke-width="7.6" stroke-linecap="round"/>
<line x1="380.9" y1="3213.1" x2="456.2" y2="3213.1" stroke="#ff0000" stroke-width="7.6" stroke-linecap="round"/>
<rect x="457.1" y="2987.4" width="301.0" height="272.0" fill="#fff"/>
<line x1="1268.2" y1="2478.8" x2="1268.2" y2="2797.6" stroke="#000" stroke-width="6" stroke-dasharray="20.8 13.86" stroke-dashoffset="13.4"/>
<line x1="1268.2" y1="3116.2" x2="1268.2" y2="2797.6" stroke="#000" stroke-width="6" stroke-dasharray="20.8 13.86" stroke-dashoffset="13.4"/>
<line x1="1602.6" y1="2478.8" x2="1602.6" y2="2797.6" stroke="#000" stroke-width="6" stroke-dasharray="20.8 13.86" stroke-dashoffset="13.4"/>
<line x1="1602.6" y1="3116.2" x2="1602.6" y2="2797.6" stroke="#000" stroke-width="6" stroke-dasharray="20.8 13.86" stroke-dashoffset="13.4"/>
<path d="M277.5 2797.8 L279.0 2797.8 L280.5 2797.8 L282.0 2797.8 L283.5 2797.8 L285.0 2797.8 L286.5 2797.8 L288.0 2797.8 L289.5 2797.8 L291.0 2797.8 L292.5 2797.8 L294.0 2797.8 L295.5 2797.8 L297.0 2797.8 L298.5 2797.8 L300.0 2797.8 L301.5 2797.8 L303.0 2797.8 L304.5 2797.8 L306.0 2797.8 L307.5 2797.8 L309.0 2797.8 L310.5 2797.8 L312.0 2797.8 L313.5 2797.8 L315.0 2797.8 L316.5 2797.8 L318.0 2797.8 L319.5 2797.8 L321.0 2797.8 L322.5 2797.8 L324.0 2797.8 L325.5 2797.8 L327.0 2797.8 L328.5 2797.8 L330.0 2797.8 L331.5 2797.8 L333.0 2797.8 L334.5 2797.8 L336.0 2797.8 L337.5 2797.8 L339.0 2797.8 L340.5 2797.8 L342.0 2797.8 L343.5 2797.8 L345.0 2797.8 L346.5 2797.8 L348.0 2797.8 L349.5 2797.8 L351.0 2797.8 L352.5 2797.8 L354.0 2797.8 L355.5 2797.8 L357.0 2797.8 L358.5 2797.8 L360.0 2797.8 L361.5 2797.8 L363.0 2797.8 L364.5 2797.8 L366.0 2797.8 L367.5 2797.8 L369.0 2797.8 L370.6 2797.8 L372.1 2797.8 L373.6 2797.8 L375.1 2797.8 L376.6 2797.8 L378.1 2797.8 L379.6 2797.8 L381.1 2797.8 L382.6 2797.8 L384.1 2797.8 L385.6 2797.8 L387.1 2797.8 L388.6 2797.8 L390.1 2797.8 L391.6 2797.8 L393.1 2797.8 L394.6 2797.8 L396.1 2797.8 L397.6 2797.8 L399.1 2797.8 L400.6 2797.8 L402.1 2797.8 L403.6 2797.8 L405.1 2797.8 L406.6 2797.8 L408.1 2797.8 L409.6 2797.8 L411.1 2797.8 L412.6 2797.8 L414.1 2797.8 L415.6 2797.8 L417.1 2797.8 L418.6 2797.8 L420.1 2797.8 L421.6 2797.8 L423.1 2797.8 L424.6 2797.8 L426.1 2797.8 L427.6 2797.8 L429.1 2797.8 L430.6 2797.8 L432.1 2797.8 L433.6 2797.8 L435.1 2797.8 L436.6 2797.8 L438.1 2797.8 L439.6 2797.8 L441.1 2797.8 L442.6 2797.8 L444.1 2797.8 L445.6 2797.8 L447.1 2797.8 L448.6 2797.8 L450.1 2797.8 L451.6 2797.8 L453.1 2797.8 L454.6 2797.8 L456.1 2797.8 L457.6 2797.8 L459.1 2797.8 L460.6 2797.8 L462.1 2797.8 L463.6 2797.8 L465.1 2797.8 L466.6 2797.8 L468.1 2797.8 L469.6 2797.8 L471.1 2797.8 L472.6 2797.8 L474.1 2797.8 L475.6 2797.8 L477.1 2797.8 L478.6 2797.8 L480.1 2797.8 L481.6 2797.8 L483.1 2797.8 L484.6 2797.8 L486.1 2797.8 L487.6 2797.8 L489.1 2797.8 L490.6 2797.8 L492.1 2797.8 L493.6 2797.8 L495.1 2797.8 L496.6 2797.8 L498.1 2797.8 L499.6 2797.8 L501.1 2797.8 L502.6 2797.8 L504.1 2797.8 L505.6 2797.8 L507.1 2797.8 L508.6 2797.8 L510.1 2797.8 L511.6 2797.8 L513.1 2797.8 L514.6 2797.8 L516.1 2797.8 L517.6 2797.8 L519.1 2797.8 L520.6 2797.8 L522.1 2797.8 L523.6 2797.8 L525.1 2797.8 L526.6 2797.8 L528.1 2797.8 L529.6 2797.8 L531.1 2797.8 L532.6 2797.8 L534.1 2797.8 L535.6 2797.8 L537.1 2797.8 L538.6 2797.8 L540.1 2797.8 L541.6 2797.8 L543.1 2797.8 L544.6 2797.8 L546.1 2797.8 L547.6 2797.8 L549.1 2797.8 L550.6 2797.8 L552.1 2797.8 L553.6 2797.8 L555.1 2797.8 L556.7 2797.8 L558.2 2797.8 L559.7 2797.8 L561.2 2797.8 L562.7 2797.8 L564.2 2797.8 L565.7 2797.8 L567.2 2797.8 L568.7 2797.8 L570.2 2797.8 L571.7 2797.8 L573.2 2797.8 L574.7 2797.8 L576.2 2797.8 L577.7 2797.8 L579.2 2797.9 L580.7 2797.9 L582.2 2797.8 L583.7 2797.8 L585.2 2797.8 L586.7 2797.8 L588.2 2797.8 L589.7 2797.7 L591.2 2797.7 L592.7 2797.7 L594.2 2797.7 L595.7 2797.6 L597.2 2797.6 L598.7 2797.6 L600.2 2797.5 L601.7 2797.5 L603.2 2797.5 L604.7 2797.4 L606.2 2797.4 L607.7 2797.4 L609.2 2797.4 L610.7 2797.3 L612.2 2797.3 L613.7 2797.3 L615.2 2797.3 L616.7 2797.2 L618.2 2797.2 L619.7 2797.2 L621.2 2797.2 L622.7 2797.1 L624.2 2797.1 L625.7 2797.1 L627.2 2797.1 L628.7 2797.0 L630.2 2797.0 L631.7 2797.0 L633.2 2797.0 L634.7 2796.9 L636.2 2796.9 L637.7 2796.9 L639.2 2796.9 L640.7 2796.9 L642.2 2796.8 L643.7 2796.8 L645.2 2796.8 L646.7 2796.8 L648.2 2796.7 L649.7 2796.7 L651.2 2796.7 L652.7 2796.6 L654.2 2796.6 L655.7 2796.6 L657.2 2796.5 L658.7 2796.5 L660.2 2796.4 L661.7 2796.4 L663.2 2796.3 L664.7 2796.3 L666.2 2796.2 L667.7 2796.2 L669.2 2796.1 L670.7 2796.1 L672.2 2796.0 L673.7 2795.9 L675.2 2795.9 L676.7 2795.8 L678.2 2795.8 L679.7 2795.7 L681.2 2795.6 L682.7 2795.6 L684.2 2795.5 L685.7 2795.4 L687.2 2795.3 L688.7 2795.2 L690.2 2795.0 L691.7 2794.8 L693.2 2794.7 L694.7 2794.5 L696.2 2794.4 L697.7 2794.3 L699.2 2794.3 L700.7 2794.4 L702.2 2794.5 L703.7 2794.8 L705.2 2795.1 L706.7 2795.4 L708.2 2795.7 L709.7 2796.0 L711.2 2796.3 L712.7 2796.6 L714.2 2796.8 L715.7 2797.0 L717.2 2797.2 L718.7 2797.3 L720.2 2797.5 L721.7 2797.6 L723.2 2797.8 L724.7 2797.8 L726.2 2797.9 L727.7 2797.9 L729.2 2797.8 L730.7 2797.6 L732.2 2797.4 L733.7 2797.2 L735.2 2796.9 L736.7 2796.6 L738.2 2796.2 L739.7 2795.9 L741.2 2795.6 L742.8 2795.3 L744.3 2794.9 L745.8 2794.5 L747.3 2794.0 L748.8 2793.6 L750.3 2793.3 L751.8 2793.1 L753.3 2793.2 L754.8 2793.5 L756.3 2794.1 L757.8 2794.9 L759.3 2795.7 L760.8 2796.6 L762.3 2797.5 L763.8 2798.5 L765.3 2799.6 L766.8 2800.9 L768.3 2802.1 L769.8 2803.3 L771.3 2804.4 L772.8 2805.8 L774.3 2807.2 L775.8 2808.6 L777.3 2809.8 L778.8 2810.6 L780.3 2811.0 L781.8 2810.4 L783.3 2808.9 L784.8 2806.8 L786.3 2804.3 L787.8 2801.7 L789.3 2799.4 L790.8 2797.2 L792.3 2794.8 L793.8 2792.3 L795.3 2789.8 L796.8 2787.5 L798.3 2785.6 L799.8 2784.1 L801.3 2782.9 L802.8 2782.3 L804.3 2782.2 L805.8 2782.8 L807.3 2784.0 L808.8 2785.6 L810.3 2787.6 L811.8 2789.7 L813.3 2791.8 L814.8 2794.2 L816.3 2797.0 L817.8 2799.8 L819.3 2802.3 L820.8 2804.1 L822.3 2805.5 L823.8 2806.6 L825.3 2807.3 L826.8 2807.5 L828.3 2807.2 L829.8 2806.3 L831.3 2805.1 L832.8 2803.6 L834.3 2801.9 L835.8 2800.1 L837.3 2797.7 L838.8 2795.0 L840.3 2792.6 L841.8 2790.8 L843.3 2789.6 L844.8 2788.5 L846.3 2787.8 L847.8 2787.5 L849.3 2787.7 L850.8 2788.3 L852.3 2789.1 L853.8 2790.2 L855.3 2791.4 L856.8 2792.7 L858.3 2794.1 L859.8 2795.6 L861.3 2797.5 L862.8 2799.5 L864.3 2801.3 L865.8 2802.7 L867.3 2803.6 L868.8 2804.0 L870.3 2803.9 L871.8 2803.0 L873.3 2801.7 L874.8 2800.0 L876.3 2798.2 L877.8 2796.4 L879.3 2794.4 L880.8 2792.2 L882.3 2790.0 L883.8 2788.1 L885.3 2786.7 L886.8 2785.6 L888.3 2785.0 L889.8 2784.7 L891.3 2785.0 L892.8 2785.9 L894.3 2787.4 L895.8 2789.4 L897.3 2791.7 L898.8 2794.0 L900.3 2796.4 L901.8 2799.1 L903.3 2801.9 L904.8 2804.4 L906.3 2806.4 L907.8 2807.9 L909.3 2809.1 L910.8 2809.8 L912.3 2809.7 L913.8 2808.8 L915.3 2807.3 L916.8 2805.5 L918.3 2803.5 L919.8 2801.2 L921.3 2798.6 L922.8 2795.9 L924.3 2793.3 L925.8 2790.9 L927.3 2788.2 L928.9 2785.6 L930.4 2783.5 L931.9 2782.4 L933.4 2782.9 L934.9 2784.9 L936.4 2787.9 L937.9 2791.5 L939.4 2795.1 L940.9 2798.1 L942.4 2800.4 L943.9 2802.8 L945.4 2805.0 L946.9 2806.9 L948.4 2808.1 L949.9 2808.6 L951.4 2807.9 L952.9 2806.2 L954.4 2803.8 L955.9 2801.0 L957.4 2798.0 L958.9 2795.1 L960.4 2791.5 L961.9 2787.6 L963.4 2783.8 L964.9 2780.6 L966.4 2778.4 L967.9 2777.0 L969.4 2776.3 L970.9 2776.3 L972.4 2777.3 L973.9 2779.4 L975.4 2782.5 L976.9 2786.4 L978.4 2790.7 L979.9 2795.5 L981.4 2802.3 L982.9 2810.4 L984.4 2818.3 L985.9 2824.2 L987.4 2829.1 L988.9 2833.2 L990.4 2836.1 L991.9 2837.3 L993.4 2835.9 L994.9 2832.3 L996.4 2827.0 L997.9 2820.3 L999.4 2809.7 L1000.9 2796.9 L1002.4 2785.4 L1003.9 2774.6 L1005.4 2764.4 L1006.9 2756.2 L1008.4 2750.0 L1009.9 2744.9 L1011.4 2741.2 L1012.9 2739.1 L1014.4 2738.3 L1015.9 2739.5 L1017.4 2743.5 L1018.9 2749.5 L1020.4 2759.2 L1021.9 2772.2 L1023.4 2785.7 L1024.9 2798.9 L1026.4 2812.7 L1027.9 2824.8 L1029.4 2834.0 L1030.9 2841.8 L1032.4 2847.5 L1033.9 2850.4 L1035.4 2851.5 L1036.9 2850.5 L1038.4 2847.5 L1039.9 2843.0 L1041.4 2836.6 L1042.9 2827.5 L1044.4 2817.2 L1045.9 2807.0 L1047.4 2795.6 L1048.9 2784.9 L1050.4 2776.7 L1051.9 2769.8 L1053.4 2764.5 L1054.9 2761.6 L1056.4 2760.0 L1057.9 2759.7 L1059.4 2760.8 L1060.9 2762.7 L1062.4 2765.0 L1063.9 2767.8 L1065.4 2770.9 L1066.9 2774.6 L1068.4 2778.9 L1069.9 2783.8 L1071.4 2788.8 L1072.9 2793.8 L1074.4 2799.6 L1075.9 2805.6 L1077.4 2810.9 L1078.9 2814.6 L1080.4 2817.6 L1081.9 2820.0 L1083.4 2821.7 L1084.9 2822.7 L1086.4 2822.7 L1087.9 2821.6 L1089.4 2819.6 L1090.9 2816.8 L1092.4 2812.8 L1093.9 2806.6 L1095.4 2799.5 L1096.9 2793.3 L1098.4 2788.7 L1099.9 2784.5 L1101.4 2781.7 L1102.9 2781.1 L1104.4 2781.6 L1105.9 2782.6 L1107.4 2784.1 L1108.9 2785.9 L1110.4 2788.5 L1111.9 2791.5 L1113.5 2794.5 L1115.0 2797.0 L1116.5 2798.7 L1118.0 2799.0 L1119.5 2798.1 L1121.0 2796.5 L1122.5 2794.5 L1124.0 2792.7 L1125.5 2791.2 L1127.0 2789.6 L1128.5 2788.1 L1130.0 2787.2 L1131.5 2787.4 L1133.0 2789.0 L1134.5 2791.2 L1136.0 2793.5 L1137.5 2795.2 L1139.0 2796.9 L1140.5 2798.3 L1142.0 2799.1 L1143.5 2798.5 L1145.0 2796.4 L1146.5 2793.4 L1148.0 2790.5 L1149.5 2788.2 L1151.0 2786.1 L1152.5 2784.8 L1154.0 2785.4 L1155.5 2789.3 L1157.0 2795.0 L1158.5 2800.3 L1160.0 2806.0 L1161.5 2811.6 L1163.0 2816.0 L1164.5 2819.4 L1166.0 2822.0 L1167.5 2823.7 L1169.0 2824.0 L1170.5 2822.7 L1172.0 2820.1 L1173.5 2816.6 L1175.0 2812.7 L1176.5 2807.8 L1178.0 2801.9 L1179.5 2795.7 L1181.0 2790.0 L1182.5 2785.5 L1184.0 2781.2 L1185.5 2777.2 L1187.0 2774.0 L1188.5 2772.0 L1190.0 2771.5 L1191.5 2771.9 L1193.0 2773.2 L1194.5 2775.0 L1196.0 2777.4 L1197.5 2780.2 L1199.0 2783.6 L1200.5 2787.5 L1202.0 2791.8 L1203.5 2796.2 L1205.0 2800.4 L1206.5 2804.7 L1208.0 2809.1 L1209.5 2813.3 L1211.0 2817.0 L1212.5 2820.5 L1214.0 2823.5 L1215.5 2825.7 L1217.0 2826.5 L1218.5 2825.2 L1220.0 2822.2 L1221.5 2818.2 L1223.0 2813.7 L1224.5 2807.4 L1226.0 2800.1 L1227.5 2792.9 L1229.0 2786.9 L1230.5 2781.0 L1232.0 2775.5 L1233.5 2771.0 L1235.0 2767.9 L1236.5 2765.4 L1238.0 2763.7 L1239.5 2763.1 L1241.0 2764.0 L1242.5 2765.9 L1244.0 2768.6 L1245.5 2771.5 L1247.0 2774.6 L1248.5 2778.2 L1250.0 2782.0 L1251.5 2785.7 L1253.0 2788.9 L1254.5 2791.7 L1256.0 2794.4 L1257.5 2796.9 L1259.0 2798.9 L1260.5 2800.3 L1262.0 2801.4 L1263.5 2802.3 L1265.0 2802.8 L1266.5 2802.6 L1268.0 2801.8 L1269.5 2800.9 L1271.0 2799.8 L1272.5 2798.6 L1274.0 2797.5 L1275.5 2796.5 L1277.0 2795.5 L1278.5 2794.3 L1280.0 2793.1 L1281.5 2791.1 L1283.0 2788.9 L1284.5 2788.0 L1286.0 2787.5 L1287.5 2787.1 L1289.0 2786.7 L1290.5 2786.4 L1292.0 2786.2 L1293.5 2785.9 L1295.0 2785.7 L1296.5 2785.5 L1298.0 2785.3 L1299.6 2785.2 L1301.1 2785.2 L1302.6 2785.5 L1304.1 2786.7 L1305.6 2788.6 L1307.1 2791.0 L1308.6 2793.7 L1310.1 2797.1 L1311.6 2801.0 L1313.1 2804.9 L1314.6 2808.7 L1316.1 2812.6 L1317.6 2816.4 L1319.1 2819.7 L1320.6 2822.1 L1322.1 2824.3 L1323.6 2826.1 L1325.1 2827.6 L1326.6 2828.7 L1328.1 2829.7 L1329.6 2830.3 L1331.1 2830.2 L1332.6 2829.0 L1334.1 2826.8 L1335.6 2824.0 L1337.1 2821.0 L1338.6 2818.1 L1340.1 2814.8 L1341.6 2811.6 L1343.1 2808.9 L1344.6 2806.9 L1346.1 2805.1 L1347.6 2803.6 L1349.1 2802.3 L1350.6 2801.4 L1352.1 2800.6 L1353.6 2799.9 L1355.1 2799.4 L1356.6 2799.1 L1358.1 2799.1 L1359.6 2799.5 L1361.1 2800.4 L1362.6 2801.6 L1364.1 2803.1 L1365.6 2804.9 L1367.1 2807.7 L1368.6 2811.0 L1370.1 2814.4 L1371.6 2817.5 L1373.1 2820.2 L1374.6 2822.8 L1376.1 2825.2 L1377.6 2827.3 L1379.1 2828.8 L1380.6 2830.0 L1382.1 2831.0 L1383.6 2831.9 L1385.1 2832.7 L1386.6 2833.2 L1388.1 2833.5 L1389.6 2833.5 L1391.1 2833.2 L1392.6 2832.4 L1394.1 2831.4 L1395.6 2830.1 L1397.1 2828.1 L1398.6 2825.0 L1400.1 2821.4 L1401.6 2818.0 L1403.1 2815.3 L1404.6 2813.1 L1406.1 2811.0 L1407.6 2809.1 L1409.1 2807.2 L1410.6 2805.6 L1412.1 2804.1 L1413.6 2802.7 L1415.1 2801.3 L1416.6 2800.0 L1418.1 2799.0 L1419.6 2798.2 L1421.1 2797.9 L1422.6 2798.0 L1424.1 2799.1 L1425.6 2800.9 L1427.1 2803.1 L1428.6 2805.5 L1430.1 2808.1 L1431.6 2811.1 L1433.1 2814.4 L1434.6 2817.6 L1436.1 2820.4 L1437.6 2822.7 L1439.1 2824.8 L1440.6 2826.8 L1442.1 2828.6 L1443.6 2830.3 L1445.1 2832.1 L1446.6 2833.7 L1448.1 2835.2 L1449.6 2836.5 L1451.1 2837.5 L1452.6 2837.7 L1454.1 2837.1 L1455.6 2835.7 L1457.1 2833.5 L1458.6 2829.2 L1460.1 2823.6 L1461.6 2818.1 L1463.1 2813.5 L1464.6 2809.3 L1466.1 2805.3 L1467.6 2801.3 L1469.1 2797.6 L1470.6 2794.2 L1472.1 2791.5 L1473.6 2788.9 L1475.1 2786.0 L1476.6 2782.4 L1478.1 2776.6 L1479.6 2769.0 L1481.1 2762.9 L1482.6 2760.1 L1484.1 2759.5 L1485.7 2760.5 L1487.2 2764.5 L1488.7 2770.9 L1490.2 2782.5 L1491.7 2798.5 L1493.2 2815.8 L1494.7 2835.0 L1496.2 2850.8 L1497.7 2863.5 L1499.2 2872.4 L1500.7 2877.1 L1502.2 2880.2 L1503.7 2881.2 L1505.2 2878.7 L1506.7 2873.0 L1508.2 2864.0 L1509.7 2845.3 L1511.2 2823.2 L1512.7 2800.5 L1514.2 2777.9 L1515.7 2760.5 L1517.2 2746.4 L1518.7 2738.3 L1520.2 2733.9 L1521.7 2734.4 L1523.2 2739.2 L1524.7 2746.3 L1526.2 2755.9 L1527.7 2766.5 L1529.2 2775.9 L1530.7 2784.1 L1532.2 2791.8 L1533.7 2798.6 L1535.2 2804.4 L1536.7 2809.6 L1538.2 2814.4 L1539.7 2818.3 L1541.2 2820.8 L1542.7 2822.3 L1544.2 2822.8 L1545.7 2821.7 L1547.2 2818.9 L1548.7 2815.1 L1550.2 2810.8 L1551.7 2806.6 L1553.2 2803.1 L1554.7 2800.0 L1556.2 2796.9 L1557.7 2794.1 L1559.2 2791.7 L1560.7 2789.9 L1562.2 2788.3 L1563.7 2786.8 L1565.2 2785.6 L1566.7 2784.9 L1568.2 2784.6 L1569.7 2784.3 L1571.2 2784.0 L1572.7 2783.8 L1574.2 2783.6 L1575.7 2783.6 L1577.2 2783.6 L1578.7 2783.6 L1580.2 2783.7 L1581.7 2783.8 L1583.2 2784.0 L1584.7 2784.1 L1586.2 2784.3 L1587.7 2784.6 L1589.2 2784.9 L1590.7 2785.5 L1592.2 2786.2 L1593.7 2787.0 L1595.2 2787.8 L1596.7 2788.5 L1598.2 2789.1 L1599.7 2789.5 L1601.2 2790.0 L1602.7 2790.3 L1604.2 2790.7 L1605.7 2791.1 L1607.2 2791.4 L1608.7 2791.7 L1610.2 2791.9 L1611.7 2792.2 L1613.2 2792.4 L1614.7 2792.7 L1616.2 2792.9 L1617.7 2793.1 L1619.2 2793.3 L1620.7 2793.5 L1622.2 2793.7 L1623.7 2793.9 L1625.2 2794.1 L1626.7 2794.3 L1628.2 2794.4 L1629.7 2794.6 L1631.2 2794.8 L1632.7 2794.9 L1634.2 2795.1 L1635.7 2795.2 L1637.2 2795.3 L1638.7 2795.4 L1640.2 2795.5 L1641.7 2795.6 L1643.2 2795.7 L1644.7 2795.8 L1646.2 2795.9 L1647.7 2796.0 L1649.2 2796.1 L1650.7 2796.2 L1652.2 2796.3 L1653.7 2796.3 L1655.2 2796.4 L1656.7 2796.5 L1658.2 2796.6 L1659.7 2796.7 L1661.2 2796.7 L1662.7 2796.8 L1664.2 2796.9 L1665.7 2796.9 L1667.2 2797.0 L1668.7 2797.0 L1670.2 2797.1 L1671.8 2797.1 L1673.3 2797.1 L1674.8 2797.1 L1676.3 2797.2 L1677.8 2797.2 L1679.3 2797.2 L1680.8 2797.2 L1682.3 2797.2 L1683.8 2797.2 L1685.3 2797.2 L1686.8 2797.2 L1688.3 2797.2 L1689.8 2797.2 L1691.3 2797.3 L1692.8 2797.3 L1694.3 2797.3 L1695.8 2797.3 L1697.3 2797.3 L1698.8 2797.3 L1700.3 2797.3 L1701.8 2797.3 L1703.3 2797.3 L1704.8 2797.3 L1706.3 2797.3 L1707.8 2797.4 L1709.3 2797.4 L1710.8 2797.4 L1712.3 2797.4 L1713.8 2797.4 L1715.3 2797.4 L1716.8 2797.4 L1718.3 2797.4 L1719.8 2797.4 L1721.3 2797.4 L1722.8 2797.5 L1724.3 2797.5 L1725.8 2797.5 L1727.3 2797.5 L1728.8 2797.5 L1730.3 2797.5 L1731.8 2797.5 L1733.3 2797.5 L1734.8 2797.6 L1736.3 2797.6 L1737.8 2797.6 L1739.3 2797.6 L1740.8 2797.6 L1742.3 2797.6 L1743.8 2797.6 L1745.3 2797.6 L1746.8 2797.6 L1748.3 2797.6 L1749.8 2797.6 L1751.3 2797.6 L1752.8 2797.6 L1754.3 2797.6 L1755.8 2797.6 L1757.3 2797.6 L1758.8 2797.6 L1760.3 2797.6 L1761.8 2797.6 L1763.3 2797.6 L1764.8 2797.6 L1766.3 2797.6 L1767.8 2797.6 L1769.3 2797.6 L1770.8 2797.6 L1772.3 2797.6 L1773.8 2797.6 L1775.3 2797.6 L1776.8 2797.6 L1778.3 2797.6 L1779.8 2797.6 L1781.3 2797.6 L1782.8 2797.6 L1784.3 2797.6 L1785.8 2797.6 L1787.3 2797.6 L1788.8 2797.6 L1790.3 2797.6 L1791.8 2797.6 L1793.3 2797.6 L1794.8 2797.6 L1796.3 2797.6 L1797.8 2797.6 L1799.3 2797.6 L1800.8 2797.6 L1802.3 2797.6 L1803.8 2797.6 L1805.3 2797.6 L1806.8 2797.6 L1808.3 2797.6 L1809.8 2797.6 L1811.3 2797.6 L1812.8 2797.6 L1814.3 2797.6 L1815.8 2797.6 L1817.3 2797.6 L1818.8 2797.6 L1820.3 2797.6 L1821.8 2797.6 L1823.3 2797.6 L1824.8 2797.6 L1826.3 2797.6 L1827.8 2797.6 L1829.3 2797.6 L1830.8 2797.6 L1832.3 2797.6 L1833.8 2797.6 L1835.3 2797.6 L1836.8 2797.6 L1838.3 2797.6 L1839.8 2797.6 L1841.3 2797.6 L1842.8 2797.6 L1844.3 2797.6 L1845.8 2797.6 L1847.3 2797.6 L1848.8 2797.6 L1850.3 2797.6 L1851.8 2797.6 L1853.3 2797.6 L1854.8 2797.6 L1856.4 2797.6 L1857.9 2797.6 L1859.4 2797.6 L1860.9 2797.6 L1862.4 2797.6 L1863.9 2797.6 L1865.4 2797.6 L1866.9 2797.6 L1868.4 2797.6 L1869.9 2797.6 L1871.4 2797.6 L1872.9 2797.6 L1874.4 2797.6 L1875.9 2797.6 L1877.4 2797.6 L1878.9 2797.6 L1880.4 2797.6 L1881.9 2797.6 L1883.4 2797.6 L1884.9 2797.6 L1886.4 2797.6 L1887.9 2797.6 L1889.4 2797.6 L1890.9 2797.6 L1892.4 2797.6 L1893.9 2797.6 L1895.4 2797.6 L1896.9 2797.6 L1898.4 2797.6 L1899.9 2797.6 L1901.4 2797.6 L1902.9 2797.6 L1904.4 2797.6 L1905.9 2797.6 L1907.4 2797.6 L1908.9 2797.6 L1910.4 2797.6 L1911.9 2797.6 L1913.4 2797.6 L1914.9 2797.6 L1916.4 2797.6 L1917.9 2797.6 L1919.4 2797.6 L1920.9 2797.6 L1922.4 2797.6 L1923.9 2797.6 L1925.4 2797.6 L1926.9 2797.6 L1928.4 2797.6 L1929.9 2797.6 L1931.4 2797.6 L1932.9 2797.6 L1934.4 2797.6 L1935.9 2797.6 L1937.4 2797.6 L1938.9 2797.6 L1940.4 2797.6 L1941.9 2797.6 L1943.4 2797.6 L1944.9 2797.6 L1946.4 2797.6 L1947.9 2797.6 L1949.4 2797.6 L1950.9 2797.6 L1952.4 2797.6 L1953.9 2797.7 L1955.4 2797.7 L1956.9 2797.7 L1958.4 2797.7 L1959.9 2797.7 L1961.4 2797.7 L1962.9 2797.7 L1964.4 2797.7 L1965.9 2797.7 L1967.4 2797.7 L1968.9 2797.7 L1970.4 2797.7 L1971.9 2797.7 L1973.4 2797.7 L1974.9 2797.7 L1976.4 2797.7 L1977.9 2797.7 L1979.4 2797.7 L1980.9 2797.7 L1982.4 2797.8 L1983.9 2797.8 L1985.4 2797.8 L1986.9 2797.8 L1988.4 2797.8 L1989.9 2797.8 L1991.4 2797.8 L1992.9 2797.8 L1994.4 2797.8 L1995.9 2797.8 L1997.4 2797.8 L1998.9 2797.8 L2000.4 2797.8 L2001.9 2797.8 L2003.4 2797.8 L2004.9 2797.8 L2006.4 2797.8 L2007.9 2797.8 L2009.4 2797.8 L2010.9 2797.8 L2012.4 2797.8 L2013.9 2797.9 L2015.4 2797.9 L2016.9 2797.9 L2018.4 2797.9 L2019.9 2797.9 L2021.4 2797.9 L2022.9 2797.9 L2024.4 2797.9 L2025.9 2797.9 L2027.4 2797.9 L2028.9 2797.9 L2030.4 2797.9 L2031.9 2797.9 L2033.4 2797.9 L2034.9 2797.9 L2036.4 2797.9 L2037.9 2797.9 L2039.4 2797.9 L2040.9 2797.9 L2042.5 2797.9 L2044.0 2797.9 L2045.5 2798.0 L2047.0 2798.0 L2048.5 2798.0 L2050.0 2798.0 L2051.5 2798.0 L2053.0 2798.0 L2054.5 2798.0 L2056.0 2798.0 L2057.5 2798.0 L2059.0 2798.0 L2060.5 2798.0 L2062.0 2798.0 L2063.5 2798.0 L2065.0 2798.0 L2066.5 2798.0 L2068.0 2798.0 L2069.5 2798.0 L2071.0 2798.0 L2072.5 2798.0 L2074.0 2798.0 L2075.5 2798.0 L2077.0 2798.1 L2078.5 2798.1 L2080.0 2798.1 L2081.5 2798.1 L2083.0 2798.1 L2084.5 2798.1 L2086.0 2798.1 L2087.5 2798.1 L2089.0 2798.1 L2090.5 2798.1" fill="none" stroke="#00b050" stroke-width="7.0" stroke-linejoin="round" stroke-linecap="round"/>
<path d="M277.5 2798.3 L279.0 2798.3 L280.5 2798.3 L282.0 2798.3 L283.5 2798.3 L285.0 2798.3 L286.5 2798.3 L288.0 2798.3 L289.5 2798.3 L291.0 2798.3 L292.5 2798.3 L294.0 2798.3 L295.5 2798.3 L297.0 2798.3 L298.5 2798.3 L300.0 2798.3 L301.5 2798.3 L303.0 2798.3 L304.5 2798.3 L306.0 2798.3 L307.5 2798.3 L309.0 2798.3 L310.5 2798.3 L312.0 2798.3 L313.5 2798.3 L315.0 2798.3 L316.5 2798.3 L318.0 2798.3 L319.5 2798.3 L321.0 2798.3 L322.5 2798.3 L324.0 2798.3 L325.5 2798.3 L327.0 2798.3 L328.5 2798.3 L330.0 2798.3 L331.5 2798.3 L333.0 2798.3 L334.5 2798.3 L336.0 2798.3 L337.5 2798.3 L339.0 2798.3 L340.5 2798.3 L342.0 2798.3 L343.5 2798.3 L345.0 2798.3 L346.5 2798.3 L348.0 2798.3 L349.5 2798.3 L351.0 2798.3 L352.5 2798.3 L354.0 2798.3 L355.5 2798.3 L357.0 2798.3 L358.5 2798.3 L360.0 2798.3 L361.5 2798.3 L363.0 2798.3 L364.5 2798.3 L366.0 2798.3 L367.5 2798.3 L369.0 2798.3 L370.6 2798.3 L372.1 2798.3 L373.6 2798.3 L375.1 2798.3 L376.6 2798.3 L378.1 2798.3 L379.6 2798.3 L381.1 2798.3 L382.6 2798.3 L384.1 2798.3 L385.6 2798.3 L387.1 2798.3 L388.6 2798.3 L390.1 2798.3 L391.6 2798.3 L393.1 2798.3 L394.6 2798.3 L396.1 2798.3 L397.6 2798.3 L399.1 2798.3 L400.6 2798.3 L402.1 2798.3 L403.6 2798.3 L405.1 2798.3 L406.6 2798.3 L408.1 2798.3 L409.6 2798.3 L411.1 2798.3 L412.6 2798.3 L414.1 2798.3 L415.6 2798.3 L417.1 2798.3 L418.6 2798.3 L420.1 2798.3 L421.6 2798.3 L423.1 2798.3 L424.6 2798.3 L426.1 2798.3 L427.6 2798.3 L429.1 2798.3 L430.6 2798.3 L432.1 2798.3 L433.6 2798.3 L435.1 2798.3 L436.6 2798.3 L438.1 2798.3 L439.6 2798.3 L441.1 2798.3 L442.6 2798.3 L444.1 2798.3 L445.6 2798.3 L447.1 2798.3 L448.6 2798.3 L450.1 2798.3 L451.6 2798.3 L453.1 2798.3 L454.6 2798.3 L456.1 2798.3 L457.6 2798.3 L459.1 2798.3 L460.6 2798.3 L462.1 2798.3 L463.6 2798.3 L465.1 2798.3 L466.6 2798.3 L468.1 2798.3 L469.6 2798.3 L471.1 2798.3 L472.6 2798.3 L474.1 2798.3 L475.6 2798.3 L477.1 2798.3 L478.6 2798.3 L480.1 2798.3 L481.6 2798.3 L483.1 2798.3 L484.6 2798.3 L486.1 2798.3 L487.6 2798.3 L489.1 2798.3 L490.6 2798.3 L492.1 2798.3 L493.6 2798.3 L495.1 2798.3 L496.6 2798.3 L498.1 2798.3 L499.6 2798.3 L501.1 2798.3 L502.6 2798.3 L504.1 2798.3 L505.6 2798.3 L507.1 2798.3 L508.6 2798.3 L510.1 2798.3 L511.6 2798.3 L513.1 2798.3 L514.6 2798.3 L516.1 2798.3 L517.6 2798.3 L519.1 2798.3 L520.6 2798.3 L522.1 2798.3 L523.6 2798.3 L525.1 2798.3 L526.6 2798.3 L528.1 2798.3 L529.6 2798.3 L531.1 2798.3 L532.6 2798.3 L534.1 2798.3 L535.6 2798.3 L537.1 2798.3 L538.6 2798.3 L540.1 2798.3 L541.6 2798.3 L543.1 2798.3 L544.6 2798.3 L546.1 2798.3 L547.6 2798.3 L549.1 2798.3 L550.6 2798.3 L552.1 2798.3 L553.6 2798.3 L555.1 2798.3 L556.7 2798.3 L558.2 2798.3 L559.7 2798.3 L561.2 2798.3 L562.7 2798.3 L564.2 2798.3 L565.7 2798.3 L567.2 2798.3 L568.7 2798.3 L570.2 2798.3 L571.7 2798.3 L573.2 2798.3 L574.7 2798.3 L576.2 2798.2 L577.7 2798.0 L579.2 2797.9 L580.7 2797.8 L582.2 2797.8 L583.7 2797.8 L585.2 2797.7 L586.7 2797.7 L588.2 2797.7 L589.7 2797.6 L591.2 2797.6 L592.7 2797.6 L594.2 2797.6 L595.7 2797.5 L597.2 2797.5 L598.7 2797.5 L600.2 2797.5 L601.7 2797.4 L603.2 2797.4 L604.7 2797.4 L606.2 2797.4 L607.7 2797.4 L609.2 2797.4 L610.7 2797.4 L612.2 2797.4 L613.7 2797.4 L615.2 2797.4 L616.7 2797.4 L618.2 2797.4 L619.7 2797.4 L621.2 2797.4 L622.7 2797.4 L624.2 2797.5 L625.7 2797.5 L627.2 2797.5 L628.7 2797.5 L630.2 2797.5 L631.7 2797.6 L633.2 2797.6 L634.7 2797.6 L636.2 2797.6 L637.7 2797.7 L639.2 2797.7 L640.7 2797.7 L642.2 2797.7 L643.7 2797.8 L645.2 2797.8 L646.7 2797.8 L648.2 2797.8 L649.7 2797.8 L651.2 2797.9 L652.7 2797.9 L654.2 2797.9 L655.7 2797.8 L657.2 2797.8 L658.7 2797.7 L660.2 2797.7 L661.7 2797.6 L663.2 2797.6 L664.7 2797.5 L666.2 2797.4 L667.7 2797.3 L669.2 2797.2 L670.7 2797.1 L672.2 2797.1 L673.7 2797.0 L675.2 2796.9 L676.7 2796.8 L678.2 2796.8 L679.7 2796.7 L681.2 2796.7 L682.7 2796.7 L684.2 2796.6 L685.7 2796.7 L687.2 2796.7 L688.7 2796.7 L690.2 2796.8 L691.7 2797.0 L693.2 2797.2 L694.7 2797.5 L696.2 2797.7 L697.7 2798.0 L699.2 2798.3 L700.7 2798.5 L702.2 2798.8 L703.7 2799.0 L705.2 2799.3 L706.7 2799.5 L708.2 2799.7 L709.7 2800.0 L711.2 2800.2 L712.7 2800.4 L714.2 2800.7 L715.7 2800.9 L717.2 2801.1 L718.7 2801.2 L720.2 2801.4 L721.7 2801.5 L723.2 2801.4 L724.7 2801.2 L726.2 2800.9 L727.7 2800.5 L729.2 2800.0 L730.7 2799.5 L732.2 2798.9 L733.7 2798.3 L735.2 2797.6 L736.7 2796.7 L738.2 2795.6 L739.7 2794.3 L741.2 2792.9 L742.8 2791.7 L744.3 2790.7 L745.8 2789.9 L747.3 2789.2 L748.8 2788.7 L750.3 2788.4 L751.8 2788.4 L753.3 2788.7 L754.8 2789.4 L756.3 2790.4 L757.8 2791.5 L759.3 2792.8 L760.8 2794.1 L762.3 2795.5 L763.8 2797.1 L765.3 2799.0 L766.8 2801.0 L768.3 2803.0 L769.8 2805.2 L771.3 2807.4 L772.8 2810.0 L774.3 2812.8 L775.8 2815.5 L777.3 2817.7 L778.8 2819.3 L780.3 2820.5 L781.8 2821.3 L783.3 2821.6 L784.8 2821.4 L786.3 2820.3 L787.8 2818.5 L789.3 2816.1 L790.8 2813.0 L792.3 2808.7 L793.8 2803.7 L795.3 2798.6 L796.8 2794.0 L798.3 2789.6 L799.8 2785.2 L801.3 2781.0 L802.8 2777.3 L804.3 2774.4 L805.8 2772.0 L807.3 2770.6 L808.8 2770.6 L810.3 2771.9 L811.8 2774.2 L813.3 2777.1 L814.8 2780.3 L816.3 2783.7 L817.8 2787.5 L819.3 2791.6 L820.8 2795.9 L822.3 2800.0 L823.8 2803.9 L825.3 2807.9 L826.8 2811.7 L828.3 2814.8 L829.8 2817.2 L831.3 2819.2 L832.8 2820.5 L834.3 2821.0 L835.8 2820.4 L837.3 2818.8 L838.8 2816.6 L840.3 2814.0 L841.8 2811.2 L843.3 2807.6 L844.8 2803.7 L846.3 2799.8 L847.8 2796.4 L849.3 2793.9 L850.8 2791.9 L852.3 2790.1 L853.8 2788.6 L855.3 2787.5 L856.8 2786.9 L858.3 2786.4 L859.8 2785.9 L861.3 2785.4 L862.8 2785.1 L864.3 2784.8 L865.8 2784.8 L867.3 2784.9 L868.8 2785.1 L870.3 2785.4 L871.8 2785.9 L873.3 2786.4 L874.8 2787.0 L876.3 2787.7 L877.8 2788.9 L879.3 2790.5 L880.8 2792.3 L882.3 2794.2 L883.8 2796.4 L885.3 2798.9 L886.8 2801.5 L888.3 2804.2 L889.8 2806.7 L891.3 2809.2 L892.8 2811.8 L894.3 2814.1 L895.8 2816.1 L897.3 2817.4 L898.8 2817.7 L900.3 2817.2 L901.8 2815.9 L903.3 2814.0 L904.8 2811.4 L906.3 2807.6 L907.8 2803.1 L909.3 2798.5 L910.8 2794.5 L912.3 2791.0 L913.8 2787.5 L915.3 2784.3 L916.8 2781.6 L918.3 2779.8 L919.8 2778.4 L921.3 2777.3 L922.8 2776.4 L924.3 2775.6 L925.8 2775.0 L927.3 2774.7 L928.9 2774.6 L930.4 2774.9 L931.9 2776.3 L933.4 2778.8 L934.9 2782.1 L936.4 2785.9 L937.9 2791.6 L939.4 2798.4 L940.9 2804.5 L942.4 2808.6 L943.9 2812.3 L945.4 2815.7 L946.9 2818.3 L948.4 2820.0 L949.9 2820.5 L951.4 2819.7 L952.9 2818.1 L954.4 2815.8 L955.9 2813.0 L957.4 2810.0 L958.9 2806.3 L960.4 2802.1 L961.9 2797.8 L963.4 2793.6 L964.9 2789.9 L966.4 2786.1 L967.9 2782.6 L969.4 2779.7 L970.9 2777.7 L972.4 2776.3 L973.9 2775.4 L975.4 2775.0 L976.9 2775.2 L978.4 2776.1 L979.9 2778.1 L981.4 2781.0 L982.9 2784.3 L984.4 2788.7 L985.9 2794.8 L987.4 2801.0 L988.9 2805.8 L990.4 2808.8 L991.9 2810.9 L993.4 2811.2 L994.9 2809.4 L996.4 2806.0 L997.9 2802.3 L999.4 2799.5 L1000.9 2798.0 L1002.4 2796.7 L1003.9 2795.5 L1005.4 2794.6 L1006.9 2794.2 L1008.4 2794.4 L1009.9 2794.8 L1011.4 2795.3 L1012.9 2795.8 L1014.4 2796.4 L1015.9 2796.9 L1017.4 2797.5 L1018.9 2798.0 L1020.4 2798.5 L1021.9 2798.9 L1023.4 2799.2 L1024.9 2799.1 L1026.4 2798.8 L1027.9 2798.4 L1029.4 2797.8 L1030.9 2797.1 L1032.4 2796.4 L1033.9 2795.5 L1035.4 2794.4 L1036.9 2793.2 L1038.4 2792.0 L1039.9 2790.7 L1041.4 2789.5 L1042.9 2788.3 L1044.4 2787.0 L1045.9 2785.7 L1047.4 2784.6 L1048.9 2783.8 L1050.4 2783.6 L1051.9 2784.5 L1053.4 2786.4 L1054.9 2788.8 L1056.4 2791.2 L1057.9 2793.5 L1059.4 2796.1 L1060.9 2798.9 L1062.4 2801.7 L1063.9 2804.2 L1065.4 2806.4 L1066.9 2808.4 L1068.4 2810.2 L1069.9 2811.7 L1071.4 2812.9 L1072.9 2813.5 L1074.4 2813.5 L1075.9 2813.0 L1077.4 2811.9 L1078.9 2810.4 L1080.4 2808.4 L1081.9 2805.4 L1083.4 2801.8 L1084.9 2798.1 L1086.4 2794.7 L1087.9 2791.8 L1089.4 2788.8 L1090.9 2786.1 L1092.4 2783.8 L1093.9 2782.3 L1095.4 2781.3 L1096.9 2780.5 L1098.4 2780.0 L1099.9 2779.9 L1101.4 2780.1 L1102.9 2780.7 L1104.4 2781.6 L1105.9 2782.7 L1107.4 2784.1 L1108.9 2785.8 L1110.4 2788.2 L1111.9 2791.1 L1113.5 2793.9 L1115.0 2796.3 L1116.5 2798.2 L1118.0 2799.9 L1119.5 2801.5 L1121.0 2802.8 L1122.5 2803.9 L1124.0 2804.6 L1125.5 2805.1 L1127.0 2805.2 L1128.5 2805.0 L1130.0 2804.1 L1131.5 2802.6 L1133.0 2800.8 L1134.5 2798.8 L1136.0 2796.5 L1137.5 2793.8 L1139.0 2791.1 L1140.5 2788.5 L1142.0 2786.4 L1143.5 2784.4 L1145.0 2782.5 L1146.5 2781.0 L1148.0 2780.1 L1149.5 2780.1 L1151.0 2781.0 L1152.5 2782.4 L1154.0 2784.1 L1155.5 2785.9 L1157.0 2788.0 L1158.5 2790.3 L1160.0 2792.6 L1161.5 2794.8 L1163.0 2796.8 L1164.5 2798.8 L1166.0 2800.8 L1167.5 2802.7 L1169.0 2804.3 L1170.5 2805.5 L1172.0 2806.1 L1173.5 2805.9 L1175.0 2804.8 L1176.5 2803.1 L1178.0 2801.1 L1179.5 2799.1 L1181.0 2796.9 L1182.5 2794.4 L1184.0 2791.9 L1185.5 2789.7 L1187.0 2788.0 L1188.5 2786.7 L1190.0 2785.5 L1191.5 2784.7 L1193.0 2784.3 L1194.5 2784.4 L1196.0 2785.0 L1197.5 2785.8 L1199.0 2786.9 L1200.5 2788.0 L1202.0 2789.2 L1203.5 2790.8 L1205.0 2792.5 L1206.5 2794.1 L1208.0 2795.4 L1209.5 2796.4 L1211.0 2797.3 L1212.5 2797.8 L1214.0 2798.1 L1215.5 2797.8 L1217.0 2796.9 L1218.5 2795.7 L1220.0 2794.2 L1221.5 2792.7 L1223.0 2791.3 L1224.5 2789.6 L1226.0 2787.9 L1227.5 2786.3 L1229.0 2785.0 L1230.5 2784.3 L1232.0 2783.9 L1233.5 2783.8 L1235.0 2783.9 L1236.5 2784.2 L1238.0 2784.9 L1239.5 2785.7 L1241.0 2786.6 L1242.5 2787.5 L1244.0 2788.5 L1245.5 2789.5 L1247.0 2790.7 L1248.5 2791.8 L1250.0 2792.7 L1251.5 2793.3 L1253.0 2793.4 L1254.5 2793.3 L1256.0 2792.8 L1257.5 2792.2 L1259.0 2791.3 L1260.5 2790.0 L1262.0 2788.5 L1263.5 2787.1 L1265.0 2786.0 L1266.5 2785.5 L1268.0 2785.0 L1269.5 2784.6 L1271.0 2784.4 L1272.5 2784.3 L1274.0 2784.3 L1275.5 2784.5 L1277.0 2784.7 L1278.5 2785.1 L1280.0 2785.5 L1281.5 2786.0 L1283.0 2786.7 L1284.5 2787.9 L1286.0 2789.3 L1287.5 2790.8 L1289.0 2792.4 L1290.5 2794.3 L1292.0 2796.3 L1293.5 2798.4 L1295.0 2800.5 L1296.5 2802.6 L1298.0 2804.7 L1299.6 2806.9 L1301.1 2808.9 L1302.6 2810.7 L1304.1 2812.1 L1305.6 2813.3 L1307.1 2814.4 L1308.6 2815.3 L1310.1 2815.7 L1311.6 2816.0 L1313.1 2816.3 L1314.6 2816.5 L1316.1 2816.7 L1317.6 2816.9 L1319.1 2816.9 L1320.6 2816.9 L1322.1 2816.8 L1323.6 2816.8 L1325.1 2816.7 L1326.6 2816.6 L1328.1 2816.5 L1329.6 2816.4 L1331.1 2816.2 L1332.6 2816.0 L1334.1 2815.8 L1335.6 2815.5 L1337.1 2815.3 L1338.6 2815.0 L1340.1 2814.7 L1341.6 2814.4 L1343.1 2814.1 L1344.6 2813.8 L1346.1 2813.5 L1347.6 2813.3 L1349.1 2813.6 L1350.6 2814.8 L1352.1 2816.5 L1353.6 2818.5 L1355.1 2820.3 L1356.6 2821.9 L1358.1 2823.6 L1359.6 2825.2 L1361.1 2826.6 L1362.6 2827.7 L1364.1 2828.7 L1365.6 2829.5 L1367.1 2830.2 L1368.6 2830.8 L1370.1 2831.1 L1371.6 2831.2 L1373.1 2831.0 L1374.6 2830.8 L1376.1 2830.4 L1377.6 2830.0 L1379.1 2829.6 L1380.6 2829.1 L1382.1 2828.6 L1383.6 2828.0 L1385.1 2827.5 L1386.6 2826.9 L1388.1 2826.3 L1389.6 2825.7 L1391.1 2825.2 L1392.6 2824.7 L1394.1 2824.1 L1395.6 2823.6 L1397.1 2823.1 L1398.6 2822.6 L1400.1 2822.2 L1401.6 2821.9 L1403.1 2821.6 L1404.6 2821.5 L1406.1 2821.4 L1407.6 2821.5 L1409.1 2821.6 L1410.6 2821.7 L1412.1 2821.9 L1413.6 2822.2 L1415.1 2822.4 L1416.6 2822.8 L1418.1 2823.2 L1419.6 2823.7 L1421.1 2824.2 L1422.6 2824.8 L1424.1 2825.4 L1425.6 2826.0 L1427.1 2826.6 L1428.6 2827.3 L1430.1 2828.1 L1431.6 2828.9 L1433.1 2829.7 L1434.6 2830.5 L1436.1 2831.3 L1437.6 2832.0 L1439.1 2832.6 L1440.6 2833.2 L1442.1 2833.7 L1443.6 2834.1 L1445.1 2834.4 L1446.6 2834.6 L1448.1 2834.8 L1449.6 2834.5 L1451.1 2833.8 L1452.6 2832.6 L1454.1 2831.2 L1455.6 2829.6 L1457.1 2827.4 L1458.6 2824.9 L1460.1 2822.1 L1461.6 2819.4 L1463.1 2816.8 L1464.6 2813.9 L1466.1 2811.1 L1467.6 2808.5 L1469.1 2806.5 L1470.6 2805.3 L1472.1 2804.4 L1473.6 2803.7 L1475.1 2803.2 L1476.6 2802.6 L1478.1 2802.1 L1479.6 2801.8 L1481.1 2801.5 L1482.6 2801.4 L1484.1 2801.4 L1485.7 2801.7 L1487.2 2803.7 L1488.7 2807.0 L1490.2 2811.1 L1491.7 2815.5 L1493.2 2821.2 L1494.7 2827.8 L1496.2 2834.3 L1497.7 2841.4 L1499.2 2848.5 L1500.7 2854.4 L1502.2 2858.8 L1503.7 2860.9 L1505.2 2859.3 L1506.7 2853.7 L1508.2 2845.7 L1509.7 2836.3 L1511.2 2824.1 L1512.7 2811.1 L1514.2 2799.2 L1515.7 2787.3 L1517.2 2776.6 L1518.7 2769.1 L1520.2 2763.9 L1521.7 2760.7 L1523.2 2761.1 L1524.7 2764.5 L1526.2 2769.3 L1527.7 2774.8 L1529.2 2780.5 L1530.7 2786.4 L1532.2 2792.8 L1533.7 2799.0 L1535.2 2804.4 L1536.7 2809.2 L1538.2 2813.6 L1539.7 2817.2 L1541.2 2819.6 L1542.7 2820.9 L1544.2 2821.4 L1545.7 2820.5 L1547.2 2818.3 L1548.7 2815.2 L1550.2 2811.8 L1551.7 2808.5 L1553.2 2805.6 L1554.7 2802.8 L1556.2 2800.1 L1557.7 2797.5 L1559.2 2795.3 L1560.7 2793.5 L1562.2 2791.9 L1563.7 2790.5 L1565.2 2789.3 L1566.7 2788.5 L1568.2 2788.0 L1569.7 2787.5 L1571.2 2787.1 L1572.7 2786.7 L1574.2 2786.4 L1575.7 2786.1 L1577.2 2785.9 L1578.7 2785.6 L1580.2 2785.4 L1581.7 2785.1 L1583.2 2784.9 L1584.7 2784.8 L1586.2 2784.7 L1587.7 2784.7 L1589.2 2784.8 L1590.7 2785.1 L1592.2 2785.5 L1593.7 2785.9 L1595.2 2786.4 L1596.7 2786.8 L1598.2 2787.2 L1599.7 2787.5 L1601.2 2787.9 L1602.7 2788.2 L1604.2 2788.6 L1605.7 2788.9 L1607.2 2789.2 L1608.7 2789.4 L1610.2 2789.5 L1611.7 2789.7 L1613.2 2789.8 L1614.7 2789.8 L1616.2 2789.9 L1617.7 2790.0 L1619.2 2790.1 L1620.7 2790.1 L1622.2 2790.2 L1623.7 2790.3 L1625.2 2790.3 L1626.7 2790.4 L1628.2 2790.5 L1629.7 2790.5 L1631.2 2790.6 L1632.7 2790.7 L1634.2 2790.7 L1635.7 2790.8 L1637.2 2790.9 L1638.7 2790.9 L1640.2 2791.0 L1641.7 2791.1 L1643.2 2791.1 L1644.7 2791.2 L1646.2 2791.3 L1647.7 2791.3 L1649.2 2791.4 L1650.7 2791.5 L1652.2 2791.6 L1653.7 2791.7 L1655.2 2791.7 L1656.7 2791.8 L1658.2 2791.9 L1659.7 2792.0 L1661.2 2792.0 L1662.7 2792.1 L1664.2 2792.2 L1665.7 2792.2 L1667.2 2792.3 L1668.7 2792.4 L1670.2 2792.4 L1671.8 2792.5 L1673.3 2792.6 L1674.8 2792.6 L1676.3 2792.7 L1677.8 2792.7 L1679.3 2792.7 L1680.8 2792.8 L1682.3 2792.8 L1683.8 2792.9 L1685.3 2792.9 L1686.8 2792.9 L1688.3 2793.0 L1689.8 2793.0 L1691.3 2793.0 L1692.8 2793.1 L1694.3 2793.1 L1695.8 2793.1 L1697.3 2793.2 L1698.8 2793.2 L1700.3 2793.2 L1701.8 2793.3 L1703.3 2793.3 L1704.8 2793.4 L1706.3 2793.4 L1707.8 2793.4 L1709.3 2793.5 L1710.8 2793.5 L1712.3 2793.5 L1713.8 2793.6 L1715.3 2793.6 L1716.8 2793.7 L1718.3 2793.7 L1719.8 2793.7 L1721.3 2793.8 L1722.8 2793.8 L1724.3 2793.8 L1725.8 2793.9 L1727.3 2793.9 L1728.8 2794.0 L1730.3 2794.0 L1731.8 2794.0 L1733.3 2794.1 L1734.8 2794.1 L1736.3 2794.1 L1737.8 2794.2 L1739.3 2794.2 L1740.8 2794.3 L1742.3 2794.3 L1743.8 2794.3 L1745.3 2794.4 L1746.8 2794.4 L1748.3 2794.4 L1749.8 2794.5 L1751.3 2794.5 L1752.8 2794.6 L1754.3 2794.6 L1755.8 2794.6 L1757.3 2794.7 L1758.8 2794.7 L1760.3 2794.8 L1761.8 2794.8 L1763.3 2794.8 L1764.8 2794.9 L1766.3 2794.9 L1767.8 2794.9 L1769.3 2795.0 L1770.8 2795.0 L1772.3 2795.0 L1773.8 2795.1 L1775.3 2795.1 L1776.8 2795.1 L1778.3 2795.1 L1779.8 2795.2 L1781.3 2795.2 L1782.8 2795.2 L1784.3 2795.2 L1785.8 2795.2 L1787.3 2795.3 L1788.8 2795.3 L1790.3 2795.3 L1791.8 2795.3 L1793.3 2795.3 L1794.8 2795.4 L1796.3 2795.4 L1797.8 2795.4 L1799.3 2795.4 L1800.8 2795.5 L1802.3 2795.5 L1803.8 2795.5 L1805.3 2795.5 L1806.8 2795.5 L1808.3 2795.6 L1809.8 2795.6 L1811.3 2795.6 L1812.8 2795.6 L1814.3 2795.7 L1815.8 2795.7 L1817.3 2795.7 L1818.8 2795.7 L1820.3 2795.7 L1821.8 2795.8 L1823.3 2795.8 L1824.8 2795.8 L1826.3 2795.8 L1827.8 2795.9 L1829.3 2795.9 L1830.8 2795.9 L1832.3 2795.9 L1833.8 2796.0 L1835.3 2796.0 L1836.8 2796.0 L1838.3 2796.0 L1839.8 2796.1 L1841.3 2796.1 L1842.8 2796.1 L1844.3 2796.1 L1845.8 2796.2 L1847.3 2796.2 L1848.8 2796.2 L1850.3 2796.2 L1851.8 2796.3 L1853.3 2796.3 L1854.8 2796.3 L1856.4 2796.3 L1857.9 2796.4 L1859.4 2796.4 L1860.9 2796.4 L1862.4 2796.4 L1863.9 2796.5 L1865.4 2796.5 L1866.9 2796.5 L1868.4 2796.5 L1869.9 2796.6 L1871.4 2796.6 L1872.9 2796.6 L1874.4 2796.6 L1875.9 2796.6 L1877.4 2796.7 L1878.9 2796.7 L1880.4 2796.7 L1881.9 2796.7 L1883.4 2796.7 L1884.9 2796.7 L1886.4 2796.7 L1887.9 2796.7 L1889.4 2796.7 L1890.9 2796.7 L1892.4 2796.7 L1893.9 2796.7 L1895.4 2796.7 L1896.9 2796.7 L1898.4 2796.7 L1899.9 2796.7 L1901.4 2796.7 L1902.9 2796.7 L1904.4 2796.7 L1905.9 2796.7 L1907.4 2796.7 L1908.9 2796.7 L1910.4 2796.7 L1911.9 2796.7 L1913.4 2796.7 L1914.9 2796.7 L1916.4 2796.6 L1917.9 2796.6 L1919.4 2796.6 L1920.9 2796.6 L1922.4 2796.5 L1923.9 2796.5 L1925.4 2796.4 L1926.9 2796.4 L1928.4 2796.4 L1929.9 2796.3 L1931.4 2796.3 L1932.9 2796.3 L1934.4 2796.2 L1935.9 2796.2 L1937.4 2796.2 L1938.9 2796.2 L1940.4 2796.2 L1941.9 2796.2 L1943.4 2796.2 L1944.9 2796.2 L1946.4 2796.3 L1947.9 2796.3 L1949.4 2796.4 L1950.9 2796.5 L1952.4 2796.5 L1953.9 2796.6 L1955.4 2796.7 L1956.9 2796.7 L1958.4 2796.8 L1959.9 2796.9 L1961.4 2796.9 L1962.9 2797.0 L1964.4 2797.0 L1965.9 2797.1 L1967.4 2797.1 L1968.9 2797.1 L1970.4 2797.2 L1971.9 2797.2 L1973.4 2797.2 L1974.9 2797.3 L1976.4 2797.3 L1977.9 2797.4 L1979.4 2797.4 L1980.9 2797.4 L1982.4 2797.5 L1983.9 2797.5 L1985.4 2797.5 L1986.9 2797.6 L1988.4 2797.6 L1989.9 2797.6 L1991.4 2797.7 L1992.9 2797.7 L1994.4 2797.8 L1995.9 2797.8 L1997.4 2797.8 L1998.9 2797.9 L2000.4 2797.9 L2001.9 2797.9 L2003.4 2798.0 L2004.9 2798.0 L2006.4 2798.0 L2007.9 2798.1 L2009.4 2798.1 L2010.9 2798.1 L2012.4 2798.2 L2013.9 2798.2 L2015.4 2798.3 L2016.9 2798.3 L2018.4 2798.3 L2019.9 2798.4 L2021.4 2798.4 L2022.9 2798.5 L2024.4 2798.5 L2025.9 2798.5 L2027.4 2798.6 L2028.9 2798.6 L2030.4 2798.7 L2031.9 2798.8 L2033.4 2798.8 L2034.9 2798.9 L2036.4 2799.0 L2037.9 2799.1 L2039.4 2799.2 L2040.9 2799.2 L2042.5 2799.3 L2044.0 2799.4 L2045.5 2799.5 L2047.0 2799.5 L2048.5 2799.6 L2050.0 2799.7 L2051.5 2799.7 L2053.0 2799.7 L2054.5 2799.8 L2056.0 2799.8 L2057.5 2799.8 L2059.0 2799.8 L2060.5 2799.8 L2062.0 2799.8 L2063.5 2799.8 L2065.0 2799.8 L2066.5 2799.8 L2068.0 2799.8 L2069.5 2799.8 L2071.0 2799.7 L2072.5 2799.7 L2074.0 2799.7 L2075.5 2799.7 L2077.0 2799.6 L2078.5 2799.5 L2080.0 2799.4 L2081.5 2799.3 L2083.0 2799.2 L2084.5 2799.1 L2086.0 2799.0 L2087.5 2798.8 L2089.0 2798.7 L2090.5 2798.6" fill="none" stroke="#00b0f0" stroke-width="7.0" stroke-linejoin="round" stroke-linecap="round"/>
<path d="M277.5 2797.2 L279.0 2797.2 L280.5 2797.2 L282.0 2797.2 L283.5 2797.2 L285.0 2797.2 L286.5 2797.2 L288.0 2797.2 L289.5 2797.2 L291.0 2797.2 L292.5 2797.2 L294.0 2797.2 L295.5 2797.2 L297.0 2797.2 L298.5 2797.2 L300.0 2797.2 L301.5 2797.2 L303.0 2797.2 L304.5 2797.2 L306.0 2797.2 L307.5 2797.2 L309.0 2797.2 L310.5 2797.2 L312.0 2797.2 L313.5 2797.2 L315.0 2797.2 L316.5 2797.2 L318.0 2797.2 L319.5 2797.2 L321.0 2797.2 L322.5 2797.2 L324.0 2797.2 L325.5 2797.2 L327.0 2797.2 L328.5 2797.2 L330.0 2797.2 L331.5 2797.2 L333.0 2797.2 L334.5 2797.2 L336.0 2797.2 L337.5 2797.2 L339.0 2797.2 L340.5 2797.2 L342.0 2797.2 L343.5 2797.2 L345.0 2797.2 L346.5 2797.2 L348.0 2797.2 L349.5 2797.2 L351.0 2797.2 L352.5 2797.2 L354.0 2797.2 L355.5 2797.2 L357.0 2797.2 L358.5 2797.2 L360.0 2797.2 L361.5 2797.2 L363.0 2797.2 L364.5 2797.2 L366.0 2797.2 L367.5 2797.2 L369.0 2797.2 L370.6 2797.2 L372.1 2797.2 L373.6 2797.2 L375.1 2797.2 L376.6 2797.2 L378.1 2797.2 L379.6 2797.2 L381.1 2797.2 L382.6 2797.2 L384.1 2797.2 L385.6 2797.2 L387.1 2797.2 L388.6 2797.2 L390.1 2797.2 L391.6 2797.2 L393.1 2797.2 L394.6 2797.2 L396.1 2797.2 L397.6 2797.2 L399.1 2797.2 L400.6 2797.2 L402.1 2797.2 L403.6 2797.2 L405.1 2797.2 L406.6 2797.2 L408.1 2797.2 L409.6 2797.2 L411.1 2797.2 L412.6 2797.2 L414.1 2797.2 L415.6 2797.2 L417.1 2797.2 L418.6 2797.2 L420.1 2797.2 L421.6 2797.2 L423.1 2797.2 L424.6 2797.2 L426.1 2797.2 L427.6 2797.2 L429.1 2797.2 L430.6 2797.2 L432.1 2797.2 L433.6 2797.2 L435.1 2797.2 L436.6 2797.2 L438.1 2797.2 L439.6 2797.2 L441.1 2797.2 L442.6 2797.2 L444.1 2797.2 L445.6 2797.2 L447.1 2797.2 L448.6 2797.2 L450.1 2797.2 L451.6 2797.2 L453.1 2797.2 L454.6 2797.2 L456.1 2797.2 L457.6 2797.2 L459.1 2797.2 L460.6 2797.2 L462.1 2797.2 L463.6 2797.2 L465.1 2797.2 L466.6 2797.2 L468.1 2797.2 L469.6 2797.2 L471.1 2797.2 L472.6 2797.2 L474.1 2797.2 L475.6 2797.2 L477.1 2797.2 L478.6 2797.2 L480.1 2797.2 L481.6 2797.2 L483.1 2797.2 L484.6 2797.2 L486.1 2797.2 L487.6 2797.2 L489.1 2797.2 L490.6 2797.2 L492.1 2797.2 L493.6 2797.2 L495.1 2797.2 L496.6 2797.2 L498.1 2797.2 L499.6 2797.2 L501.1 2797.3 L502.6 2797.4 L504.1 2797.5 L505.6 2797.7 L507.1 2797.8 L508.6 2798.0 L510.1 2798.2 L511.6 2798.3 L513.1 2798.5 L514.6 2798.7 L516.1 2798.8 L517.6 2798.9 L519.1 2799.0 L520.6 2799.0 L522.1 2799.1 L523.6 2799.1 L525.1 2799.1 L526.6 2799.2 L528.1 2799.2 L529.6 2799.2 L531.1 2799.2 L532.6 2799.2 L534.1 2799.1 L535.6 2799.1 L537.1 2799.0 L538.6 2799.0 L540.1 2798.9 L541.6 2798.9 L543.1 2798.8 L544.6 2798.7 L546.1 2798.6 L547.6 2798.4 L549.1 2798.2 L550.6 2798.0 L552.1 2797.8 L553.6 2797.5 L555.1 2797.2 L556.7 2796.9 L558.2 2796.6 L559.7 2796.3 L561.2 2796.0 L562.7 2795.8 L564.2 2795.5 L565.7 2795.3 L567.2 2795.1 L568.7 2794.9 L570.2 2794.7 L571.7 2794.6 L573.2 2794.4 L574.7 2794.3 L576.2 2794.2 L577.7 2794.0 L579.2 2793.9 L580.7 2793.8 L582.2 2793.7 L583.7 2793.6 L585.2 2793.5 L586.7 2793.4 L588.2 2793.3 L589.7 2793.3 L591.2 2793.2 L592.7 2793.1 L594.2 2793.1 L595.7 2793.1 L597.2 2793.0 L598.7 2793.1 L600.2 2793.1 L601.7 2793.2 L603.2 2793.4 L604.7 2793.5 L606.2 2793.7 L607.7 2793.9 L609.2 2794.2 L610.7 2794.4 L612.2 2794.7 L613.7 2795.0 L615.2 2795.3 L616.7 2795.7 L618.2 2796.3 L619.7 2797.0 L621.2 2797.8 L622.7 2798.6 L624.2 2799.5 L625.7 2800.3 L627.2 2801.2 L628.7 2802.0 L630.2 2802.9 L631.7 2803.9 L633.2 2804.8 L634.7 2805.8 L636.2 2806.7 L637.7 2807.6 L639.2 2808.4 L640.7 2809.2 L642.2 2809.9 L643.7 2810.6 L645.2 2811.3 L646.7 2811.9 L648.2 2812.4 L649.7 2812.7 L651.2 2813.0 L652.7 2813.1 L654.2 2813.1 L655.7 2812.9 L657.2 2812.6 L658.7 2812.2 L660.2 2811.7 L661.7 2811.1 L663.2 2810.3 L664.7 2809.4 L666.2 2808.2 L667.7 2807.0 L669.2 2805.7 L670.7 2804.4 L672.2 2803.2 L673.7 2801.9 L675.2 2800.6 L676.7 2799.2 L678.2 2797.8 L679.7 2796.4 L681.2 2795.0 L682.7 2793.6 L684.2 2792.3 L685.7 2791.1 L687.2 2789.9 L688.7 2788.8 L690.2 2787.6 L691.7 2786.5 L693.2 2785.5 L694.7 2784.6 L696.2 2783.8 L697.7 2783.1 L699.2 2782.4 L700.7 2781.8 L702.2 2781.3 L703.7 2780.8 L705.2 2780.3 L706.7 2779.9 L708.2 2779.6 L709.7 2779.3 L711.2 2779.2 L712.7 2779.1 L714.2 2779.0 L715.7 2779.0 L717.2 2779.1 L718.7 2779.3 L720.2 2779.5 L721.7 2779.8 L723.2 2780.5 L724.7 2781.5 L726.2 2782.6 L727.7 2783.9 L729.2 2785.2 L730.7 2786.7 L732.2 2788.4 L733.7 2790.2 L735.2 2792.2 L736.7 2794.3 L738.2 2796.4 L739.7 2798.6 L741.2 2800.6 L742.8 2802.5 L744.3 2804.5 L745.8 2806.5 L747.3 2808.5 L748.8 2810.4 L750.3 2812.1 L751.8 2813.7 L753.3 2815.1 L754.8 2816.5 L756.3 2817.7 L757.8 2818.8 L759.3 2819.7 L760.8 2820.4 L762.3 2820.9 L763.8 2821.2 L765.3 2821.5 L766.8 2821.6 L768.3 2821.7 L769.8 2821.5 L771.3 2821.1 L772.8 2820.6 L774.3 2819.8 L775.8 2818.9 L777.3 2817.0 L778.8 2814.3 L780.3 2811.0 L781.8 2807.6 L783.3 2804.1 L784.8 2800.1 L786.3 2795.9 L787.8 2791.7 L789.3 2787.7 L790.8 2784.1 L792.3 2780.4 L793.8 2776.9 L795.3 2773.9 L796.8 2771.5 L798.3 2769.6 L799.8 2767.8 L801.3 2766.3 L802.8 2765.1 L804.3 2764.3 L805.8 2763.7 L807.3 2763.3 L808.8 2763.4 L810.3 2764.0 L811.8 2765.0 L813.3 2766.5 L814.8 2768.2 L816.3 2770.1 L817.8 2772.6 L819.3 2775.7 L820.8 2778.8 L822.3 2781.5 L823.8 2783.7 L825.3 2785.8 L826.8 2787.8 L828.3 2789.4 L829.8 2790.6 L831.3 2791.4 L832.8 2792.1 L834.3 2792.8 L835.8 2793.4 L837.3 2793.8 L838.8 2794.2 L840.3 2794.4 L841.8 2794.3 L843.3 2794.2 L844.8 2794.0 L846.3 2793.8 L847.8 2793.7 L849.3 2793.8 L850.8 2794.4 L852.3 2795.4 L853.8 2796.7 L855.3 2798.2 L856.8 2799.7 L858.3 2801.8 L859.8 2804.2 L861.3 2807.0 L862.8 2809.9 L864.3 2813.0 L865.8 2816.6 L867.3 2820.3 L868.8 2824.0 L870.3 2827.3 L871.8 2830.3 L873.3 2833.3 L874.8 2835.9 L876.3 2838.2 L877.8 2839.7 L879.3 2840.8 L880.8 2841.6 L882.3 2842.1 L883.8 2842.4 L885.3 2842.3 L886.8 2841.7 L888.3 2840.6 L889.8 2839.3 L891.3 2837.7 L892.8 2836.0 L894.3 2833.3 L895.8 2829.8 L897.3 2825.7 L898.8 2821.1 L900.3 2815.9 L901.8 2809.3 L903.3 2802.2 L904.8 2795.0 L906.3 2787.8 L907.8 2780.1 L909.3 2772.7 L910.8 2766.1 L912.3 2760.6 L913.8 2755.6 L915.3 2752.0 L916.8 2749.8 L918.3 2747.8 L919.8 2746.5 L921.3 2746.1 L922.8 2746.8 L924.3 2748.4 L925.8 2750.7 L927.3 2753.3 L928.9 2756.5 L930.4 2760.6 L931.9 2765.1 L933.4 2769.4 L934.9 2773.1 L936.4 2776.3 L937.9 2779.3 L939.4 2781.9 L940.9 2784.1 L942.4 2785.7 L943.9 2787.0 L945.4 2787.7 L946.9 2787.4 L948.4 2786.3 L949.9 2784.7 L951.4 2782.7 L952.9 2780.7 L954.4 2778.4 L955.9 2775.4 L957.4 2772.4 L958.9 2769.8 L960.4 2768.1 L961.9 2767.1 L963.4 2766.8 L964.9 2767.4 L966.4 2769.6 L967.9 2772.9 L969.4 2776.9 L970.9 2782.4 L972.4 2789.0 L973.9 2795.6 L975.4 2802.5 L976.9 2809.4 L978.4 2815.9 L979.9 2821.8 L981.4 2827.3 L982.9 2831.8 L984.4 2835.5 L985.9 2838.6 L987.4 2840.5 L988.9 2840.6 L990.4 2839.0 L991.9 2836.3 L993.4 2832.8 L994.9 2827.8 L996.4 2821.9 L997.9 2816.1 L999.4 2809.7 L1000.9 2803.4 L1002.4 2798.3 L1003.9 2794.1 L1005.4 2791.9 L1006.9 2793.1 L1008.4 2796.1 L1009.9 2799.9 L1011.4 2804.0 L1012.9 2808.9 L1014.4 2813.6 L1015.9 2817.0 L1017.4 2819.3 L1018.9 2820.5 L1020.4 2820.2 L1021.9 2817.7 L1023.4 2813.3 L1024.9 2808.1 L1026.4 2801.2 L1027.9 2793.2 L1029.4 2785.3 L1030.9 2778.0 L1032.4 2770.9 L1033.9 2764.6 L1035.4 2759.8 L1036.9 2755.6 L1038.4 2752.4 L1039.9 2750.3 L1041.4 2749.0 L1042.9 2749.2 L1044.4 2751.0 L1045.9 2754.0 L1047.4 2757.8 L1048.9 2761.9 L1050.4 2766.9 L1051.9 2772.5 L1053.4 2778.3 L1054.9 2783.8 L1056.4 2789.6 L1057.9 2795.5 L1059.4 2800.8 L1060.9 2804.9 L1062.4 2808.4 L1063.9 2811.3 L1065.4 2813.4 L1066.9 2814.4 L1068.4 2814.2 L1069.9 2812.4 L1071.4 2809.4 L1072.9 2805.6 L1074.4 2801.0 L1075.9 2794.9 L1077.4 2788.3 L1078.9 2782.6 L1080.4 2777.0 L1081.9 2772.1 L1083.4 2768.7 L1084.9 2766.1 L1086.4 2764.3 L1087.9 2763.3 L1089.4 2763.5 L1090.9 2765.0 L1092.4 2767.4 L1093.9 2770.5 L1095.4 2773.9 L1096.9 2778.5 L1098.4 2783.7 L1099.9 2788.9 L1101.4 2793.2 L1102.9 2797.3 L1104.4 2801.2 L1105.9 2804.8 L1107.4 2807.6 L1108.9 2809.7 L1110.4 2811.6 L1111.9 2813.2 L1113.5 2814.5 L1115.0 2815.6 L1116.5 2816.3 L1118.0 2817.0 L1119.5 2817.6 L1121.0 2818.0 L1122.5 2818.4 L1124.0 2818.6 L1125.5 2818.4 L1127.0 2817.8 L1128.5 2816.7 L1130.0 2815.3 L1131.5 2813.4 L1133.0 2809.5 L1134.5 2804.3 L1136.0 2799.0 L1137.5 2794.1 L1139.0 2788.7 L1140.5 2783.4 L1142.0 2779.0 L1143.5 2776.0 L1145.0 2773.5 L1146.5 2771.8 L1148.0 2771.4 L1149.5 2772.4 L1151.0 2774.0 L1152.5 2775.8 L1154.0 2777.8 L1155.5 2779.7 L1157.0 2781.5 L1158.5 2783.4 L1160.0 2785.2 L1161.5 2786.9 L1163.0 2788.4 L1164.5 2789.8 L1166.0 2790.7 L1167.5 2790.8 L1169.0 2789.7 L1170.5 2787.6 L1172.0 2785.0 L1173.5 2782.2 L1175.0 2779.6 L1176.5 2777.0 L1178.0 2774.2 L1179.5 2771.6 L1181.0 2769.2 L1182.5 2767.5 L1184.0 2766.0 L1185.5 2764.7 L1187.0 2763.8 L1188.5 2763.3 L1190.0 2763.5 L1191.5 2764.0 L1193.0 2764.7 L1194.5 2765.7 L1196.0 2766.8 L1197.5 2768.1 L1199.0 2769.7 L1200.5 2771.4 L1202.0 2773.0 L1203.5 2774.1 L1205.0 2775.0 L1206.5 2775.7 L1208.0 2776.4 L1209.5 2776.9 L1211.0 2777.3 L1212.5 2777.4 L1214.0 2777.5 L1215.5 2777.4 L1217.0 2777.4 L1218.5 2777.4 L1220.0 2777.6 L1221.5 2778.3 L1223.0 2779.5 L1224.5 2781.2 L1226.0 2783.1 L1227.5 2785.3 L1229.0 2788.4 L1230.5 2792.2 L1232.0 2796.1 L1233.5 2799.8 L1235.0 2802.8 L1236.5 2805.6 L1238.0 2808.1 L1239.5 2810.2 L1241.0 2811.6 L1242.5 2812.3 L1244.0 2812.0 L1245.5 2810.4 L1247.0 2807.8 L1248.5 2804.4 L1250.0 2800.8 L1251.5 2796.1 L1253.0 2790.7 L1254.5 2785.6 L1256.0 2781.7 L1257.5 2778.5 L1259.0 2775.7 L1260.5 2773.7 L1262.0 2772.7 L1263.5 2772.1 L1265.0 2771.6 L1266.5 2771.2 L1268.0 2771.2 L1269.5 2771.4 L1271.0 2771.7 L1272.5 2772.1 L1274.0 2772.6 L1275.5 2773.2 L1277.0 2774.3 L1278.5 2776.0 L1280.0 2777.9 L1281.5 2780.2 L1283.0 2783.0 L1284.5 2786.6 L1286.0 2790.4 L1287.5 2794.2 L1289.0 2797.8 L1290.5 2801.5 L1292.0 2805.3 L1293.5 2808.8 L1295.0 2811.4 L1296.5 2812.9 L1298.0 2814.0 L1299.6 2814.8 L1301.1 2815.5 L1302.6 2816.1 L1304.1 2816.5 L1305.6 2816.9 L1307.1 2817.1 L1308.6 2817.5 L1310.1 2818.1 L1311.6 2819.0 L1313.1 2820.2 L1314.6 2821.6 L1316.1 2823.0 L1317.6 2824.4 L1319.1 2825.9 L1320.6 2827.4 L1322.1 2828.9 L1323.6 2830.5 L1325.1 2832.0 L1326.6 2833.4 L1328.1 2834.8 L1329.6 2836.3 L1331.1 2837.9 L1332.6 2839.8 L1334.1 2842.0 L1335.6 2844.3 L1337.1 2846.7 L1338.6 2849.0 L1340.1 2851.3 L1341.6 2853.7 L1343.1 2856.0 L1344.6 2858.2 L1346.1 2860.2 L1347.6 2862.3 L1349.1 2864.2 L1350.6 2866.0 L1352.1 2867.5 L1353.6 2868.6 L1355.1 2869.6 L1356.6 2870.4 L1358.1 2871.1 L1359.6 2871.6 L1361.1 2871.9 L1362.6 2872.1 L1364.1 2872.3 L1365.6 2872.4 L1367.1 2872.4 L1368.6 2872.2 L1370.1 2871.9 L1371.6 2871.5 L1373.1 2870.9 L1374.6 2870.3 L1376.1 2869.6 L1377.6 2868.6 L1379.1 2867.5 L1380.6 2866.3 L1382.1 2865.2 L1383.6 2863.9 L1385.1 2862.6 L1386.6 2861.3 L1388.1 2860.1 L1389.6 2859.0 L1391.1 2858.0 L1392.6 2856.9 L1394.1 2856.0 L1395.6 2855.1 L1397.1 2854.3 L1398.6 2853.6 L1400.1 2853.0 L1401.6 2852.4 L1403.1 2852.1 L1404.6 2851.8 L1406.1 2851.9 L1407.6 2852.2 L1409.1 2852.9 L1410.6 2853.9 L1412.1 2855.1 L1413.6 2856.4 L1415.1 2857.7 L1416.6 2859.1 L1418.1 2860.6 L1419.6 2862.2 L1421.1 2863.8 L1422.6 2865.3 L1424.1 2866.8 L1425.6 2868.1 L1427.1 2869.5 L1428.6 2870.8 L1430.1 2872.0 L1431.6 2873.0 L1433.1 2873.8 L1434.6 2874.3 L1436.1 2874.6 L1437.6 2874.9 L1439.1 2875.1 L1440.6 2875.2 L1442.1 2875.2 L1443.6 2875.1 L1445.1 2874.9 L1446.6 2874.5 L1448.1 2874.0 L1449.6 2873.0 L1451.1 2871.3 L1452.6 2869.3 L1454.1 2867.2 L1455.6 2865.2 L1457.1 2863.3 L1458.6 2861.4 L1460.1 2859.5 L1461.6 2857.6 L1463.1 2855.7 L1464.6 2853.9 L1466.1 2852.3 L1467.6 2850.6 L1469.1 2849.1 L1470.6 2847.5 L1472.1 2846.1 L1473.6 2844.8 L1475.1 2843.6 L1476.6 2842.6 L1478.1 2841.7 L1479.6 2840.9 L1481.1 2840.0 L1482.6 2839.1 L1484.1 2838.1 L1485.7 2836.5 L1487.2 2834.7 L1488.7 2833.1 L1490.2 2832.3 L1491.7 2834.1 L1493.2 2837.9 L1494.7 2842.3 L1496.2 2848.0 L1497.7 2854.8 L1499.2 2860.6 L1500.7 2864.7 L1502.2 2868.2 L1503.7 2870.2 L1505.2 2870.1 L1506.7 2867.4 L1508.2 2863.0 L1509.7 2857.5 L1511.2 2849.1 L1512.7 2838.8 L1514.2 2828.1 L1515.7 2816.3 L1517.2 2803.8 L1518.7 2791.5 L1520.2 2778.0 L1521.7 2766.9 L1523.2 2760.6 L1524.7 2757.4 L1526.2 2758.3 L1527.7 2761.6 L1529.2 2766.5 L1530.7 2772.3 L1532.2 2779.5 L1533.7 2787.5 L1535.2 2795.1 L1536.7 2802.8 L1538.2 2810.2 L1539.7 2815.5 L1541.2 2819.0 L1542.7 2821.8 L1544.2 2823.6 L1545.7 2824.1 L1547.2 2823.4 L1548.7 2822.4 L1550.2 2821.0 L1551.7 2819.5 L1553.2 2817.7 L1554.7 2815.5 L1556.2 2813.0 L1557.7 2810.5 L1559.2 2808.3 L1560.7 2806.7 L1562.2 2805.2 L1563.7 2803.8 L1565.2 2802.9 L1566.7 2802.6 L1568.2 2802.9 L1569.7 2803.7 L1571.2 2804.6 L1572.7 2805.4 L1574.2 2806.2 L1575.7 2806.7 L1577.2 2807.1 L1578.7 2807.4 L1580.2 2807.4 L1581.7 2806.9 L1583.2 2805.7 L1584.7 2804.1 L1586.2 2802.2 L1587.7 2800.2 L1589.2 2798.2 L1590.7 2795.8 L1592.2 2793.1 L1593.7 2790.4 L1595.2 2787.9 L1596.7 2785.7 L1598.2 2783.6 L1599.7 2781.5 L1601.2 2779.6 L1602.7 2777.8 L1604.2 2776.1 L1605.7 2774.7 L1607.2 2773.3 L1608.7 2772.0 L1610.2 2770.6 L1611.7 2768.9 L1613.2 2766.9 L1614.7 2764.6 L1616.2 2762.0 L1617.7 2759.3 L1619.2 2756.8 L1620.7 2754.7 L1622.2 2752.8 L1623.7 2751.0 L1625.2 2749.3 L1626.7 2747.6 L1628.2 2746.0 L1629.7 2744.3 L1631.2 2742.7 L1632.7 2741.3 L1634.2 2740.3 L1635.7 2739.6 L1637.2 2739.2 L1638.7 2739.0 L1640.2 2739.3 L1641.7 2739.8 L1643.2 2740.7 L1644.7 2741.8 L1646.2 2743.2 L1647.7 2745.2 L1649.2 2747.8 L1650.7 2750.3 L1652.2 2752.7 L1653.7 2754.9 L1655.2 2757.2 L1656.7 2759.5 L1658.2 2761.7 L1659.7 2763.7 L1661.2 2765.6 L1662.7 2767.5 L1664.2 2769.4 L1665.7 2771.7 L1667.2 2774.6 L1668.7 2778.1 L1670.2 2781.7 L1671.8 2785.1 L1673.3 2787.8 L1674.8 2790.0 L1676.3 2792.1 L1677.8 2794.0 L1679.3 2795.8 L1680.8 2797.6 L1682.3 2799.3 L1683.8 2801.0 L1685.3 2802.7 L1686.8 2804.4 L1688.3 2806.0 L1689.8 2807.6 L1691.3 2809.2 L1692.8 2810.9 L1694.3 2812.4 L1695.8 2814.0 L1697.3 2815.4 L1698.8 2816.7 L1700.3 2817.9 L1701.8 2819.0 L1703.3 2820.1 L1704.8 2821.1 L1706.3 2821.9 L1707.8 2822.6 L1709.3 2823.1 L1710.8 2823.4 L1712.3 2823.7 L1713.8 2823.9 L1715.3 2824.0 L1716.8 2824.0 L1718.3 2823.8 L1719.8 2823.4 L1721.3 2823.0 L1722.8 2822.4 L1724.3 2821.7 L1725.8 2820.6 L1727.3 2819.4 L1728.8 2818.0 L1730.3 2816.5 L1731.8 2815.1 L1733.3 2813.7 L1734.8 2812.2 L1736.3 2810.7 L1737.8 2809.2 L1739.3 2807.7 L1740.8 2806.1 L1742.3 2804.6 L1743.8 2803.1 L1745.3 2801.6 L1746.8 2800.0 L1748.3 2798.5 L1749.8 2797.0 L1751.3 2795.6 L1752.8 2794.2 L1754.3 2792.8 L1755.8 2791.4 L1757.3 2790.1 L1758.8 2788.8 L1760.3 2787.6 L1761.8 2786.5 L1763.3 2785.5 L1764.8 2784.5 L1766.3 2783.5 L1767.8 2782.6 L1769.3 2781.8 L1770.8 2781.0 L1772.3 2780.3 L1773.8 2779.7 L1775.3 2779.0 L1776.8 2778.4 L1778.3 2777.8 L1779.8 2777.3 L1781.3 2776.8 L1782.8 2776.3 L1784.3 2775.8 L1785.8 2775.4 L1787.3 2774.9 L1788.8 2774.5 L1790.3 2774.1 L1791.8 2773.7 L1793.3 2773.5 L1794.8 2773.3 L1796.3 2773.1 L1797.8 2772.9 L1799.3 2772.8 L1800.8 2772.7 L1802.3 2772.5 L1803.8 2772.5 L1805.3 2772.4 L1806.8 2772.4 L1808.3 2772.4 L1809.8 2772.4 L1811.3 2772.4 L1812.8 2772.5 L1814.3 2772.6 L1815.8 2772.8 L1817.3 2772.9 L1818.8 2773.1 L1820.3 2773.3 L1821.8 2773.6 L1823.3 2774.0 L1824.8 2774.5 L1826.3 2775.1 L1827.8 2775.7 L1829.3 2776.4 L1830.8 2777.0 L1832.3 2777.6 L1833.8 2778.2 L1835.3 2778.7 L1836.8 2779.3 L1838.3 2779.9 L1839.8 2780.4 L1841.3 2781.1 L1842.8 2781.7 L1844.3 2782.4 L1845.8 2783.2 L1847.3 2784.0 L1848.8 2785.0 L1850.3 2785.9 L1851.8 2786.9 L1853.3 2787.8 L1854.8 2788.8 L1856.4 2789.6 L1857.9 2790.4 L1859.4 2791.3 L1860.9 2792.1 L1862.4 2792.9 L1863.9 2793.6 L1865.4 2794.3 L1866.9 2795.0 L1868.4 2795.6 L1869.9 2796.1 L1871.4 2796.6 L1872.9 2797.1 L1874.4 2797.5 L1875.9 2797.9 L1877.4 2798.3 L1878.9 2798.7 L1880.4 2799.1 L1881.9 2799.6 L1883.4 2800.0 L1884.9 2800.5 L1886.4 2800.9 L1887.9 2801.3 L1889.4 2801.7 L1890.9 2802.1 L1892.4 2802.3 L1893.9 2802.6 L1895.4 2802.7 L1896.9 2802.9 L1898.4 2803.0 L1899.9 2803.1 L1901.4 2803.1 L1902.9 2803.2 L1904.4 2803.2 L1905.9 2803.2 L1907.4 2803.1 L1908.9 2803.1 L1910.4 2803.0 L1911.9 2802.9 L1913.4 2802.8 L1914.9 2802.6 L1916.4 2802.4 L1917.9 2802.3 L1919.4 2802.1 L1920.9 2801.8 L1922.4 2801.6 L1923.9 2801.3 L1925.4 2801.0 L1926.9 2800.6 L1928.4 2800.2 L1929.9 2799.8 L1931.4 2799.3 L1932.9 2798.9 L1934.4 2798.4 L1935.9 2797.8 L1937.4 2797.2 L1938.9 2796.6 L1940.4 2796.1 L1941.9 2795.7 L1943.4 2795.4 L1944.9 2795.1 L1946.4 2794.8 L1947.9 2794.6 L1949.4 2794.3 L1950.9 2794.1 L1952.4 2793.8 L1953.9 2793.5 L1955.4 2793.3 L1956.9 2793.0 L1958.4 2792.7 L1959.9 2792.4 L1961.4 2792.2 L1962.9 2791.9 L1964.4 2791.7 L1965.9 2791.5 L1967.4 2791.3 L1968.9 2791.2 L1970.4 2791.0 L1971.9 2790.9 L1973.4 2790.8 L1974.9 2790.6 L1976.4 2790.5 L1977.9 2790.4 L1979.4 2790.3 L1980.9 2790.2 L1982.4 2790.2 L1983.9 2790.1 L1985.4 2790.0 L1986.9 2789.9 L1988.4 2789.9 L1989.9 2789.8 L1991.4 2789.7 L1992.9 2789.7 L1994.4 2789.6 L1995.9 2789.6 L1997.4 2789.5 L1998.9 2789.5 L2000.4 2789.5 L2001.9 2789.5 L2003.4 2789.5 L2004.9 2789.5 L2006.4 2789.5 L2007.9 2789.5 L2009.4 2789.5 L2010.9 2789.5 L2012.4 2789.5 L2013.9 2789.5 L2015.4 2789.5 L2016.9 2789.5 L2018.4 2789.5 L2019.9 2789.5 L2021.4 2789.5 L2022.9 2789.6 L2024.4 2789.6 L2025.9 2789.6 L2027.4 2789.6 L2028.9 2789.6 L2030.4 2789.6 L2031.9 2789.7 L2033.4 2789.7 L2034.9 2789.7 L2036.4 2789.8 L2037.9 2789.8 L2039.4 2789.8 L2040.9 2789.9 L2042.5 2790.0 L2044.0 2790.0 L2045.5 2790.2 L2047.0 2790.3 L2048.5 2790.4 L2050.0 2790.6 L2051.5 2790.7 L2053.0 2790.9 L2054.5 2791.0 L2056.0 2791.2 L2057.5 2791.3 L2059.0 2791.4 L2060.5 2791.6 L2062.0 2791.7 L2063.5 2791.9 L2065.0 2792.0 L2066.5 2792.2 L2068.0 2792.3 L2069.5 2792.5 L2071.0 2792.6 L2072.5 2792.8 L2074.0 2792.9 L2075.5 2793.1 L2077.0 2793.3 L2078.5 2793.5 L2080.0 2793.7 L2081.5 2793.9 L2083.0 2794.2 L2084.5 2794.4 L2086.0 2794.6 L2087.5 2794.9 L2089.0 2795.1 L2090.5 2795.4" fill="none" stroke="#ff0000" stroke-width="7.0" stroke-linejoin="round" stroke-linecap="round"/>
<text x="486.2" y="3061.9" font-family='"DejaVu Serif", "Liberation Serif", serif' font-size="50.0" fill="#000" stroke="#000" stroke-width="1.1" stroke-linejoin="round"><tspan font-style="italic">h</tspan><tspan font-size="60" dx="4.5" dy="6">/</tspan><tspan font-style="italic" dx="2.5" dy="-6">T</tspan><tspan dx="1.6"> = </tspan><tspan dx="-1.6">7<tspan dx="-4.5">.</tspan><tspan dx="-3">6</tspan></tspan></text>
<text x="486.2" y="3141.0" font-family='"DejaVu Serif", "Liberation Serif", serif' font-size="50.0" fill="#000" stroke="#000" stroke-width="1.1" stroke-linejoin="round"><tspan font-style="italic">h</tspan><tspan font-size="60" dx="4.5" dy="6">/</tspan><tspan font-style="italic" dx="2.5" dy="-6">T</tspan><tspan dx="1.6"> = </tspan><tspan dx="-1.6">4</tspan></text>
<text x="486.2" y="3220.7" font-family='"DejaVu Serif", "Liberation Serif", serif' font-size="50.0" fill="#000" stroke="#000" stroke-width="1.1" stroke-linejoin="round"><tspan font-style="italic">h</tspan><tspan font-size="60" dx="4.5" dy="6">/</tspan><tspan font-style="italic" dx="2.5" dy="-6">T</tspan><tspan dx="1.6"> = </tspan><tspan dx="-1.6">2</tspan></text>
<text x="215.3" y="2416.2" text-anchor="end" font-family='"Liberation Serif", "Times New Roman", serif' font-size="54">0.015</text>
<text x="215.3" y="2549.2" text-anchor="end" font-family='"Liberation Serif", "Times New Roman", serif' font-size="54">0.01</text>
<text x="215.3" y="2682.3" text-anchor="end" font-family='"Liberation Serif", "Times New Roman", serif' font-size="54">0.005</text>
<text x="215.3" y="2815.3" text-anchor="end" font-family='"Liberation Serif", "Times New Roman", serif' font-size="54">0</text>
<text x="215.3" y="2948.3" text-anchor="end" font-family='"Liberation Serif", "Times New Roman", serif' font-size="54">-0.005</text>
<text x="215.3" y="3081.3" text-anchor="end" font-family='"Liberation Serif", "Times New Roman", serif' font-size="54">-0.01</text>
<text x="215.3" y="3214.4" text-anchor="end" font-family='"Liberation Serif", "Times New Roman", serif' font-size="54">-0.015</text>
<text x="215.3" y="3347.4" text-anchor="end" font-family='"Liberation Serif", "Times New Roman", serif' font-size="54">-0.02</text>
<text x="263.0" y="3411.0" text-anchor="middle" font-family='"Liberation Serif", "Times New Roman", serif' font-size="54">-3</text>
<text x="430.2" y="3411.0" text-anchor="middle" font-family='"Liberation Serif", "Times New Roman", serif' font-size="54">-2.5</text>
<text x="597.4" y="3411.0" text-anchor="middle" font-family='"Liberation Serif", "Times New Roman", serif' font-size="54">-2</text>
<text x="764.6" y="3411.0" text-anchor="middle" font-family='"Liberation Serif", "Times New Roman", serif' font-size="54">-1.5</text>
<text x="931.8" y="3411.0" text-anchor="middle" font-family='"Liberation Serif", "Times New Roman", serif' font-size="54">-1</text>
<text x="1099.0" y="3411.0" text-anchor="middle" font-family='"Liberation Serif", "Times New Roman", serif' font-size="54">-0.5</text>
<text x="1268.0" y="3411.0" text-anchor="middle" font-family='"Liberation Serif", "Times New Roman", serif' font-size="54">0</text>
<text x="1435.2" y="3411.0" text-anchor="middle" font-family='"Liberation Serif", "Times New Roman", serif' font-size="54">0.5</text>
<text x="1602.4" y="3411.0" text-anchor="middle" font-family='"Liberation Serif", "Times New Roman", serif' font-size="54">1</text>
<text x="1769.6" y="3411.0" text-anchor="middle" font-family='"Liberation Serif", "Times New Roman", serif' font-size="54">1.5</text>
<text x="1936.8" y="3411.0" text-anchor="middle" font-family='"Liberation Serif", "Times New Roman", serif' font-size="54">2</text>
<text x="2104.0" y="3411.0" text-anchor="middle" font-family='"Liberation Serif", "Times New Roman", serif' font-size="54">2.5</text>
<text x="880.2" y="2376.0" font-family='"Liberation Serif", "Times New Roman", serif' font-size="65.3" font-weight="bold"><tspan font-style="italic">y</tspan>=3.4 m, 4 knots</text>
<text x="1269.0" y="3166.7" text-anchor="middle" font-family='"Liberation Serif", "Times New Roman", serif' font-size="55.5" font-weight="bold">AP</text>
<text x="1605.4" y="3166.7" text-anchor="middle" font-family='"Liberation Serif", "Times New Roman", serif' font-size="55.5" font-weight="bold">FP</text>
<text transform="translate(62.0 2876.0) rotate(-90)" font-family='"Liberation Serif", "Times New Roman", serif' font-size="55" font-style="italic">η <tspan stroke="#fff" stroke-width="1.5">/</tspan> L<tspan font-style="normal" font-size="37.5" dy="12.5">PP</tspan></text>
<text x="1113.4" y="3470.8" font-family='"Liberation Serif", "Times New Roman", serif' font-size="55" font-style="italic">x <tspan stroke="#fff" stroke-width="1.5">/</tspan> L<tspan font-style="normal" font-size="37.5" dy="12.5">PP</tspan></text>
</svg>
</body></html>
